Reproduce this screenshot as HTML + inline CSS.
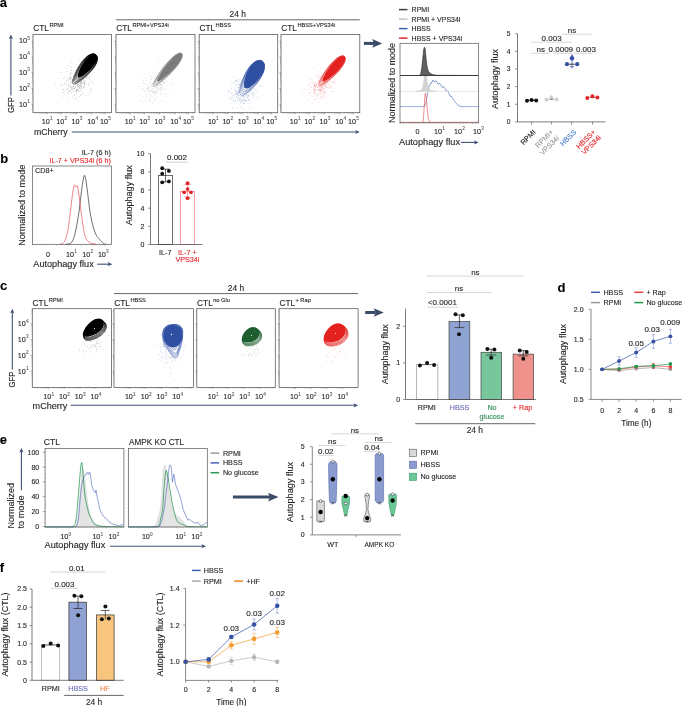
<!DOCTYPE html><html><head><meta charset="utf-8"><style>html,body{margin:0;padding:0;background:#fff;width:685px;height:706px;overflow:hidden}svg{display:block;will-change:transform}</style></head><body><svg width="685" height="706" viewBox="0 0 685 706" font-family='"Liberation Sans", sans-serif'><text x="-0.30" y="6.90" font-size="13" text-anchor="start" fill="#000" stroke="#000" stroke-width="0.12" font-weight="bold">a</text>
<text x="237.70" y="16.88" font-size="8.4" text-anchor="middle" fill="#262626" stroke="#262626" stroke-width="0.12">24 h</text>
<line x1="116.00" y1="19.80" x2="359.80" y2="19.80" stroke="#262626" stroke-width="0.7"/>
<text x="33.30" y="31.00" font-size="8.3" text-anchor="start" fill="#262626" stroke="#262626" stroke-width="0.12">CTL</text>
<text x="49.38" y="26.90" font-size="5.7" text-anchor="start" fill="#262626" stroke="#262626" stroke-width="0.12">RPMI</text>
<text x="116.30" y="31.00" font-size="8.3" text-anchor="start" fill="#262626" stroke="#262626" stroke-width="0.12">CTL</text>
<text x="132.38" y="26.90" font-size="5.7" text-anchor="start" fill="#262626" stroke="#262626" stroke-width="0.12">RPMI+VPS34i</text>
<text x="199.50" y="31.00" font-size="8.3" text-anchor="start" fill="#262626" stroke="#262626" stroke-width="0.12">CTL</text>
<text x="215.58" y="26.90" font-size="5.7" text-anchor="start" fill="#262626" stroke="#262626" stroke-width="0.12">HBSS</text>
<text x="281.30" y="31.00" font-size="8.3" text-anchor="start" fill="#262626" stroke="#262626" stroke-width="0.12">CTL</text>
<text x="297.38" y="26.90" font-size="5.7" text-anchor="start" fill="#262626" stroke="#262626" stroke-width="0.12">HBSS+VPS34i</text>
<path fill="#000" opacity="0.5" d="M78.1 86.2h0.5v0.5h-0.5zM73.9 82.7h0.5v0.5h-0.5zM71.3 87.1h0.5v0.5h-0.5zM83.7 78.1h0.5v0.5h-0.5zM82.4 77.8h0.5v0.5h-0.5zM79.3 81.2h0.5v0.5h-0.5zM73.6 95.6h0.5v0.5h-0.5zM81.4 81.8h0.5v0.5h-0.5zM59.9 85.2h0.5v0.5h-0.5zM70.1 85.8h0.5v0.5h-0.5zM77.7 80.8h0.5v0.5h-0.5zM75.5 77.1h0.5v0.5h-0.5zM80.0 82.5h0.5v0.5h-0.5zM82.6 93.4h0.5v0.5h-0.5zM85.3 84.4h0.5v0.5h-0.5zM69.9 83.2h0.5v0.5h-0.5zM74.5 84.2h0.5v0.5h-0.5zM80.6 80.1h0.5v0.5h-0.5zM69.6 81.3h0.5v0.5h-0.5zM80.6 90.6h0.5v0.5h-0.5zM74.2 88.3h0.5v0.5h-0.5zM70.6 74.2h0.5v0.5h-0.5zM83.6 87.7h0.5v0.5h-0.5zM65.9 92.8h0.5v0.5h-0.5zM71.8 79.9h0.5v0.5h-0.5zM78.4 79.6h0.5v0.5h-0.5zM74.4 94.4h0.5v0.5h-0.5zM84.4 82.7h0.5v0.5h-0.5zM84.8 76.0h0.5v0.5h-0.5zM70.3 76.7h0.5v0.5h-0.5zM76.1 76.7h0.5v0.5h-0.5zM67.9 80.1h0.5v0.5h-0.5zM69.5 86.0h0.5v0.5h-0.5zM71.6 67.1h0.5v0.5h-0.5zM71.3 91.9h0.5v0.5h-0.5zM86.0 76.8h0.5v0.5h-0.5zM55.0 83.2h0.5v0.5h-0.5zM74.3 77.6h0.5v0.5h-0.5zM76.7 93.0h0.5v0.5h-0.5zM82.2 77.1h0.5v0.5h-0.5zM79.9 83.1h0.5v0.5h-0.5zM86.8 76.2h0.5v0.5h-0.5zM81.7 82.0h0.5v0.5h-0.5zM76.3 96.8h0.5v0.5h-0.5zM83.5 79.4h0.5v0.5h-0.5zM64.5 91.3h0.5v0.5h-0.5zM70.8 70.5h0.5v0.5h-0.5zM81.0 87.9h0.5v0.5h-0.5zM79.1 96.7h0.5v0.5h-0.5zM78.2 78.9h0.5v0.5h-0.5zM81.4 83.5h0.5v0.5h-0.5zM83.1 86.7h0.5v0.5h-0.5zM71.4 84.7h0.5v0.5h-0.5zM81.3 76.9h0.5v0.5h-0.5zM77.6 91.5h0.5v0.5h-0.5zM80.7 72.5h0.5v0.5h-0.5zM69.7 90.0h0.5v0.5h-0.5zM74.3 82.3h0.5v0.5h-0.5zM77.4 70.5h0.5v0.5h-0.5zM75.5 70.3h0.5v0.5h-0.5zM76.3 89.7h0.5v0.5h-0.5zM86.0 79.8h0.5v0.5h-0.5zM78.8 81.3h0.5v0.5h-0.5zM80.2 84.2h0.5v0.5h-0.5zM77.2 84.8h0.5v0.5h-0.5zM79.1 79.4h0.5v0.5h-0.5zM82.9 80.7h0.5v0.5h-0.5zM87.1 72.6h0.5v0.5h-0.5zM72.7 83.6h0.5v0.5h-0.5zM81.3 86.5h0.5v0.5h-0.5zM77.1 86.2h0.5v0.5h-0.5zM71.3 61.8h0.5v0.5h-0.5zM72.8 90.0h0.5v0.5h-0.5zM79.6 81.4h0.5v0.5h-0.5zM78.1 87.8h0.5v0.5h-0.5zM75.1 78.9h0.5v0.5h-0.5zM89.2 70.3h0.5v0.5h-0.5zM73.6 85.4h0.5v0.5h-0.5zM75.2 83.7h0.5v0.5h-0.5zM61.9 96.2h0.5v0.5h-0.5zM74.9 72.2h0.5v0.5h-0.5zM81.2 86.9h0.5v0.5h-0.5zM88.1 83.9h0.5v0.5h-0.5zM67.2 90.9h0.5v0.5h-0.5zM78.3 87.2h0.5v0.5h-0.5zM67.4 65.5h0.5v0.5h-0.5zM73.8 70.6h0.5v0.5h-0.5zM71.8 72.7h0.5v0.5h-0.5zM83.6 86.6h0.5v0.5h-0.5zM76.9 84.3h0.5v0.5h-0.5zM80.8 78.7h0.5v0.5h-0.5zM84.2 89.4h0.5v0.5h-0.5zM79.7 75.5h0.5v0.5h-0.5zM82.7 62.4h0.5v0.5h-0.5zM79.2 76.4h0.5v0.5h-0.5zM80.8 84.8h0.5v0.5h-0.5zM80.9 84.0h0.5v0.5h-0.5zM61.9 85.2h0.5v0.5h-0.5zM74.2 75.3h0.5v0.5h-0.5zM64.3 82.5h0.5v0.5h-0.5zM86.1 78.5h0.5v0.5h-0.5zM78.2 70.5h0.5v0.5h-0.5zM70.6 78.0h0.5v0.5h-0.5zM88.2 84.8h0.5v0.5h-0.5zM80.7 94.1h0.5v0.5h-0.5zM80.0 76.3h0.5v0.5h-0.5zM75.1 99.6h0.5v0.5h-0.5zM73.0 80.8h0.5v0.5h-0.5zM80.5 82.1h0.5v0.5h-0.5zM77.9 70.0h0.5v0.5h-0.5zM89.3 82.3h0.5v0.5h-0.5zM82.0 73.7h0.5v0.5h-0.5zM78.6 91.1h0.5v0.5h-0.5zM77.7 82.5h0.5v0.5h-0.5zM81.5 73.5h0.5v0.5h-0.5zM64.3 94.1h0.5v0.5h-0.5zM72.6 96.5h0.5v0.5h-0.5zM74.8 78.4h0.5v0.5h-0.5zM80.8 86.1h0.5v0.5h-0.5zM83.8 87.6h0.5v0.5h-0.5zM81.7 87.3h0.5v0.5h-0.5zM91.6 80.8h0.5v0.5h-0.5zM78.2 90.1h0.5v0.5h-0.5zM62.6 88.9h0.5v0.5h-0.5zM73.4 98.2h0.5v0.5h-0.5zM71.0 89.6h0.5v0.5h-0.5zM75.5 83.6h0.5v0.5h-0.5zM75.1 87.0h0.5v0.5h-0.5zM84.7 72.7h0.5v0.5h-0.5zM84.1 83.7h0.5v0.5h-0.5zM69.1 78.7h0.5v0.5h-0.5zM79.7 90.2h0.5v0.5h-0.5zM66.1 89.6h0.5v0.5h-0.5zM85.1 80.2h0.5v0.5h-0.5zM80.8 85.9h0.5v0.5h-0.5zM71.1 76.9h0.5v0.5h-0.5zM66.3 88.9h0.5v0.5h-0.5zM77.7 75.1h0.5v0.5h-0.5zM68.5 84.6h0.5v0.5h-0.5zM69.1 90.9h0.5v0.5h-0.5zM73.2 90.9h0.5v0.5h-0.5zM67.8 97.4h0.5v0.5h-0.5zM63.5 78.4h0.5v0.5h-0.5zM78.3 77.4h0.5v0.5h-0.5zM62.1 91.8h0.5v0.5h-0.5zM75.4 79.2h0.5v0.5h-0.5zM83.9 81.3h0.5v0.5h-0.5zM81.2 80.2h0.5v0.5h-0.5zM85.9 77.8h0.5v0.5h-0.5zM67.7 71.6h0.5v0.5h-0.5zM87.4 82.9h0.5v0.5h-0.5zM72.8 82.4h0.5v0.5h-0.5zM76.0 64.5h0.5v0.5h-0.5zM91.3 89.9h0.5v0.5h-0.5zM76.0 90.8h0.5v0.5h-0.5zM84.3 71.5h0.5v0.5h-0.5zM83.7 83.2h0.5v0.5h-0.5zM72.1 87.5h0.5v0.5h-0.5zM82.1 84.4h0.5v0.5h-0.5zM75.4 82.1h0.5v0.5h-0.5zM70.2 87.0h0.5v0.5h-0.5zM81.0 78.0h0.5v0.5h-0.5zM68.4 84.1h0.5v0.5h-0.5zM94.3 72.2h0.5v0.5h-0.5zM65.8 68.5h0.5v0.5h-0.5zM81.8 81.1h0.5v0.5h-0.5zM86.2 74.9h0.5v0.5h-0.5zM79.0 85.2h0.5v0.5h-0.5zM73.3 97.9h0.5v0.5h-0.5zM74.3 78.0h0.5v0.5h-0.5zM91.9 82.5h0.5v0.5h-0.5zM66.8 87.9h0.5v0.5h-0.5zM78.8 81.8h0.5v0.5h-0.5zM69.7 81.0h0.5v0.5h-0.5zM91.4 74.9h0.5v0.5h-0.5zM64.2 84.0h0.5v0.5h-0.5zM89.3 77.0h0.5v0.5h-0.5zM88.8 75.7h0.5v0.5h-0.5zM74.0 88.7h0.5v0.5h-0.5zM63.1 91.9h0.5v0.5h-0.5zM79.0 85.1h0.5v0.5h-0.5zM72.7 86.3h0.5v0.5h-0.5zM80.5 81.6h0.5v0.5h-0.5zM80.5 79.9h0.5v0.5h-0.5zM79.2 87.7h0.5v0.5h-0.5zM72.4 79.0h0.5v0.5h-0.5zM73.8 86.2h0.5v0.5h-0.5zM76.9 83.9h0.5v0.5h-0.5zM77.5 83.4h0.5v0.5h-0.5zM69.4 78.3h0.5v0.5h-0.5zM83.9 84.6h0.5v0.5h-0.5zM77.5 79.4h0.5v0.5h-0.5zM73.5 76.2h0.5v0.5h-0.5zM68.4 93.7h0.5v0.5h-0.5zM76.3 91.0h0.5v0.5h-0.5zM58.0 78.1h0.5v0.5h-0.5zM80.2 95.0h0.5v0.5h-0.5zM67.7 79.3h0.5v0.5h-0.5zM75.9 89.1h0.5v0.5h-0.5zM79.7 80.6h0.5v0.5h-0.5zM86.8 77.1h0.5v0.5h-0.5zM79.6 85.2h0.5v0.5h-0.5zM88.9 77.3h0.5v0.5h-0.5zM75.4 72.4h0.5v0.5h-0.5zM79.7 86.5h0.5v0.5h-0.5zM80.8 88.7h0.5v0.5h-0.5zM83.9 83.0h0.5v0.5h-0.5zM88.9 94.3h0.5v0.5h-0.5zM80.9 74.8h0.5v0.5h-0.5zM90.5 92.8h0.5v0.5h-0.5zM79.6 88.2h0.5v0.5h-0.5zM80.9 77.1h0.5v0.5h-0.5zM72.3 90.1h0.5v0.5h-0.5zM84.0 85.2h0.5v0.5h-0.5zM80.1 78.3h0.5v0.5h-0.5zM83.1 80.0h0.5v0.5h-0.5zM77.7 81.7h0.5v0.5h-0.5zM79.0 86.9h0.5v0.5h-0.5zM68.6 86.1h0.5v0.5h-0.5zM68.9 76.7h0.5v0.5h-0.5zM64.1 76.9h0.5v0.5h-0.5zM76.5 88.9h0.5v0.5h-0.5zM78.8 79.2h0.5v0.5h-0.5zM68.1 78.2h0.5v0.5h-0.5zM87.3 74.4h0.5v0.5h-0.5zM76.8 72.9h0.5v0.5h-0.5zM66.2 76.3h0.5v0.5h-0.5zM84.9 82.1h0.5v0.5h-0.5zM67.9 93.2h0.5v0.5h-0.5zM70.1 71.9h0.5v0.5h-0.5zM62.9 88.7h0.5v0.5h-0.5zM66.4 80.5h0.5v0.5h-0.5zM78.0 83.5h0.5v0.5h-0.5zM83.0 81.9h0.5v0.5h-0.5zM89.3 78.9h0.5v0.5h-0.5zM68.1 88.1h0.5v0.5h-0.5zM66.2 84.3h0.5v0.5h-0.5zM76.2 83.2h0.5v0.5h-0.5zM70.4 73.4h0.5v0.5h-0.5zM70.9 89.6h0.5v0.5h-0.5zM74.0 82.5h0.5v0.5h-0.5zM72.3 79.9h0.5v0.5h-0.5zM81.5 80.1h0.5v0.5h-0.5zM72.6 80.4h0.5v0.5h-0.5zM61.5 72.6h0.5v0.5h-0.5zM72.4 88.4h0.5v0.5h-0.5zM70.9 92.0h0.5v0.5h-0.5zM70.0 76.2h0.5v0.5h-0.5zM73.8 82.8h0.5v0.5h-0.5zM81.8 82.6h0.5v0.5h-0.5zM71.9 79.4h0.5v0.5h-0.5zM75.6 83.2h0.5v0.5h-0.5zM81.3 79.7h0.5v0.5h-0.5zM66.3 81.2h0.5v0.5h-0.5zM71.0 81.8h0.5v0.5h-0.5zM71.0 88.5h0.5v0.5h-0.5zM74.9 85.9h0.5v0.5h-0.5zM76.7 78.0h0.5v0.5h-0.5zM85.2 68.2h0.5v0.5h-0.5zM82.1 76.9h0.5v0.5h-0.5zM69.1 66.6h0.5v0.5h-0.5zM74.5 87.9h0.5v0.5h-0.5zM91.4 88.8h0.5v0.5h-0.5zM84.7 86.1h0.5v0.5h-0.5zM84.9 82.2h0.5v0.5h-0.5zM78.0 79.1h0.5v0.5h-0.5zM73.2 75.4h0.5v0.5h-0.5zM76.5 71.8h0.5v0.5h-0.5zM88.7 89.9h0.5v0.5h-0.5zM75.7 84.0h0.5v0.5h-0.5zM81.8 76.2h0.5v0.5h-0.5zM74.3 88.3h0.5v0.5h-0.5zM82.8 82.3h0.5v0.5h-0.5zM82.3 94.2h0.5v0.5h-0.5zM84.0 73.3h0.5v0.5h-0.5zM75.5 79.4h0.5v0.5h-0.5zM79.1 71.8h0.5v0.5h-0.5zM77.0 76.9h0.5v0.5h-0.5zM77.2 89.5h0.5v0.5h-0.5zM82.4 75.1h0.5v0.5h-0.5zM77.8 89.8h0.5v0.5h-0.5zM77.9 84.2h0.5v0.5h-0.5zM89.2 78.7h0.5v0.5h-0.5zM86.2 94.9h0.5v0.5h-0.5zM80.7 85.9h0.5v0.5h-0.5zM73.4 86.2h0.5v0.5h-0.5zM78.1 99.9h0.5v0.5h-0.5zM76.2 70.0h0.5v0.5h-0.5zM61.4 84.6h0.5v0.5h-0.5zM79.4 74.1h0.5v0.5h-0.5zM74.6 81.7h0.5v0.5h-0.5zM70.3 78.9h0.5v0.5h-0.5zM69.1 76.7h0.5v0.5h-0.5zM77.8 84.3h0.5v0.5h-0.5zM77.4 79.1h0.5v0.5h-0.5zM73.4 88.5h0.5v0.5h-0.5zM82.6 91.8h0.5v0.5h-0.5zM79.3 77.8h0.5v0.5h-0.5zM70.8 82.5h0.5v0.5h-0.5zM70.5 86.6h0.5v0.5h-0.5zM80.5 83.1h0.5v0.5h-0.5zM90.0 88.0h0.5v0.5h-0.5zM73.5 86.7h0.5v0.5h-0.5zM79.2 59.2h0.5v0.5h-0.5zM75.1 86.3h0.5v0.5h-0.5zM79.4 83.5h0.5v0.5h-0.5zM77.4 85.5h0.5v0.5h-0.5zM80.8 85.5h0.5v0.5h-0.5zM63.5 89.8h0.5v0.5h-0.5zM71.1 78.5h0.5v0.5h-0.5zM75.2 91.2h0.5v0.5h-0.5zM77.0 89.0h0.5v0.5h-0.5zM81.4 79.7h0.5v0.5h-0.5zM78.2 79.4h0.5v0.5h-0.5zM70.1 90.5h0.5v0.5h-0.5zM75.8 77.9h0.5v0.5h-0.5zM80.0 86.3h0.5v0.5h-0.5zM76.0 90.3h0.5v0.5h-0.5zM81.9 69.8h0.5v0.5h-0.5zM76.4 81.2h0.5v0.5h-0.5zM85.0 75.2h0.5v0.5h-0.5zM76.9 74.8h0.5v0.5h-0.5zM76.4 82.7h0.5v0.5h-0.5zM76.2 98.6h0.5v0.5h-0.5zM71.4 70.4h0.5v0.5h-0.5zM79.2 77.9h0.5v0.5h-0.5zM80.4 81.6h0.5v0.5h-0.5zM68.8 90.3h0.5v0.5h-0.5zM80.2 71.9h0.5v0.5h-0.5zM64.9 82.9h0.5v0.5h-0.5z"/>
<path d="M95.77,54.75 L96.93,56.24 L97.41,58.35 L97.16,60.94 L96.16,63.85 L94.47,66.96 L92.18,70.11 L89.46,73.18 L86.49,76.05 L83.46,78.62 L80.57,80.79 L77.98,82.46 L75.82,83.56 L74.18,84.01 L73.11,83.75 L72.60,82.77 L72.64,81.07 L73.18,78.71 L74.18,75.80 L75.59,72.47 L77.35,68.91 L79.41,65.33 L81.73,61.94 L84.24,58.96 L86.84,56.57 L89.43,54.89 L91.87,54.03 L94.04,53.99 Z" fill="#fff" stroke="none"/>
<path d="M95.77,54.75 L96.93,56.24 L97.41,58.35 L97.16,60.94 L96.16,63.85 L94.47,66.96 L92.18,70.11 L89.46,73.18 L86.49,76.05 L83.46,78.62 L80.57,80.79 L77.98,82.46 L75.82,83.56 L74.18,84.01 L73.11,83.75 L72.60,82.77 L72.64,81.07 L73.18,78.71 L74.18,75.80 L75.59,72.47 L77.35,68.91 L79.41,65.33 L81.73,61.94 L84.24,58.96 L86.84,56.57 L89.43,54.89 L91.87,54.03 L94.04,53.99 Z" fill="none" stroke="#000" stroke-width="0.5"/>
<path d="M95.77,54.75 L96.88,56.18 L97.35,58.20 L97.11,60.68 L96.16,63.47 L94.54,66.44 L92.36,69.45 L89.75,72.39 L86.91,75.14 L84.01,77.59 L81.24,79.66 L78.76,81.26 L76.69,82.31 L75.13,82.74 L74.09,82.49 L73.61,81.55 L73.64,79.92 L74.16,77.67 L75.11,74.87 L76.45,71.69 L78.13,68.28 L80.11,64.85 L82.33,61.62 L84.72,58.77 L87.21,56.48 L89.69,54.88 L92.03,54.05 L94.11,54.02 Z" fill="none" stroke="#000" stroke-width="0.5"/>
<path d="M95.77,54.75 L96.84,56.12 L97.29,58.05 L97.07,60.42 L96.16,63.09 L94.62,65.92 L92.53,68.80 L90.04,71.60 L87.33,74.22 L84.56,76.57 L81.91,78.54 L79.54,80.06 L77.57,81.06 L76.07,81.47 L75.08,81.23 L74.61,80.33 L74.64,78.78 L75.13,76.62 L76.04,73.95 L77.31,70.91 L78.92,67.65 L80.80,64.38 L82.92,61.29 L85.20,58.57 L87.58,56.39 L89.95,54.86 L92.19,54.07 L94.18,54.05 Z" fill="none" stroke="#000" stroke-width="0.5"/>
<path d="M95.77,54.75 L96.79,56.06 L97.23,57.90 L97.02,60.16 L96.16,62.71 L94.69,65.41 L92.70,68.15 L90.34,70.81 L87.75,73.31 L85.11,75.54 L82.58,77.42 L80.32,78.87 L78.44,79.81 L77.01,80.20 L76.06,79.97 L75.62,79.11 L75.64,77.63 L76.10,75.57 L76.96,73.03 L78.18,70.12 L79.70,67.02 L81.49,63.91 L83.51,60.96 L85.69,58.37 L87.95,56.29 L90.21,54.84 L92.35,54.10 L94.25,54.08 Z" fill="none" stroke="#000" stroke-width="0.5"/>
<path d="M95.77,54.75 L96.74,56.00 L97.16,57.76 L96.97,59.90 L96.16,62.32 L94.76,64.89 L92.88,67.49 L90.63,70.03 L88.16,72.40 L85.65,74.51 L83.25,76.29 L81.10,77.67 L79.31,78.57 L77.95,78.93 L77.05,78.71 L76.62,77.89 L76.64,76.48 L77.08,74.52 L77.89,72.10 L79.04,69.34 L80.49,66.40 L82.19,63.43 L84.10,60.64 L86.17,58.18 L88.33,56.20 L90.48,54.83 L92.51,54.12 L94.32,54.10 Z" fill="none" stroke="#000" stroke-width="0.5"/>
<path d="M95.77,54.75 L96.70,55.94 L97.10,57.61 L96.92,59.65 L96.16,61.94 L94.84,64.37 L93.05,66.84 L90.92,69.24 L88.58,71.48 L86.20,73.48 L83.93,75.17 L81.89,76.47 L80.18,77.32 L78.89,77.66 L78.03,77.45 L77.62,76.67 L77.64,75.33 L78.05,73.47 L78.82,71.18 L79.90,68.56 L81.27,65.77 L82.88,62.96 L84.69,60.31 L86.65,57.98 L88.70,56.11 L90.74,54.81 L92.67,54.15 L94.39,54.13 Z" fill="#000" stroke="none"/>
<path fill="#7b7b7b" opacity="0.5" d="M149.1 95.8h0.5v0.5h-0.5zM167.3 75.7h0.5v0.5h-0.5zM166.7 93.0h0.5v0.5h-0.5zM148.8 86.9h0.5v0.5h-0.5zM160.8 84.4h0.5v0.5h-0.5zM143.6 88.5h0.5v0.5h-0.5zM157.9 84.9h0.5v0.5h-0.5zM146.2 94.3h0.5v0.5h-0.5zM153.8 91.6h0.5v0.5h-0.5zM154.0 86.4h0.5v0.5h-0.5zM157.7 92.6h0.5v0.5h-0.5zM161.9 74.7h0.5v0.5h-0.5zM156.8 77.0h0.5v0.5h-0.5zM158.9 88.4h0.5v0.5h-0.5zM162.6 73.8h0.5v0.5h-0.5zM155.5 87.2h0.5v0.5h-0.5zM146.0 96.5h0.5v0.5h-0.5zM152.6 92.1h0.5v0.5h-0.5zM139.2 86.1h0.5v0.5h-0.5zM156.5 86.7h0.5v0.5h-0.5zM155.7 93.3h0.5v0.5h-0.5zM150.6 85.5h0.5v0.5h-0.5zM150.9 76.4h0.5v0.5h-0.5zM150.8 90.6h0.5v0.5h-0.5zM159.5 79.3h0.5v0.5h-0.5zM154.0 81.2h0.5v0.5h-0.5zM164.4 90.4h0.5v0.5h-0.5zM161.6 100.1h0.5v0.5h-0.5zM151.2 90.5h0.5v0.5h-0.5zM160.7 88.7h0.5v0.5h-0.5zM138.0 86.3h0.5v0.5h-0.5zM162.4 84.8h0.5v0.5h-0.5zM170.8 91.9h0.5v0.5h-0.5zM157.5 85.5h0.5v0.5h-0.5zM162.4 80.9h0.5v0.5h-0.5zM159.6 69.4h0.5v0.5h-0.5zM137.2 75.0h0.5v0.5h-0.5zM158.3 78.8h0.5v0.5h-0.5zM170.4 87.9h0.5v0.5h-0.5zM153.9 85.0h0.5v0.5h-0.5zM148.2 86.1h0.5v0.5h-0.5zM154.1 92.9h0.5v0.5h-0.5zM155.6 85.9h0.5v0.5h-0.5zM158.1 90.7h0.5v0.5h-0.5zM157.4 81.9h0.5v0.5h-0.5zM158.4 80.7h0.5v0.5h-0.5zM154.6 99.8h0.5v0.5h-0.5zM153.6 78.9h0.5v0.5h-0.5zM163.2 79.7h0.5v0.5h-0.5zM152.8 103.3h0.5v0.5h-0.5zM161.1 87.1h0.5v0.5h-0.5zM155.6 84.0h0.5v0.5h-0.5zM150.0 100.6h0.5v0.5h-0.5zM153.9 84.6h0.5v0.5h-0.5zM157.5 83.8h0.5v0.5h-0.5zM157.5 79.7h0.5v0.5h-0.5zM145.1 77.8h0.5v0.5h-0.5zM155.5 91.6h0.5v0.5h-0.5zM161.6 75.1h0.5v0.5h-0.5zM161.5 93.0h0.5v0.5h-0.5zM156.4 91.1h0.5v0.5h-0.5zM165.5 74.3h0.5v0.5h-0.5zM159.3 74.5h0.5v0.5h-0.5zM156.0 84.2h0.5v0.5h-0.5zM160.9 89.6h0.5v0.5h-0.5zM166.6 66.5h0.5v0.5h-0.5zM153.8 91.9h0.5v0.5h-0.5zM150.9 95.3h0.5v0.5h-0.5zM157.3 80.8h0.5v0.5h-0.5zM151.3 76.1h0.5v0.5h-0.5zM152.7 74.5h0.5v0.5h-0.5zM148.3 88.6h0.5v0.5h-0.5zM156.5 92.1h0.5v0.5h-0.5zM153.8 83.8h0.5v0.5h-0.5zM165.5 88.3h0.5v0.5h-0.5zM156.7 87.3h0.5v0.5h-0.5zM163.8 78.3h0.5v0.5h-0.5zM158.5 104.7h0.5v0.5h-0.5zM159.5 62.6h0.5v0.5h-0.5zM156.7 87.9h0.5v0.5h-0.5zM164.0 81.8h0.5v0.5h-0.5zM148.6 83.7h0.5v0.5h-0.5zM160.4 89.3h0.5v0.5h-0.5zM143.8 89.5h0.5v0.5h-0.5zM146.1 78.5h0.5v0.5h-0.5zM151.5 86.0h0.5v0.5h-0.5zM154.6 80.0h0.5v0.5h-0.5zM147.9 90.6h0.5v0.5h-0.5zM151.7 83.7h0.5v0.5h-0.5zM158.5 88.8h0.5v0.5h-0.5zM170.0 84.3h0.5v0.5h-0.5zM148.4 89.8h0.5v0.5h-0.5zM148.5 110.8h0.5v0.5h-0.5zM150.5 90.9h0.5v0.5h-0.5zM152.1 76.9h0.5v0.5h-0.5zM157.8 82.6h0.5v0.5h-0.5zM145.2 99.9h0.5v0.5h-0.5zM153.9 70.2h0.5v0.5h-0.5zM160.9 81.1h0.5v0.5h-0.5zM159.9 84.3h0.5v0.5h-0.5zM162.0 75.9h0.5v0.5h-0.5zM158.5 78.2h0.5v0.5h-0.5zM155.8 77.6h0.5v0.5h-0.5zM162.2 93.5h0.5v0.5h-0.5zM157.1 82.2h0.5v0.5h-0.5zM144.5 90.9h0.5v0.5h-0.5zM160.5 88.3h0.5v0.5h-0.5zM160.0 85.0h0.5v0.5h-0.5zM160.9 91.5h0.5v0.5h-0.5zM150.2 86.5h0.5v0.5h-0.5zM160.8 80.0h0.5v0.5h-0.5zM150.7 85.6h0.5v0.5h-0.5zM156.3 90.2h0.5v0.5h-0.5zM151.7 78.7h0.5v0.5h-0.5zM158.5 83.6h0.5v0.5h-0.5zM152.4 96.0h0.5v0.5h-0.5zM151.8 86.6h0.5v0.5h-0.5zM165.9 85.5h0.5v0.5h-0.5zM152.8 92.5h0.5v0.5h-0.5zM160.2 101.2h0.5v0.5h-0.5zM157.5 94.1h0.5v0.5h-0.5zM154.8 93.7h0.5v0.5h-0.5zM157.1 60.4h0.5v0.5h-0.5zM154.7 91.0h0.5v0.5h-0.5zM151.5 84.0h0.5v0.5h-0.5zM168.5 71.1h0.5v0.5h-0.5zM148.9 100.8h0.5v0.5h-0.5zM149.8 102.5h0.5v0.5h-0.5zM152.2 90.6h0.5v0.5h-0.5zM163.3 77.5h0.5v0.5h-0.5zM138.9 89.0h0.5v0.5h-0.5zM165.6 80.5h0.5v0.5h-0.5zM154.0 95.0h0.5v0.5h-0.5zM161.0 85.0h0.5v0.5h-0.5zM139.9 100.6h0.5v0.5h-0.5zM163.9 82.5h0.5v0.5h-0.5zM149.3 70.1h0.5v0.5h-0.5zM158.3 86.7h0.5v0.5h-0.5zM166.3 64.3h0.5v0.5h-0.5zM153.2 88.4h0.5v0.5h-0.5zM158.5 78.0h0.5v0.5h-0.5zM158.5 74.8h0.5v0.5h-0.5zM154.3 82.0h0.5v0.5h-0.5zM152.9 82.1h0.5v0.5h-0.5zM150.3 101.4h0.5v0.5h-0.5zM154.4 81.6h0.5v0.5h-0.5zM160.8 88.4h0.5v0.5h-0.5zM148.6 92.4h0.5v0.5h-0.5zM160.7 84.2h0.5v0.5h-0.5zM143.5 80.0h0.5v0.5h-0.5zM164.1 78.5h0.5v0.5h-0.5zM153.9 84.7h0.5v0.5h-0.5zM154.7 82.4h0.5v0.5h-0.5zM145.5 90.2h0.5v0.5h-0.5zM148.6 87.7h0.5v0.5h-0.5zM150.9 96.6h0.5v0.5h-0.5zM150.0 97.7h0.5v0.5h-0.5zM150.5 94.4h0.5v0.5h-0.5zM164.4 77.1h0.5v0.5h-0.5zM150.8 91.3h0.5v0.5h-0.5zM148.1 78.1h0.5v0.5h-0.5zM152.1 90.8h0.5v0.5h-0.5zM152.6 89.5h0.5v0.5h-0.5zM163.0 83.8h0.5v0.5h-0.5zM163.2 81.9h0.5v0.5h-0.5zM153.2 87.9h0.5v0.5h-0.5zM152.0 86.6h0.5v0.5h-0.5zM146.1 80.4h0.5v0.5h-0.5zM152.9 88.2h0.5v0.5h-0.5zM149.0 92.7h0.5v0.5h-0.5zM157.5 81.7h0.5v0.5h-0.5zM155.9 61.1h0.5v0.5h-0.5zM145.5 80.2h0.5v0.5h-0.5zM173.1 89.5h0.5v0.5h-0.5zM140.4 104.0h0.5v0.5h-0.5zM156.8 81.1h0.5v0.5h-0.5zM148.3 73.2h0.5v0.5h-0.5zM161.9 81.4h0.5v0.5h-0.5zM152.5 83.5h0.5v0.5h-0.5zM156.7 79.5h0.5v0.5h-0.5zM154.1 82.4h0.5v0.5h-0.5zM141.2 101.6h0.5v0.5h-0.5zM159.7 87.5h0.5v0.5h-0.5zM149.6 92.0h0.5v0.5h-0.5zM159.5 82.2h0.5v0.5h-0.5zM171.7 85.1h0.5v0.5h-0.5zM140.8 84.8h0.5v0.5h-0.5zM167.2 85.9h0.5v0.5h-0.5zM164.4 82.7h0.5v0.5h-0.5zM148.0 87.5h0.5v0.5h-0.5zM156.3 76.1h0.5v0.5h-0.5zM139.5 94.7h0.5v0.5h-0.5zM179.0 76.0h0.5v0.5h-0.5zM147.6 87.9h0.5v0.5h-0.5zM153.1 81.4h0.5v0.5h-0.5zM162.7 76.4h0.5v0.5h-0.5zM154.4 98.7h0.5v0.5h-0.5zM152.5 90.9h0.5v0.5h-0.5zM153.6 84.8h0.5v0.5h-0.5zM153.9 80.9h0.5v0.5h-0.5zM133.8 90.2h0.5v0.5h-0.5zM143.9 91.8h0.5v0.5h-0.5zM155.2 86.3h0.5v0.5h-0.5zM159.0 82.5h0.5v0.5h-0.5zM147.0 88.7h0.5v0.5h-0.5zM141.4 100.1h0.5v0.5h-0.5zM160.4 84.6h0.5v0.5h-0.5zM153.5 86.1h0.5v0.5h-0.5zM160.8 79.4h0.5v0.5h-0.5zM162.2 83.0h0.5v0.5h-0.5zM162.3 89.6h0.5v0.5h-0.5zM149.9 88.5h0.5v0.5h-0.5zM146.5 88.5h0.5v0.5h-0.5zM172.5 81.9h0.5v0.5h-0.5zM157.8 88.0h0.5v0.5h-0.5zM165.9 80.9h0.5v0.5h-0.5zM156.7 72.5h0.5v0.5h-0.5zM153.2 92.2h0.5v0.5h-0.5zM164.3 76.3h0.5v0.5h-0.5zM148.2 90.6h0.5v0.5h-0.5zM147.1 87.2h0.5v0.5h-0.5zM161.4 72.9h0.5v0.5h-0.5zM165.0 94.3h0.5v0.5h-0.5zM163.8 78.9h0.5v0.5h-0.5zM153.2 91.8h0.5v0.5h-0.5zM167.8 77.0h0.5v0.5h-0.5zM163.2 77.5h0.5v0.5h-0.5zM157.3 81.5h0.5v0.5h-0.5zM163.5 88.1h0.5v0.5h-0.5zM146.0 95.7h0.5v0.5h-0.5zM153.9 82.0h0.5v0.5h-0.5zM156.7 91.2h0.5v0.5h-0.5zM170.1 74.4h0.5v0.5h-0.5zM150.0 77.5h0.5v0.5h-0.5zM167.2 72.7h0.5v0.5h-0.5zM149.8 81.8h0.5v0.5h-0.5zM149.7 82.0h0.5v0.5h-0.5zM157.6 87.3h0.5v0.5h-0.5zM156.5 86.8h0.5v0.5h-0.5zM156.3 97.5h0.5v0.5h-0.5zM142.8 83.4h0.5v0.5h-0.5zM150.4 84.2h0.5v0.5h-0.5zM147.3 91.6h0.5v0.5h-0.5zM151.5 79.2h0.5v0.5h-0.5zM160.7 92.5h0.5v0.5h-0.5zM158.5 80.5h0.5v0.5h-0.5zM155.3 84.6h0.5v0.5h-0.5zM158.1 89.2h0.5v0.5h-0.5zM143.6 77.1h0.5v0.5h-0.5zM150.9 82.6h0.5v0.5h-0.5zM156.3 79.0h0.5v0.5h-0.5zM165.8 93.5h0.5v0.5h-0.5zM143.6 88.9h0.5v0.5h-0.5zM135.6 86.4h0.5v0.5h-0.5zM145.2 100.6h0.5v0.5h-0.5zM142.7 83.1h0.5v0.5h-0.5zM148.8 98.8h0.5v0.5h-0.5zM148.7 89.9h0.5v0.5h-0.5zM163.2 89.0h0.5v0.5h-0.5zM171.6 76.4h0.5v0.5h-0.5zM156.8 85.7h0.5v0.5h-0.5zM172.5 78.9h0.5v0.5h-0.5zM155.2 89.9h0.5v0.5h-0.5zM157.0 84.1h0.5v0.5h-0.5zM146.0 84.2h0.5v0.5h-0.5zM144.8 83.6h0.5v0.5h-0.5zM164.9 79.5h0.5v0.5h-0.5zM154.0 99.9h0.5v0.5h-0.5zM151.9 72.2h0.5v0.5h-0.5zM170.0 76.2h0.5v0.5h-0.5zM162.1 66.6h0.5v0.5h-0.5zM160.2 83.9h0.5v0.5h-0.5zM157.1 85.2h0.5v0.5h-0.5zM154.7 72.7h0.5v0.5h-0.5zM141.2 89.2h0.5v0.5h-0.5zM148.9 87.5h0.5v0.5h-0.5zM158.5 84.4h0.5v0.5h-0.5zM152.2 83.1h0.5v0.5h-0.5zM156.7 92.8h0.5v0.5h-0.5zM160.2 81.0h0.5v0.5h-0.5zM160.1 94.3h0.5v0.5h-0.5zM154.4 92.7h0.5v0.5h-0.5zM160.9 76.8h0.5v0.5h-0.5zM155.0 75.7h0.5v0.5h-0.5zM162.1 79.6h0.5v0.5h-0.5zM148.4 99.7h0.5v0.5h-0.5zM155.4 97.2h0.5v0.5h-0.5zM150.2 90.1h0.5v0.5h-0.5zM155.3 82.6h0.5v0.5h-0.5zM154.1 81.9h0.5v0.5h-0.5zM159.2 81.2h0.5v0.5h-0.5zM143.9 73.6h0.5v0.5h-0.5zM162.3 77.9h0.5v0.5h-0.5zM144.6 98.8h0.5v0.5h-0.5zM162.8 86.9h0.5v0.5h-0.5zM155.5 99.6h0.5v0.5h-0.5zM164.9 96.5h0.5v0.5h-0.5zM157.2 89.6h0.5v0.5h-0.5zM147.8 84.1h0.5v0.5h-0.5zM165.8 81.8h0.5v0.5h-0.5zM168.3 78.5h0.5v0.5h-0.5zM144.0 83.4h0.5v0.5h-0.5zM148.0 87.8h0.5v0.5h-0.5zM152.7 93.9h0.5v0.5h-0.5zM155.8 82.6h0.5v0.5h-0.5zM155.4 84.1h0.5v0.5h-0.5zM159.8 87.4h0.5v0.5h-0.5zM157.8 76.5h0.5v0.5h-0.5zM152.3 102.1h0.5v0.5h-0.5zM160.8 89.5h0.5v0.5h-0.5zM143.5 96.2h0.5v0.5h-0.5zM148.7 80.1h0.5v0.5h-0.5zM155.2 92.4h0.5v0.5h-0.5zM168.9 84.6h0.5v0.5h-0.5zM143.4 86.5h0.5v0.5h-0.5zM162.5 86.0h0.5v0.5h-0.5zM150.3 79.5h0.5v0.5h-0.5zM163.4 83.6h0.5v0.5h-0.5zM156.2 80.1h0.5v0.5h-0.5zM160.5 86.9h0.5v0.5h-0.5zM143.3 82.6h0.5v0.5h-0.5zM159.2 85.5h0.5v0.5h-0.5zM159.2 89.3h0.5v0.5h-0.5zM151.1 89.7h0.5v0.5h-0.5zM155.8 90.3h0.5v0.5h-0.5zM163.7 73.7h0.5v0.5h-0.5zM174.5 77.5h0.5v0.5h-0.5zM162.5 82.7h0.5v0.5h-0.5zM165.0 72.8h0.5v0.5h-0.5zM149.6 82.5h0.5v0.5h-0.5z"/>
<path d="M181.60,53.56 L182.23,54.83 L182.09,56.82 L181.17,59.43 L179.49,62.50 L177.14,65.88 L174.25,69.42 L170.99,72.96 L167.56,76.34 L164.14,79.42 L160.95,82.07 L158.14,84.16 L155.86,85.59 L154.22,86.28 L153.26,86.17 L153.02,85.24 L153.47,83.51 L154.57,81.06 L156.25,77.98 L158.42,74.45 L161.00,70.64 L163.87,66.77 L166.92,63.05 L170.02,59.70 L173.05,56.90 L175.86,54.81 L178.31,53.53 L180.26,53.11 Z" fill="#fff" stroke="none"/>
<path d="M181.60,53.56 L182.23,54.83 L182.09,56.82 L181.17,59.43 L179.49,62.50 L177.14,65.88 L174.25,69.42 L170.99,72.96 L167.56,76.34 L164.14,79.42 L160.95,82.07 L158.14,84.16 L155.86,85.59 L154.22,86.28 L153.26,86.17 L153.02,85.24 L153.47,83.51 L154.57,81.06 L156.25,77.98 L158.42,74.45 L161.00,70.64 L163.87,66.77 L166.92,63.05 L170.02,59.70 L173.05,56.90 L175.86,54.81 L178.31,53.53 L180.26,53.11 Z" fill="none" stroke="#7b7b7b" stroke-width="0.5"/>
<path d="M181.60,53.56 L182.20,54.77 L182.06,56.66 L181.17,59.14 L179.57,62.07 L177.33,65.30 L174.57,68.67 L171.47,72.05 L168.19,75.28 L164.94,78.22 L161.89,80.74 L159.22,82.74 L157.05,84.10 L155.48,84.76 L154.57,84.66 L154.34,83.77 L154.77,82.13 L155.83,79.79 L157.43,76.86 L159.51,73.49 L161.97,69.86 L164.71,66.17 L167.62,62.63 L170.58,59.43 L173.46,56.76 L176.13,54.76 L178.47,53.54 L180.33,53.14 Z" fill="none" stroke="#7b7b7b" stroke-width="0.5"/>
<path d="M181.60,53.56 L182.17,54.70 L182.03,56.51 L181.18,58.86 L179.65,61.65 L177.52,64.71 L174.90,67.93 L171.94,71.14 L168.83,74.21 L165.74,77.01 L162.84,79.41 L160.30,81.32 L158.23,82.62 L156.75,83.24 L155.89,83.15 L155.67,82.31 L156.08,80.75 L157.09,78.52 L158.61,75.74 L160.59,72.54 L162.94,69.09 L165.54,65.57 L168.31,62.20 L171.13,59.16 L173.87,56.62 L176.41,54.72 L178.63,53.55 L180.39,53.16 Z" fill="none" stroke="#7b7b7b" stroke-width="0.5"/>
<path d="M181.60,53.56 L182.13,54.64 L182.00,56.35 L181.19,58.58 L179.74,61.22 L177.71,64.13 L175.22,67.18 L172.42,70.22 L169.46,73.14 L166.53,75.80 L163.78,78.08 L161.37,79.89 L159.42,81.13 L158.01,81.73 L157.20,81.64 L157.00,80.84 L157.39,79.37 L158.35,77.26 L159.80,74.62 L161.68,71.58 L163.91,68.31 L166.38,64.98 L169.01,61.78 L171.68,58.89 L174.28,56.48 L176.69,54.67 L178.79,53.56 L180.46,53.19 Z" fill="#7b7b7b" stroke="none"/>
<path fill="#2f4fa2" opacity="0.5" d="M252.0 93.2h0.5v0.5h-0.5zM247.3 89.7h0.5v0.5h-0.5zM243.1 93.4h0.5v0.5h-0.5zM243.2 103.8h0.5v0.5h-0.5zM235.5 90.4h0.5v0.5h-0.5zM235.7 93.4h0.5v0.5h-0.5zM251.9 89.9h0.5v0.5h-0.5zM242.8 102.9h0.5v0.5h-0.5zM243.3 84.2h0.5v0.5h-0.5zM233.3 98.1h0.5v0.5h-0.5zM242.4 96.6h0.5v0.5h-0.5zM230.8 87.0h0.5v0.5h-0.5zM235.7 85.0h0.5v0.5h-0.5zM240.0 82.0h0.5v0.5h-0.5zM235.8 92.9h0.5v0.5h-0.5zM247.9 99.2h0.5v0.5h-0.5zM249.5 88.4h0.5v0.5h-0.5zM236.0 84.4h0.5v0.5h-0.5zM238.1 92.9h0.5v0.5h-0.5zM242.0 99.2h0.5v0.5h-0.5zM236.4 93.7h0.5v0.5h-0.5zM228.0 91.1h0.5v0.5h-0.5zM252.4 92.4h0.5v0.5h-0.5zM238.5 87.2h0.5v0.5h-0.5zM233.6 108.7h0.5v0.5h-0.5zM249.2 85.1h0.5v0.5h-0.5zM254.4 90.8h0.5v0.5h-0.5zM244.9 83.2h0.5v0.5h-0.5zM251.2 87.7h0.5v0.5h-0.5zM235.0 99.6h0.5v0.5h-0.5zM237.0 99.9h0.5v0.5h-0.5zM239.5 84.5h0.5v0.5h-0.5zM242.1 108.4h0.5v0.5h-0.5zM252.3 94.2h0.5v0.5h-0.5zM243.6 103.2h0.5v0.5h-0.5zM261.6 85.6h0.5v0.5h-0.5zM243.6 93.7h0.5v0.5h-0.5zM247.7 95.8h0.5v0.5h-0.5zM247.4 85.5h0.5v0.5h-0.5zM241.8 102.3h0.5v0.5h-0.5zM244.6 96.5h0.5v0.5h-0.5zM252.7 95.4h0.5v0.5h-0.5zM244.9 83.1h0.5v0.5h-0.5zM253.8 95.3h0.5v0.5h-0.5zM243.3 96.3h0.5v0.5h-0.5zM254.3 88.5h0.5v0.5h-0.5zM237.9 84.0h0.5v0.5h-0.5zM239.5 100.1h0.5v0.5h-0.5zM258.1 97.7h0.5v0.5h-0.5zM245.8 100.6h0.5v0.5h-0.5zM237.0 81.3h0.5v0.5h-0.5zM240.8 97.1h0.5v0.5h-0.5zM240.3 94.1h0.5v0.5h-0.5zM240.5 86.0h0.5v0.5h-0.5zM241.4 86.6h0.5v0.5h-0.5zM243.8 96.7h0.5v0.5h-0.5zM242.3 96.0h0.5v0.5h-0.5zM249.2 81.9h0.5v0.5h-0.5zM246.4 94.9h0.5v0.5h-0.5zM247.4 97.4h0.5v0.5h-0.5zM241.4 101.5h0.5v0.5h-0.5zM236.8 92.0h0.5v0.5h-0.5zM245.2 77.9h0.5v0.5h-0.5zM253.2 83.0h0.5v0.5h-0.5zM243.3 79.4h0.5v0.5h-0.5zM255.4 89.1h0.5v0.5h-0.5zM241.9 91.8h0.5v0.5h-0.5zM253.3 77.2h0.5v0.5h-0.5zM238.0 92.0h0.5v0.5h-0.5zM246.5 89.9h0.5v0.5h-0.5zM252.9 96.2h0.5v0.5h-0.5zM244.3 95.1h0.5v0.5h-0.5zM243.2 79.3h0.5v0.5h-0.5zM256.8 91.3h0.5v0.5h-0.5zM232.0 96.2h0.5v0.5h-0.5zM229.2 91.7h0.5v0.5h-0.5zM234.8 82.6h0.5v0.5h-0.5zM252.7 93.4h0.5v0.5h-0.5zM235.1 100.4h0.5v0.5h-0.5zM239.8 105.9h0.5v0.5h-0.5zM238.8 95.2h0.5v0.5h-0.5zM246.1 93.0h0.5v0.5h-0.5zM241.8 93.7h0.5v0.5h-0.5zM241.5 95.3h0.5v0.5h-0.5zM238.9 98.9h0.5v0.5h-0.5zM233.0 101.7h0.5v0.5h-0.5zM250.7 80.1h0.5v0.5h-0.5zM239.6 100.1h0.5v0.5h-0.5zM230.5 92.0h0.5v0.5h-0.5zM244.1 98.5h0.5v0.5h-0.5zM243.9 88.9h0.5v0.5h-0.5zM233.7 93.6h0.5v0.5h-0.5zM249.5 84.1h0.5v0.5h-0.5zM228.1 90.3h0.5v0.5h-0.5zM251.0 108.2h0.5v0.5h-0.5zM238.2 98.3h0.5v0.5h-0.5zM243.0 89.8h0.5v0.5h-0.5zM234.6 88.7h0.5v0.5h-0.5zM248.0 103.6h0.5v0.5h-0.5zM244.6 99.0h0.5v0.5h-0.5zM235.1 101.0h0.5v0.5h-0.5zM249.5 93.4h0.5v0.5h-0.5zM241.9 100.4h0.5v0.5h-0.5zM240.5 86.7h0.5v0.5h-0.5zM240.0 85.6h0.5v0.5h-0.5zM239.9 96.4h0.5v0.5h-0.5zM232.1 107.8h0.5v0.5h-0.5zM231.4 92.8h0.5v0.5h-0.5zM245.5 96.7h0.5v0.5h-0.5zM248.2 98.3h0.5v0.5h-0.5zM231.6 94.3h0.5v0.5h-0.5zM251.1 83.4h0.5v0.5h-0.5zM242.2 83.0h0.5v0.5h-0.5zM247.5 87.5h0.5v0.5h-0.5zM245.6 87.7h0.5v0.5h-0.5zM244.1 82.0h0.5v0.5h-0.5zM231.4 92.5h0.5v0.5h-0.5zM243.5 82.0h0.5v0.5h-0.5zM234.0 94.8h0.5v0.5h-0.5zM234.5 90.0h0.5v0.5h-0.5zM238.5 91.2h0.5v0.5h-0.5zM235.8 91.7h0.5v0.5h-0.5zM240.7 89.8h0.5v0.5h-0.5zM244.8 91.7h0.5v0.5h-0.5zM232.6 82.2h0.5v0.5h-0.5zM236.7 92.2h0.5v0.5h-0.5zM237.5 81.6h0.5v0.5h-0.5zM238.7 94.9h0.5v0.5h-0.5zM247.0 96.9h0.5v0.5h-0.5zM246.5 97.5h0.5v0.5h-0.5zM227.7 94.5h0.5v0.5h-0.5zM250.0 85.6h0.5v0.5h-0.5zM245.5 89.0h0.5v0.5h-0.5zM238.4 84.5h0.5v0.5h-0.5zM243.8 84.0h0.5v0.5h-0.5zM247.2 85.8h0.5v0.5h-0.5zM228.6 99.3h0.5v0.5h-0.5zM246.6 84.2h0.5v0.5h-0.5zM242.8 94.8h0.5v0.5h-0.5zM238.5 92.3h0.5v0.5h-0.5zM244.2 91.4h0.5v0.5h-0.5zM249.0 82.5h0.5v0.5h-0.5zM259.8 86.1h0.5v0.5h-0.5zM255.2 84.6h0.5v0.5h-0.5zM244.2 91.2h0.5v0.5h-0.5zM238.6 90.0h0.5v0.5h-0.5zM239.3 89.8h0.5v0.5h-0.5zM252.1 83.3h0.5v0.5h-0.5zM231.1 87.9h0.5v0.5h-0.5zM240.6 90.5h0.5v0.5h-0.5zM232.8 94.4h0.5v0.5h-0.5zM237.5 107.2h0.5v0.5h-0.5zM256.5 100.6h0.5v0.5h-0.5zM242.1 91.3h0.5v0.5h-0.5zM249.2 83.2h0.5v0.5h-0.5zM241.7 89.3h0.5v0.5h-0.5zM248.7 100.3h0.5v0.5h-0.5zM256.0 91.2h0.5v0.5h-0.5zM241.8 93.8h0.5v0.5h-0.5zM244.8 100.2h0.5v0.5h-0.5zM240.7 102.0h0.5v0.5h-0.5zM254.7 89.6h0.5v0.5h-0.5zM245.2 100.9h0.5v0.5h-0.5zM236.2 93.4h0.5v0.5h-0.5zM244.1 103.5h0.5v0.5h-0.5zM246.1 79.5h0.5v0.5h-0.5zM238.3 95.1h0.5v0.5h-0.5zM257.9 79.6h0.5v0.5h-0.5zM231.3 88.9h0.5v0.5h-0.5zM246.8 99.6h0.5v0.5h-0.5zM248.7 79.3h0.5v0.5h-0.5zM237.6 94.1h0.5v0.5h-0.5zM240.7 106.1h0.5v0.5h-0.5zM244.5 101.7h0.5v0.5h-0.5zM229.7 97.7h0.5v0.5h-0.5zM240.0 87.3h0.5v0.5h-0.5zM246.0 86.8h0.5v0.5h-0.5zM241.8 100.8h0.5v0.5h-0.5zM236.0 80.0h0.5v0.5h-0.5zM252.6 82.1h0.5v0.5h-0.5zM236.0 80.7h0.5v0.5h-0.5zM238.4 94.8h0.5v0.5h-0.5zM239.3 80.1h0.5v0.5h-0.5zM228.8 90.2h0.5v0.5h-0.5zM243.9 94.2h0.5v0.5h-0.5zM233.4 99.9h0.5v0.5h-0.5zM253.4 93.7h0.5v0.5h-0.5zM243.9 86.5h0.5v0.5h-0.5zM233.5 95.6h0.5v0.5h-0.5zM241.3 96.1h0.5v0.5h-0.5zM251.7 97.4h0.5v0.5h-0.5zM238.4 86.2h0.5v0.5h-0.5zM254.0 85.3h0.5v0.5h-0.5zM239.5 88.5h0.5v0.5h-0.5zM230.4 99.6h0.5v0.5h-0.5zM242.2 83.3h0.5v0.5h-0.5zM239.0 100.3h0.5v0.5h-0.5zM247.2 92.1h0.5v0.5h-0.5zM253.0 92.3h0.5v0.5h-0.5zM245.0 100.0h0.5v0.5h-0.5zM242.9 99.9h0.5v0.5h-0.5zM245.0 91.3h0.5v0.5h-0.5zM246.6 85.6h0.5v0.5h-0.5zM251.9 87.7h0.5v0.5h-0.5zM240.5 88.8h0.5v0.5h-0.5zM237.3 94.4h0.5v0.5h-0.5zM242.1 92.7h0.5v0.5h-0.5zM257.8 75.5h0.5v0.5h-0.5zM241.3 84.0h0.5v0.5h-0.5zM238.6 94.8h0.5v0.5h-0.5zM238.2 86.9h0.5v0.5h-0.5zM246.1 79.8h0.5v0.5h-0.5zM234.6 77.2h0.5v0.5h-0.5zM244.5 92.5h0.5v0.5h-0.5zM246.9 92.4h0.5v0.5h-0.5zM244.9 90.4h0.5v0.5h-0.5zM232.0 100.7h0.5v0.5h-0.5zM237.4 108.0h0.5v0.5h-0.5zM243.1 89.0h0.5v0.5h-0.5zM236.8 94.6h0.5v0.5h-0.5zM259.3 86.1h0.5v0.5h-0.5zM249.7 96.2h0.5v0.5h-0.5zM226.6 94.8h0.5v0.5h-0.5zM236.5 91.6h0.5v0.5h-0.5zM241.9 95.6h0.5v0.5h-0.5zM251.0 70.9h0.5v0.5h-0.5zM244.7 92.2h0.5v0.5h-0.5zM247.8 94.9h0.5v0.5h-0.5zM243.1 76.6h0.5v0.5h-0.5zM242.2 89.7h0.5v0.5h-0.5zM236.2 84.3h0.5v0.5h-0.5zM223.9 94.6h0.5v0.5h-0.5zM246.0 89.0h0.5v0.5h-0.5zM230.6 83.2h0.5v0.5h-0.5zM237.5 91.3h0.5v0.5h-0.5zM232.7 97.1h0.5v0.5h-0.5zM248.6 89.1h0.5v0.5h-0.5zM245.7 93.4h0.5v0.5h-0.5zM241.1 95.5h0.5v0.5h-0.5zM246.1 93.2h0.5v0.5h-0.5zM242.0 91.5h0.5v0.5h-0.5zM239.0 90.2h0.5v0.5h-0.5zM254.3 79.6h0.5v0.5h-0.5zM256.9 96.6h0.5v0.5h-0.5zM240.0 77.8h0.5v0.5h-0.5zM250.1 90.1h0.5v0.5h-0.5zM257.2 84.4h0.5v0.5h-0.5zM239.7 82.9h0.5v0.5h-0.5zM241.1 97.8h0.5v0.5h-0.5zM239.5 85.1h0.5v0.5h-0.5zM239.4 92.6h0.5v0.5h-0.5zM245.0 92.3h0.5v0.5h-0.5zM235.3 89.2h0.5v0.5h-0.5zM256.3 89.3h0.5v0.5h-0.5zM248.1 95.6h0.5v0.5h-0.5zM248.2 91.1h0.5v0.5h-0.5zM240.8 86.1h0.5v0.5h-0.5zM250.6 91.4h0.5v0.5h-0.5zM250.1 103.6h0.5v0.5h-0.5zM260.7 84.9h0.5v0.5h-0.5zM254.6 81.9h0.5v0.5h-0.5zM238.5 91.6h0.5v0.5h-0.5zM240.5 96.9h0.5v0.5h-0.5zM246.5 94.0h0.5v0.5h-0.5zM247.6 111.6h0.5v0.5h-0.5zM251.5 77.6h0.5v0.5h-0.5zM248.1 89.0h0.5v0.5h-0.5zM242.9 89.2h0.5v0.5h-0.5zM238.1 89.6h0.5v0.5h-0.5zM243.6 90.4h0.5v0.5h-0.5zM239.7 86.8h0.5v0.5h-0.5zM243.4 91.5h0.5v0.5h-0.5zM239.6 84.3h0.5v0.5h-0.5zM249.9 92.3h0.5v0.5h-0.5zM243.3 86.7h0.5v0.5h-0.5zM239.9 93.8h0.5v0.5h-0.5zM254.1 92.3h0.5v0.5h-0.5zM239.0 90.4h0.5v0.5h-0.5zM245.5 89.9h0.5v0.5h-0.5zM235.6 94.6h0.5v0.5h-0.5zM246.2 94.4h0.5v0.5h-0.5zM233.0 95.4h0.5v0.5h-0.5zM238.4 84.4h0.5v0.5h-0.5zM245.3 92.1h0.5v0.5h-0.5zM237.1 88.8h0.5v0.5h-0.5zM241.0 90.8h0.5v0.5h-0.5zM239.8 86.7h0.5v0.5h-0.5zM238.2 79.3h0.5v0.5h-0.5zM242.4 92.7h0.5v0.5h-0.5zM243.4 83.7h0.5v0.5h-0.5zM242.1 86.3h0.5v0.5h-0.5zM255.1 92.9h0.5v0.5h-0.5zM243.8 95.5h0.5v0.5h-0.5zM244.7 100.5h0.5v0.5h-0.5zM247.8 84.3h0.5v0.5h-0.5zM240.8 99.8h0.5v0.5h-0.5zM253.2 88.2h0.5v0.5h-0.5zM236.3 80.5h0.5v0.5h-0.5zM248.0 100.5h0.5v0.5h-0.5zM244.4 102.8h0.5v0.5h-0.5zM254.3 82.6h0.5v0.5h-0.5zM245.5 83.6h0.5v0.5h-0.5zM237.8 98.7h0.5v0.5h-0.5zM242.0 92.6h0.5v0.5h-0.5zM244.9 86.8h0.5v0.5h-0.5zM246.0 91.8h0.5v0.5h-0.5zM252.8 97.7h0.5v0.5h-0.5zM245.1 89.1h0.5v0.5h-0.5zM238.9 90.7h0.5v0.5h-0.5zM248.9 83.9h0.5v0.5h-0.5zM235.9 96.3h0.5v0.5h-0.5zM240.1 90.9h0.5v0.5h-0.5zM240.9 81.1h0.5v0.5h-0.5zM245.6 89.0h0.5v0.5h-0.5zM238.8 98.9h0.5v0.5h-0.5zM245.3 93.8h0.5v0.5h-0.5zM242.9 95.3h0.5v0.5h-0.5zM230.9 98.1h0.5v0.5h-0.5zM251.6 90.2h0.5v0.5h-0.5zM239.8 89.6h0.5v0.5h-0.5zM236.0 78.0h0.5v0.5h-0.5zM243.5 98.7h0.5v0.5h-0.5zM240.0 84.1h0.5v0.5h-0.5zM243.6 107.9h0.5v0.5h-0.5zM238.8 87.6h0.5v0.5h-0.5zM248.0 94.2h0.5v0.5h-0.5zM239.0 111.1h0.5v0.5h-0.5zM234.7 80.1h0.5v0.5h-0.5zM236.4 80.9h0.5v0.5h-0.5zM249.5 85.9h0.5v0.5h-0.5zM248.3 75.8h0.5v0.5h-0.5zM248.6 95.0h0.5v0.5h-0.5zM236.8 93.1h0.5v0.5h-0.5zM241.2 93.6h0.5v0.5h-0.5zM241.5 99.8h0.5v0.5h-0.5zM245.5 88.5h0.5v0.5h-0.5zM247.7 80.1h0.5v0.5h-0.5zM245.1 81.8h0.5v0.5h-0.5zM235.5 80.5h0.5v0.5h-0.5zM242.8 89.8h0.5v0.5h-0.5zM237.9 92.5h0.5v0.5h-0.5zM237.8 91.3h0.5v0.5h-0.5zM231.4 103.0h0.5v0.5h-0.5zM238.1 93.2h0.5v0.5h-0.5zM238.2 97.6h0.5v0.5h-0.5zM244.7 85.9h0.5v0.5h-0.5zM248.4 99.1h0.5v0.5h-0.5zM251.7 88.7h0.5v0.5h-0.5zM245.7 83.4h0.5v0.5h-0.5zM248.5 96.1h0.5v0.5h-0.5zM240.2 94.5h0.5v0.5h-0.5zM246.4 90.5h0.5v0.5h-0.5zM247.2 96.5h0.5v0.5h-0.5zM246.2 95.1h0.5v0.5h-0.5zM250.6 87.2h0.5v0.5h-0.5zM239.6 83.2h0.5v0.5h-0.5zM234.7 97.5h0.5v0.5h-0.5zM252.8 93.7h0.5v0.5h-0.5zM240.0 100.0h0.5v0.5h-0.5zM235.8 94.3h0.5v0.5h-0.5zM245.6 95.6h0.5v0.5h-0.5zM250.1 94.2h0.5v0.5h-0.5zM244.0 100.5h0.5v0.5h-0.5zM246.9 86.1h0.5v0.5h-0.5zM241.8 86.8h0.5v0.5h-0.5zM236.7 96.9h0.5v0.5h-0.5zM256.0 105.1h0.5v0.5h-0.5zM250.0 100.0h0.5v0.5h-0.5zM245.4 91.4h0.5v0.5h-0.5zM241.7 84.4h0.5v0.5h-0.5zM248.5 87.2h0.5v0.5h-0.5zM240.4 102.8h0.5v0.5h-0.5zM247.5 89.7h0.5v0.5h-0.5zM246.8 80.5h0.5v0.5h-0.5zM249.0 90.9h0.5v0.5h-0.5zM246.0 101.1h0.5v0.5h-0.5zM230.5 96.1h0.5v0.5h-0.5zM239.2 84.7h0.5v0.5h-0.5zM233.8 86.8h0.5v0.5h-0.5zM237.2 87.4h0.5v0.5h-0.5zM236.1 84.4h0.5v0.5h-0.5zM243.3 87.9h0.5v0.5h-0.5zM242.9 90.9h0.5v0.5h-0.5zM236.4 86.4h0.5v0.5h-0.5zM233.4 107.3h0.5v0.5h-0.5zM237.0 95.8h0.5v0.5h-0.5zM234.0 82.3h0.5v0.5h-0.5zM236.8 94.2h0.5v0.5h-0.5zM240.7 99.1h0.5v0.5h-0.5zM238.1 89.7h0.5v0.5h-0.5zM243.6 100.3h0.5v0.5h-0.5zM243.6 97.5h0.5v0.5h-0.5zM234.6 82.5h0.5v0.5h-0.5zM238.9 98.2h0.5v0.5h-0.5zM248.5 92.1h0.5v0.5h-0.5zM251.6 90.1h0.5v0.5h-0.5zM240.5 93.1h0.5v0.5h-0.5zM243.7 85.4h0.5v0.5h-0.5zM238.5 79.8h0.5v0.5h-0.5zM244.6 87.0h0.5v0.5h-0.5zM240.7 106.8h0.5v0.5h-0.5zM244.3 89.7h0.5v0.5h-0.5zM236.4 96.6h0.5v0.5h-0.5zM244.3 79.6h0.5v0.5h-0.5zM225.2 109.9h0.5v0.5h-0.5zM237.7 98.4h0.5v0.5h-0.5zM236.6 90.9h0.5v0.5h-0.5zM245.4 100.2h0.5v0.5h-0.5zM248.0 106.9h0.5v0.5h-0.5zM235.1 91.2h0.5v0.5h-0.5zM249.0 88.6h0.5v0.5h-0.5zM243.0 100.4h0.5v0.5h-0.5zM231.0 99.7h0.5v0.5h-0.5zM245.9 83.8h0.5v0.5h-0.5zM240.8 101.2h0.5v0.5h-0.5zM246.4 85.9h0.5v0.5h-0.5zM234.3 101.4h0.5v0.5h-0.5zM248.7 91.6h0.5v0.5h-0.5zM248.7 79.4h0.5v0.5h-0.5zM241.0 94.4h0.5v0.5h-0.5z"/>
<path d="M262.08,61.03 L263.52,62.52 L264.31,64.76 L264.39,67.62 L263.73,70.94 L262.36,74.56 L260.37,78.30 L257.89,82.00 L255.09,85.50 L252.16,88.65 L249.26,91.31 L246.57,93.36 L244.21,94.70 L242.30,95.25 L240.88,94.95 L240.00,93.81 L239.65,91.85 L239.82,89.15 L240.48,85.83 L241.61,82.06 L243.15,78.03 L245.07,73.99 L247.31,70.14 L249.80,66.71 L252.45,63.89 L255.14,61.84 L257.75,60.66 L260.11,60.39 Z" fill="#fff" stroke="none"/>
<path d="M262.08,61.03 L263.52,62.52 L264.31,64.76 L264.39,67.62 L263.73,70.94 L262.36,74.56 L260.37,78.30 L257.89,82.00 L255.09,85.50 L252.16,88.65 L249.26,91.31 L246.57,93.36 L244.21,94.70 L242.30,95.25 L240.88,94.95 L240.00,93.81 L239.65,91.85 L239.82,89.15 L240.48,85.83 L241.61,82.06 L243.15,78.03 L245.07,73.99 L247.31,70.14 L249.80,66.71 L252.45,63.89 L255.14,61.84 L257.75,60.66 L260.11,60.39 Z" fill="none" stroke="#2f4fa2" stroke-width="0.45"/>
<path d="M262.08,61.03 L263.50,62.48 L264.30,64.64 L264.42,67.38 L263.82,70.56 L262.54,74.00 L260.66,77.56 L258.30,81.08 L255.63,84.39 L252.82,87.37 L250.04,89.88 L247.45,91.81 L245.18,93.06 L243.32,93.56 L241.94,93.26 L241.07,92.15 L240.70,90.26 L240.83,87.67 L241.43,84.50 L242.46,80.90 L243.91,77.07 L245.72,73.21 L247.84,69.55 L250.22,66.30 L252.75,63.64 L255.35,61.71 L257.86,60.61 L260.15,60.39 Z" fill="none" stroke="#2f4fa2" stroke-width="0.45"/>
<path d="M262.08,61.03 L263.48,62.44 L264.30,64.52 L264.45,67.14 L263.92,70.17 L262.72,73.45 L260.95,76.83 L258.71,80.15 L256.17,83.29 L253.48,86.09 L250.82,88.45 L248.33,90.26 L246.14,91.42 L244.35,91.87 L243.00,91.56 L242.13,90.49 L241.75,88.68 L241.84,86.20 L242.37,83.17 L243.32,79.75 L244.67,76.10 L246.37,72.44 L248.38,68.97 L250.63,65.90 L253.06,63.39 L255.55,61.58 L257.97,60.57 L260.20,60.39 Z" fill="none" stroke="#2f4fa2" stroke-width="0.45"/>
<path d="M262.08,61.03 L263.46,62.40 L264.29,64.40 L264.48,66.90 L264.01,69.79 L262.91,72.90 L261.24,76.09 L259.13,79.23 L256.71,82.18 L254.14,84.82 L251.60,87.03 L249.21,88.71 L247.11,89.78 L245.37,90.18 L244.06,89.86 L243.20,88.83 L242.80,87.09 L242.84,84.73 L243.31,81.85 L244.18,78.59 L245.42,75.13 L247.02,71.66 L248.91,68.39 L251.05,65.49 L253.36,63.13 L255.75,61.45 L258.09,60.52 L260.24,60.39 Z" fill="none" stroke="#2f4fa2" stroke-width="0.45"/>
<path d="M262.08,61.03 L263.44,62.36 L264.28,64.27 L264.51,66.67 L264.11,69.40 L263.09,72.34 L261.53,75.36 L259.54,78.31 L257.24,81.07 L254.81,83.54 L252.38,85.60 L250.09,87.16 L248.07,88.14 L246.40,88.49 L245.12,88.17 L244.27,87.16 L243.85,85.51 L243.85,83.26 L244.25,80.52 L245.04,77.44 L246.18,74.16 L247.66,70.89 L249.44,67.80 L251.47,65.08 L253.67,62.88 L255.95,61.32 L258.20,60.48 L260.29,60.39 Z" fill="#2f4fa2" stroke="none"/>
<path fill="#e3211f" opacity="0.5" d="M321.9 75.5h0.5v0.5h-0.5zM314.5 68.2h0.5v0.5h-0.5zM321.0 78.8h0.5v0.5h-0.5zM325.2 85.9h0.5v0.5h-0.5zM313.8 92.2h0.5v0.5h-0.5zM323.7 86.7h0.5v0.5h-0.5zM311.2 87.4h0.5v0.5h-0.5zM321.5 106.2h0.5v0.5h-0.5zM318.1 86.1h0.5v0.5h-0.5zM316.7 97.8h0.5v0.5h-0.5zM323.6 94.3h0.5v0.5h-0.5zM324.3 81.1h0.5v0.5h-0.5zM318.8 77.6h0.5v0.5h-0.5zM315.9 85.5h0.5v0.5h-0.5zM313.9 93.1h0.5v0.5h-0.5zM325.5 92.1h0.5v0.5h-0.5zM300.7 102.2h0.5v0.5h-0.5zM313.5 89.3h0.5v0.5h-0.5zM323.8 85.0h0.5v0.5h-0.5zM318.1 83.9h0.5v0.5h-0.5zM324.0 84.4h0.5v0.5h-0.5zM309.8 95.3h0.5v0.5h-0.5zM308.2 89.2h0.5v0.5h-0.5zM321.0 85.3h0.5v0.5h-0.5zM316.8 81.9h0.5v0.5h-0.5zM315.1 83.6h0.5v0.5h-0.5zM324.9 86.3h0.5v0.5h-0.5zM334.1 80.7h0.5v0.5h-0.5zM314.1 88.7h0.5v0.5h-0.5zM316.7 92.3h0.5v0.5h-0.5zM332.8 77.4h0.5v0.5h-0.5zM303.8 93.5h0.5v0.5h-0.5zM315.9 95.1h0.5v0.5h-0.5zM321.3 87.0h0.5v0.5h-0.5zM325.2 72.7h0.5v0.5h-0.5zM324.3 98.0h0.5v0.5h-0.5zM318.3 81.0h0.5v0.5h-0.5zM303.5 91.6h0.5v0.5h-0.5zM308.3 99.9h0.5v0.5h-0.5zM324.5 89.3h0.5v0.5h-0.5zM316.3 84.0h0.5v0.5h-0.5zM324.6 97.2h0.5v0.5h-0.5zM312.1 96.5h0.5v0.5h-0.5zM322.8 88.0h0.5v0.5h-0.5zM320.2 90.0h0.5v0.5h-0.5zM323.4 80.7h0.5v0.5h-0.5zM317.0 87.7h0.5v0.5h-0.5zM314.4 90.5h0.5v0.5h-0.5zM319.4 88.4h0.5v0.5h-0.5zM332.2 83.2h0.5v0.5h-0.5zM320.4 90.6h0.5v0.5h-0.5zM324.7 87.1h0.5v0.5h-0.5zM321.3 86.7h0.5v0.5h-0.5zM314.3 85.6h0.5v0.5h-0.5zM329.9 85.8h0.5v0.5h-0.5zM325.1 83.8h0.5v0.5h-0.5zM319.4 82.7h0.5v0.5h-0.5zM314.1 98.4h0.5v0.5h-0.5zM318.6 82.7h0.5v0.5h-0.5zM320.8 96.1h0.5v0.5h-0.5zM318.8 102.6h0.5v0.5h-0.5zM333.4 91.2h0.5v0.5h-0.5zM316.4 89.8h0.5v0.5h-0.5zM318.2 89.3h0.5v0.5h-0.5zM315.7 84.2h0.5v0.5h-0.5zM321.9 76.9h0.5v0.5h-0.5zM319.9 90.8h0.5v0.5h-0.5zM315.5 87.3h0.5v0.5h-0.5zM320.2 82.5h0.5v0.5h-0.5zM313.5 92.5h0.5v0.5h-0.5zM326.3 93.5h0.5v0.5h-0.5zM318.8 95.7h0.5v0.5h-0.5zM314.6 89.0h0.5v0.5h-0.5zM319.6 88.7h0.5v0.5h-0.5zM331.8 87.6h0.5v0.5h-0.5zM322.6 94.4h0.5v0.5h-0.5zM328.4 83.3h0.5v0.5h-0.5zM320.2 93.5h0.5v0.5h-0.5zM321.0 87.8h0.5v0.5h-0.5zM321.6 89.9h0.5v0.5h-0.5zM330.4 83.8h0.5v0.5h-0.5zM323.3 90.8h0.5v0.5h-0.5zM323.1 74.2h0.5v0.5h-0.5zM321.5 72.6h0.5v0.5h-0.5zM325.2 85.0h0.5v0.5h-0.5zM328.5 78.6h0.5v0.5h-0.5zM314.2 85.6h0.5v0.5h-0.5zM317.2 95.8h0.5v0.5h-0.5zM315.7 84.5h0.5v0.5h-0.5zM319.3 80.0h0.5v0.5h-0.5zM315.9 86.6h0.5v0.5h-0.5zM334.4 82.0h0.5v0.5h-0.5zM312.4 80.9h0.5v0.5h-0.5zM321.7 84.6h0.5v0.5h-0.5zM324.2 86.0h0.5v0.5h-0.5zM322.4 91.1h0.5v0.5h-0.5zM325.0 81.9h0.5v0.5h-0.5zM315.9 86.4h0.5v0.5h-0.5zM318.7 77.8h0.5v0.5h-0.5zM316.0 83.9h0.5v0.5h-0.5zM315.8 96.0h0.5v0.5h-0.5zM320.0 86.1h0.5v0.5h-0.5zM317.8 75.3h0.5v0.5h-0.5zM320.9 87.3h0.5v0.5h-0.5zM319.4 77.1h0.5v0.5h-0.5zM324.5 82.7h0.5v0.5h-0.5zM331.6 82.5h0.5v0.5h-0.5zM332.0 90.8h0.5v0.5h-0.5zM318.2 84.3h0.5v0.5h-0.5zM314.3 84.3h0.5v0.5h-0.5zM311.8 79.0h0.5v0.5h-0.5zM321.4 87.9h0.5v0.5h-0.5zM323.4 79.0h0.5v0.5h-0.5zM324.0 75.6h0.5v0.5h-0.5zM311.2 79.6h0.5v0.5h-0.5zM312.9 87.2h0.5v0.5h-0.5zM329.4 79.6h0.5v0.5h-0.5zM317.0 93.9h0.5v0.5h-0.5zM321.3 82.4h0.5v0.5h-0.5zM318.8 84.6h0.5v0.5h-0.5zM309.9 82.4h0.5v0.5h-0.5zM325.0 91.1h0.5v0.5h-0.5zM325.7 77.0h0.5v0.5h-0.5zM315.5 89.2h0.5v0.5h-0.5zM325.8 82.2h0.5v0.5h-0.5zM318.7 90.4h0.5v0.5h-0.5zM321.2 88.9h0.5v0.5h-0.5zM311.9 82.7h0.5v0.5h-0.5zM323.5 88.3h0.5v0.5h-0.5zM314.3 91.6h0.5v0.5h-0.5zM322.6 79.7h0.5v0.5h-0.5zM325.4 96.9h0.5v0.5h-0.5zM328.3 85.1h0.5v0.5h-0.5zM322.4 97.0h0.5v0.5h-0.5zM309.9 93.1h0.5v0.5h-0.5zM329.1 86.7h0.5v0.5h-0.5zM312.8 88.5h0.5v0.5h-0.5zM312.8 77.7h0.5v0.5h-0.5zM325.4 84.4h0.5v0.5h-0.5zM320.1 90.3h0.5v0.5h-0.5zM325.0 82.7h0.5v0.5h-0.5zM328.8 88.5h0.5v0.5h-0.5zM318.4 89.1h0.5v0.5h-0.5zM321.9 92.5h0.5v0.5h-0.5zM320.1 89.8h0.5v0.5h-0.5zM320.9 85.4h0.5v0.5h-0.5zM327.8 76.2h0.5v0.5h-0.5zM330.2 81.1h0.5v0.5h-0.5zM325.6 78.1h0.5v0.5h-0.5zM327.6 83.5h0.5v0.5h-0.5zM318.2 90.2h0.5v0.5h-0.5zM319.2 86.4h0.5v0.5h-0.5zM323.2 76.2h0.5v0.5h-0.5zM304.8 88.7h0.5v0.5h-0.5zM315.2 86.0h0.5v0.5h-0.5zM322.4 87.8h0.5v0.5h-0.5zM329.6 77.4h0.5v0.5h-0.5zM319.1 80.7h0.5v0.5h-0.5zM328.4 87.6h0.5v0.5h-0.5zM318.2 71.5h0.5v0.5h-0.5zM330.8 86.8h0.5v0.5h-0.5zM317.7 76.0h0.5v0.5h-0.5zM321.0 89.7h0.5v0.5h-0.5zM318.6 80.7h0.5v0.5h-0.5zM319.8 94.2h0.5v0.5h-0.5zM319.7 98.3h0.5v0.5h-0.5zM321.4 86.8h0.5v0.5h-0.5zM311.2 91.0h0.5v0.5h-0.5zM317.1 76.8h0.5v0.5h-0.5zM323.9 69.6h0.5v0.5h-0.5zM314.4 92.6h0.5v0.5h-0.5zM325.3 85.9h0.5v0.5h-0.5zM317.4 87.1h0.5v0.5h-0.5zM316.5 85.1h0.5v0.5h-0.5zM311.8 103.3h0.5v0.5h-0.5zM321.8 85.1h0.5v0.5h-0.5zM318.1 90.2h0.5v0.5h-0.5zM319.6 85.7h0.5v0.5h-0.5zM318.1 73.7h0.5v0.5h-0.5zM316.8 80.7h0.5v0.5h-0.5zM324.7 93.0h0.5v0.5h-0.5zM314.5 91.4h0.5v0.5h-0.5zM321.2 92.5h0.5v0.5h-0.5zM308.4 85.1h0.5v0.5h-0.5zM321.0 81.8h0.5v0.5h-0.5zM323.0 91.5h0.5v0.5h-0.5zM314.3 89.3h0.5v0.5h-0.5zM322.4 86.6h0.5v0.5h-0.5zM321.9 92.4h0.5v0.5h-0.5zM328.9 72.3h0.5v0.5h-0.5zM320.1 68.1h0.5v0.5h-0.5zM325.2 77.0h0.5v0.5h-0.5zM319.2 83.9h0.5v0.5h-0.5zM311.7 84.7h0.5v0.5h-0.5zM323.5 92.7h0.5v0.5h-0.5zM323.9 78.4h0.5v0.5h-0.5zM314.6 86.2h0.5v0.5h-0.5zM321.8 98.9h0.5v0.5h-0.5zM323.6 82.7h0.5v0.5h-0.5zM313.5 84.8h0.5v0.5h-0.5zM329.4 81.6h0.5v0.5h-0.5zM319.6 94.6h0.5v0.5h-0.5zM317.5 94.2h0.5v0.5h-0.5zM313.8 89.6h0.5v0.5h-0.5zM324.1 84.7h0.5v0.5h-0.5zM321.3 77.4h0.5v0.5h-0.5zM333.0 82.2h0.5v0.5h-0.5zM321.9 87.6h0.5v0.5h-0.5zM315.7 89.5h0.5v0.5h-0.5zM314.2 93.3h0.5v0.5h-0.5zM326.5 89.6h0.5v0.5h-0.5zM327.8 83.7h0.5v0.5h-0.5zM317.4 87.0h0.5v0.5h-0.5zM319.3 88.5h0.5v0.5h-0.5zM314.1 99.1h0.5v0.5h-0.5zM310.5 92.5h0.5v0.5h-0.5zM318.0 83.9h0.5v0.5h-0.5zM327.4 76.5h0.5v0.5h-0.5zM332.3 81.6h0.5v0.5h-0.5zM319.3 90.0h0.5v0.5h-0.5zM324.7 77.6h0.5v0.5h-0.5zM318.1 83.4h0.5v0.5h-0.5zM318.8 84.3h0.5v0.5h-0.5zM324.5 89.0h0.5v0.5h-0.5zM327.1 78.8h0.5v0.5h-0.5zM324.5 87.9h0.5v0.5h-0.5zM314.3 83.6h0.5v0.5h-0.5zM321.4 76.5h0.5v0.5h-0.5zM320.4 77.4h0.5v0.5h-0.5zM324.3 72.2h0.5v0.5h-0.5zM330.2 86.7h0.5v0.5h-0.5zM321.6 96.4h0.5v0.5h-0.5zM308.8 84.0h0.5v0.5h-0.5zM326.3 84.5h0.5v0.5h-0.5zM308.6 77.9h0.5v0.5h-0.5zM318.5 85.1h0.5v0.5h-0.5zM317.0 86.9h0.5v0.5h-0.5zM309.2 93.5h0.5v0.5h-0.5zM334.9 81.7h0.5v0.5h-0.5zM315.4 85.3h0.5v0.5h-0.5zM326.3 87.5h0.5v0.5h-0.5zM318.6 77.7h0.5v0.5h-0.5zM321.4 85.5h0.5v0.5h-0.5zM331.7 82.4h0.5v0.5h-0.5zM327.5 87.4h0.5v0.5h-0.5zM324.5 93.5h0.5v0.5h-0.5zM319.6 89.6h0.5v0.5h-0.5zM320.5 77.6h0.5v0.5h-0.5zM309.4 83.3h0.5v0.5h-0.5zM320.6 84.8h0.5v0.5h-0.5zM320.5 89.4h0.5v0.5h-0.5zM310.0 97.2h0.5v0.5h-0.5zM319.3 84.4h0.5v0.5h-0.5zM331.0 87.9h0.5v0.5h-0.5zM314.0 84.9h0.5v0.5h-0.5zM317.5 89.5h0.5v0.5h-0.5zM319.2 79.6h0.5v0.5h-0.5zM320.5 76.8h0.5v0.5h-0.5zM325.7 82.9h0.5v0.5h-0.5zM331.1 91.1h0.5v0.5h-0.5zM318.1 86.7h0.5v0.5h-0.5zM325.8 86.4h0.5v0.5h-0.5zM314.8 94.1h0.5v0.5h-0.5zM319.1 92.1h0.5v0.5h-0.5zM326.7 78.6h0.5v0.5h-0.5zM320.3 87.1h0.5v0.5h-0.5zM309.3 104.6h0.5v0.5h-0.5zM323.3 83.4h0.5v0.5h-0.5zM315.1 85.4h0.5v0.5h-0.5zM324.2 91.2h0.5v0.5h-0.5zM325.1 91.3h0.5v0.5h-0.5zM306.0 98.1h0.5v0.5h-0.5zM321.2 84.3h0.5v0.5h-0.5zM309.4 92.5h0.5v0.5h-0.5zM320.5 74.4h0.5v0.5h-0.5zM310.8 87.3h0.5v0.5h-0.5zM320.1 91.2h0.5v0.5h-0.5zM314.4 75.3h0.5v0.5h-0.5zM324.4 75.8h0.5v0.5h-0.5zM324.1 95.1h0.5v0.5h-0.5zM314.5 81.8h0.5v0.5h-0.5zM314.0 86.7h0.5v0.5h-0.5zM313.9 90.1h0.5v0.5h-0.5zM325.6 82.4h0.5v0.5h-0.5zM325.1 103.4h0.5v0.5h-0.5zM315.8 91.6h0.5v0.5h-0.5zM323.3 88.4h0.5v0.5h-0.5zM320.4 89.3h0.5v0.5h-0.5zM330.3 74.8h0.5v0.5h-0.5zM316.3 92.9h0.5v0.5h-0.5zM314.7 88.9h0.5v0.5h-0.5zM322.3 86.1h0.5v0.5h-0.5zM322.2 90.5h0.5v0.5h-0.5zM313.7 82.2h0.5v0.5h-0.5zM322.6 79.8h0.5v0.5h-0.5zM323.0 76.9h0.5v0.5h-0.5zM324.0 83.9h0.5v0.5h-0.5zM301.1 95.1h0.5v0.5h-0.5zM320.6 97.0h0.5v0.5h-0.5zM314.9 99.4h0.5v0.5h-0.5zM327.2 81.7h0.5v0.5h-0.5zM321.1 80.4h0.5v0.5h-0.5zM320.9 86.7h0.5v0.5h-0.5zM324.9 86.1h0.5v0.5h-0.5zM316.1 84.5h0.5v0.5h-0.5zM319.1 90.4h0.5v0.5h-0.5zM307.0 90.3h0.5v0.5h-0.5zM315.8 86.1h0.5v0.5h-0.5zM307.7 77.7h0.5v0.5h-0.5zM317.4 86.8h0.5v0.5h-0.5zM315.5 74.5h0.5v0.5h-0.5zM320.5 89.2h0.5v0.5h-0.5zM327.3 87.5h0.5v0.5h-0.5zM320.6 76.4h0.5v0.5h-0.5zM321.6 81.2h0.5v0.5h-0.5zM322.6 95.7h0.5v0.5h-0.5zM313.5 86.2h0.5v0.5h-0.5zM314.6 85.0h0.5v0.5h-0.5zM326.3 81.8h0.5v0.5h-0.5zM328.3 79.8h0.5v0.5h-0.5zM321.5 93.0h0.5v0.5h-0.5zM315.0 87.7h0.5v0.5h-0.5zM319.4 86.9h0.5v0.5h-0.5zM323.1 77.2h0.5v0.5h-0.5zM321.6 83.9h0.5v0.5h-0.5zM309.5 88.7h0.5v0.5h-0.5zM320.7 88.5h0.5v0.5h-0.5zM323.5 85.9h0.5v0.5h-0.5zM318.4 84.0h0.5v0.5h-0.5zM317.9 79.9h0.5v0.5h-0.5z"/>
<path d="M344.39,56.47 L345.16,57.78 L345.22,59.73 L344.55,62.19 L343.16,65.03 L341.14,68.12 L338.58,71.30 L335.65,74.44 L332.52,77.42 L329.38,80.09 L326.42,82.37 L323.79,84.13 L321.64,85.31 L320.04,85.81 L319.07,85.60 L318.72,84.67 L319.00,83.02 L319.86,80.72 L321.25,77.87 L323.09,74.62 L325.30,71.14 L327.81,67.63 L330.51,64.29 L333.31,61.32 L336.08,58.88 L338.71,57.11 L341.05,56.10 L342.99,55.89 Z" fill="#fff" stroke="none"/>
<path d="M344.39,56.47 L345.16,57.78 L345.22,59.73 L344.55,62.19 L343.16,65.03 L341.14,68.12 L338.58,71.30 L335.65,74.44 L332.52,77.42 L329.38,80.09 L326.42,82.37 L323.79,84.13 L321.64,85.31 L320.04,85.81 L319.07,85.60 L318.72,84.67 L319.00,83.02 L319.86,80.72 L321.25,77.87 L323.09,74.62 L325.30,71.14 L327.81,67.63 L330.51,64.29 L333.31,61.32 L336.08,58.88 L338.71,57.11 L341.05,56.10 L342.99,55.89 Z" fill="none" stroke="#e3211f" stroke-width="0.5"/>
<path d="M344.39,56.47 L345.12,57.71 L345.17,59.57 L344.53,61.91 L343.21,64.62 L341.27,67.56 L338.83,70.60 L336.04,73.59 L333.06,76.43 L330.07,78.98 L327.25,81.15 L324.75,82.84 L322.69,83.96 L321.18,84.44 L320.25,84.25 L319.92,83.35 L320.19,81.78 L321.02,79.59 L322.34,76.88 L324.09,73.79 L326.21,70.47 L328.60,67.13 L331.18,63.94 L333.84,61.10 L336.48,58.78 L338.98,57.09 L341.22,56.13 L343.06,55.93 Z" fill="none" stroke="#e3211f" stroke-width="0.5"/>
<path d="M344.39,56.47 L345.08,57.65 L345.12,59.41 L344.51,61.63 L343.25,64.21 L341.41,67.00 L339.09,69.89 L336.43,72.74 L333.60,75.44 L330.76,77.87 L328.07,79.93 L325.70,81.54 L323.75,82.61 L322.31,83.07 L321.43,82.89 L321.12,82.04 L321.38,80.55 L322.17,78.47 L323.43,75.89 L325.10,72.95 L327.11,69.80 L329.39,66.62 L331.84,63.59 L334.38,60.89 L336.89,58.68 L339.26,57.07 L341.38,56.15 L343.13,55.96 Z" fill="none" stroke="#e3211f" stroke-width="0.5"/>
<path d="M344.39,56.47 L345.04,57.58 L345.08,59.25 L344.49,61.36 L343.29,63.80 L341.54,66.45 L339.34,69.18 L336.82,71.89 L334.13,74.45 L331.44,76.75 L328.90,78.72 L326.65,80.24 L324.80,81.26 L323.44,81.70 L322.61,81.53 L322.32,80.73 L322.57,79.32 L323.32,77.35 L324.52,74.91 L326.11,72.12 L328.02,69.13 L330.18,66.11 L332.51,63.24 L334.91,60.68 L337.29,58.58 L339.54,57.05 L341.55,56.18 L343.20,55.99 Z" fill="#e3211f" stroke="none"/>
<rect x="33.00" y="34.40" width="78.40" height="78.30" fill="none" stroke="#555" stroke-width="0.75"/>
<path d="M33.00,110.57 h-0.8 M33.00,109.04 h-0.8 M33.00,107.79 h-0.8 M33.00,106.74 h-0.8 M33.00,105.83 h-0.8 M33.00,105.02 h-0.8 M33.00,104.30 h-1.7 M33.00,99.56 h-0.8 M33.00,96.79 h-0.8 M33.00,94.82 h-0.8 M33.00,93.29 h-0.8 M33.00,92.04 h-0.8 M33.00,90.99 h-0.8 M33.00,90.08 h-0.8 M33.00,89.27 h-0.8 M33.00,88.55 h-1.7 M33.00,83.81 h-0.8 M33.00,81.04 h-0.8 M33.00,79.07 h-0.8 M33.00,77.54 h-0.8 M33.00,76.29 h-0.8 M33.00,75.24 h-0.8 M33.00,74.33 h-0.8 M33.00,73.52 h-0.8 M33.00,72.80 h-1.7 M33.00,68.06 h-0.8 M33.00,65.29 h-0.8 M33.00,63.32 h-0.8 M33.00,61.79 h-0.8 M33.00,60.54 h-0.8 M33.00,59.49 h-0.8 M33.00,58.58 h-0.8 M33.00,57.77 h-0.8 M33.00,57.05 h-1.7 M33.00,52.31 h-0.8 M33.00,49.54 h-0.8 M33.00,47.57 h-0.8 M33.00,46.04 h-0.8 M33.00,44.79 h-0.8 M33.00,43.74 h-0.8 M33.00,42.83 h-0.8 M33.00,42.02 h-0.8 M33.00,41.30 h-1.7 M33.00,36.56 h-0.8 M37.20,112.70 v0.8 M39.72,112.70 v0.8 M41.51,112.70 v0.8 M42.90,112.70 v0.8 M44.03,112.70 v0.8 M44.98,112.70 v0.8 M45.81,112.70 v0.8 M46.55,112.70 v0.8 M47.20,112.70 v1.7 M51.50,112.70 v0.8 M54.02,112.70 v0.8 M55.81,112.70 v0.8 M57.20,112.70 v0.8 M58.33,112.70 v0.8 M59.28,112.70 v0.8 M60.11,112.70 v0.8 M60.85,112.70 v0.8 M61.50,112.70 v1.7 M66.05,112.70 v0.8 M68.70,112.70 v0.8 M70.59,112.70 v0.8 M72.05,112.70 v0.8 M73.25,112.70 v0.8 M74.26,112.70 v0.8 M75.14,112.70 v0.8 M75.91,112.70 v0.8 M76.60,112.70 v1.7 M81.30,112.70 v0.8 M84.04,112.70 v0.8 M85.99,112.70 v0.8 M87.50,112.70 v0.8 M88.74,112.70 v0.8 M89.78,112.70 v0.8 M90.69,112.70 v0.8 M91.49,112.70 v0.8 M92.20,112.70 v1.7 M96.17,112.70 v0.8 M98.50,112.70 v0.8 M100.15,112.70 v0.8 M101.43,112.70 v0.8 M102.47,112.70 v0.8 M103.36,112.70 v0.8 M104.12,112.70 v0.8 M104.80,112.70 v0.8 M105.40,112.70 v1.7 M109.70,112.70 v0.8" stroke="#666" stroke-width="0.45" fill="none"/>
<text x="41.68" y="124.06" font-size="7.2" text-anchor="start" fill="#262626" stroke="#262626" stroke-width="0.12">10</text>
<text x="49.88" y="120.31" font-size="4.752000000000001" text-anchor="start" fill="#666" stroke="#666" stroke-width="0.12">1</text>
<text x="56.18" y="124.06" font-size="7.2" text-anchor="start" fill="#262626" stroke="#262626" stroke-width="0.12">10</text>
<text x="64.38" y="120.31" font-size="4.752000000000001" text-anchor="start" fill="#666" stroke="#666" stroke-width="0.12">2</text>
<text x="71.48" y="124.06" font-size="7.2" text-anchor="start" fill="#262626" stroke="#262626" stroke-width="0.12">10</text>
<text x="79.68" y="120.31" font-size="4.752000000000001" text-anchor="start" fill="#666" stroke="#666" stroke-width="0.12">3</text>
<text x="87.18" y="124.06" font-size="7.2" text-anchor="start" fill="#262626" stroke="#262626" stroke-width="0.12">10</text>
<text x="95.38" y="120.31" font-size="4.752000000000001" text-anchor="start" fill="#666" stroke="#666" stroke-width="0.12">4</text>
<text x="99.98" y="124.06" font-size="7.2" text-anchor="start" fill="#262626" stroke="#262626" stroke-width="0.12">10</text>
<text x="108.18" y="120.31" font-size="4.752000000000001" text-anchor="start" fill="#666" stroke="#666" stroke-width="0.12">5</text>
<rect x="116.00" y="34.40" width="79.00" height="78.30" fill="none" stroke="#555" stroke-width="0.75"/>
<path d="M116.00,110.57 h-0.8 M116.00,109.04 h-0.8 M116.00,107.79 h-0.8 M116.00,106.74 h-0.8 M116.00,105.83 h-0.8 M116.00,105.02 h-0.8 M116.00,104.30 h-1.7 M116.00,99.56 h-0.8 M116.00,96.79 h-0.8 M116.00,94.82 h-0.8 M116.00,93.29 h-0.8 M116.00,92.04 h-0.8 M116.00,90.99 h-0.8 M116.00,90.08 h-0.8 M116.00,89.27 h-0.8 M116.00,88.55 h-1.7 M116.00,83.81 h-0.8 M116.00,81.04 h-0.8 M116.00,79.07 h-0.8 M116.00,77.54 h-0.8 M116.00,76.29 h-0.8 M116.00,75.24 h-0.8 M116.00,74.33 h-0.8 M116.00,73.52 h-0.8 M116.00,72.80 h-1.7 M116.00,68.06 h-0.8 M116.00,65.29 h-0.8 M116.00,63.32 h-0.8 M116.00,61.79 h-0.8 M116.00,60.54 h-0.8 M116.00,59.49 h-0.8 M116.00,58.58 h-0.8 M116.00,57.77 h-0.8 M116.00,57.05 h-1.7 M116.00,52.31 h-0.8 M116.00,49.54 h-0.8 M116.00,47.57 h-0.8 M116.00,46.04 h-0.8 M116.00,44.79 h-0.8 M116.00,43.74 h-0.8 M116.00,42.83 h-0.8 M116.00,42.02 h-0.8 M116.00,41.30 h-1.7 M116.00,36.56 h-0.8 M120.20,112.70 v0.8 M122.72,112.70 v0.8 M124.51,112.70 v0.8 M125.90,112.70 v0.8 M127.03,112.70 v0.8 M127.98,112.70 v0.8 M128.81,112.70 v0.8 M129.55,112.70 v0.8 M130.20,112.70 v1.7 M134.50,112.70 v0.8 M137.02,112.70 v0.8 M138.81,112.70 v0.8 M140.20,112.70 v0.8 M141.33,112.70 v0.8 M142.28,112.70 v0.8 M143.11,112.70 v0.8 M143.85,112.70 v0.8 M144.50,112.70 v1.7 M149.05,112.70 v0.8 M151.70,112.70 v0.8 M153.59,112.70 v0.8 M155.05,112.70 v0.8 M156.25,112.70 v0.8 M157.26,112.70 v0.8 M158.14,112.70 v0.8 M158.91,112.70 v0.8 M159.60,112.70 v1.7 M164.30,112.70 v0.8 M167.04,112.70 v0.8 M168.99,112.70 v0.8 M170.50,112.70 v0.8 M171.74,112.70 v0.8 M172.78,112.70 v0.8 M173.69,112.70 v0.8 M174.49,112.70 v0.8 M175.20,112.70 v1.7 M179.17,112.70 v0.8 M181.50,112.70 v0.8 M183.15,112.70 v0.8 M184.43,112.70 v0.8 M185.47,112.70 v0.8 M186.36,112.70 v0.8 M187.12,112.70 v0.8 M187.80,112.70 v0.8 M188.40,112.70 v1.7 M192.70,112.70 v0.8" stroke="#666" stroke-width="0.45" fill="none"/>
<text x="124.68" y="124.06" font-size="7.2" text-anchor="start" fill="#262626" stroke="#262626" stroke-width="0.12">10</text>
<text x="132.88" y="120.31" font-size="4.752000000000001" text-anchor="start" fill="#666" stroke="#666" stroke-width="0.12">1</text>
<text x="139.18" y="124.06" font-size="7.2" text-anchor="start" fill="#262626" stroke="#262626" stroke-width="0.12">10</text>
<text x="147.38" y="120.31" font-size="4.752000000000001" text-anchor="start" fill="#666" stroke="#666" stroke-width="0.12">2</text>
<text x="154.48" y="124.06" font-size="7.2" text-anchor="start" fill="#262626" stroke="#262626" stroke-width="0.12">10</text>
<text x="162.68" y="120.31" font-size="4.752000000000001" text-anchor="start" fill="#666" stroke="#666" stroke-width="0.12">3</text>
<text x="170.18" y="124.06" font-size="7.2" text-anchor="start" fill="#262626" stroke="#262626" stroke-width="0.12">10</text>
<text x="178.38" y="120.31" font-size="4.752000000000001" text-anchor="start" fill="#666" stroke="#666" stroke-width="0.12">4</text>
<text x="182.98" y="124.06" font-size="7.2" text-anchor="start" fill="#262626" stroke="#262626" stroke-width="0.12">10</text>
<text x="191.18" y="120.31" font-size="4.752000000000001" text-anchor="start" fill="#666" stroke="#666" stroke-width="0.12">5</text>
<rect x="199.20" y="34.40" width="78.50" height="78.30" fill="none" stroke="#555" stroke-width="0.75"/>
<path d="M199.20,110.57 h-0.8 M199.20,109.04 h-0.8 M199.20,107.79 h-0.8 M199.20,106.74 h-0.8 M199.20,105.83 h-0.8 M199.20,105.02 h-0.8 M199.20,104.30 h-1.7 M199.20,99.56 h-0.8 M199.20,96.79 h-0.8 M199.20,94.82 h-0.8 M199.20,93.29 h-0.8 M199.20,92.04 h-0.8 M199.20,90.99 h-0.8 M199.20,90.08 h-0.8 M199.20,89.27 h-0.8 M199.20,88.55 h-1.7 M199.20,83.81 h-0.8 M199.20,81.04 h-0.8 M199.20,79.07 h-0.8 M199.20,77.54 h-0.8 M199.20,76.29 h-0.8 M199.20,75.24 h-0.8 M199.20,74.33 h-0.8 M199.20,73.52 h-0.8 M199.20,72.80 h-1.7 M199.20,68.06 h-0.8 M199.20,65.29 h-0.8 M199.20,63.32 h-0.8 M199.20,61.79 h-0.8 M199.20,60.54 h-0.8 M199.20,59.49 h-0.8 M199.20,58.58 h-0.8 M199.20,57.77 h-0.8 M199.20,57.05 h-1.7 M199.20,52.31 h-0.8 M199.20,49.54 h-0.8 M199.20,47.57 h-0.8 M199.20,46.04 h-0.8 M199.20,44.79 h-0.8 M199.20,43.74 h-0.8 M199.20,42.83 h-0.8 M199.20,42.02 h-0.8 M199.20,41.30 h-1.7 M199.20,36.56 h-0.8 M203.40,112.70 v0.8 M205.92,112.70 v0.8 M207.71,112.70 v0.8 M209.10,112.70 v0.8 M210.23,112.70 v0.8 M211.18,112.70 v0.8 M212.01,112.70 v0.8 M212.75,112.70 v0.8 M213.40,112.70 v1.7 M217.70,112.70 v0.8 M220.22,112.70 v0.8 M222.01,112.70 v0.8 M223.40,112.70 v0.8 M224.53,112.70 v0.8 M225.48,112.70 v0.8 M226.31,112.70 v0.8 M227.05,112.70 v0.8 M227.70,112.70 v1.7 M232.25,112.70 v0.8 M234.90,112.70 v0.8 M236.79,112.70 v0.8 M238.25,112.70 v0.8 M239.45,112.70 v0.8 M240.46,112.70 v0.8 M241.34,112.70 v0.8 M242.11,112.70 v0.8 M242.80,112.70 v1.7 M247.50,112.70 v0.8 M250.24,112.70 v0.8 M252.19,112.70 v0.8 M253.70,112.70 v0.8 M254.94,112.70 v0.8 M255.98,112.70 v0.8 M256.89,112.70 v0.8 M257.69,112.70 v0.8 M258.40,112.70 v1.7 M262.37,112.70 v0.8 M264.70,112.70 v0.8 M266.35,112.70 v0.8 M267.63,112.70 v0.8 M268.67,112.70 v0.8 M269.56,112.70 v0.8 M270.32,112.70 v0.8 M271.00,112.70 v0.8 M271.60,112.70 v1.7 M275.90,112.70 v0.8" stroke="#666" stroke-width="0.45" fill="none"/>
<text x="207.88" y="124.06" font-size="7.2" text-anchor="start" fill="#262626" stroke="#262626" stroke-width="0.12">10</text>
<text x="216.08" y="120.31" font-size="4.752000000000001" text-anchor="start" fill="#666" stroke="#666" stroke-width="0.12">1</text>
<text x="222.38" y="124.06" font-size="7.2" text-anchor="start" fill="#262626" stroke="#262626" stroke-width="0.12">10</text>
<text x="230.58" y="120.31" font-size="4.752000000000001" text-anchor="start" fill="#666" stroke="#666" stroke-width="0.12">2</text>
<text x="237.68" y="124.06" font-size="7.2" text-anchor="start" fill="#262626" stroke="#262626" stroke-width="0.12">10</text>
<text x="245.88" y="120.31" font-size="4.752000000000001" text-anchor="start" fill="#666" stroke="#666" stroke-width="0.12">3</text>
<text x="253.38" y="124.06" font-size="7.2" text-anchor="start" fill="#262626" stroke="#262626" stroke-width="0.12">10</text>
<text x="261.58" y="120.31" font-size="4.752000000000001" text-anchor="start" fill="#666" stroke="#666" stroke-width="0.12">4</text>
<text x="266.18" y="124.06" font-size="7.2" text-anchor="start" fill="#262626" stroke="#262626" stroke-width="0.12">10</text>
<text x="274.38" y="120.31" font-size="4.752000000000001" text-anchor="start" fill="#666" stroke="#666" stroke-width="0.12">5</text>
<rect x="281.00" y="34.40" width="78.80" height="78.30" fill="none" stroke="#555" stroke-width="0.75"/>
<path d="M281.00,110.57 h-0.8 M281.00,109.04 h-0.8 M281.00,107.79 h-0.8 M281.00,106.74 h-0.8 M281.00,105.83 h-0.8 M281.00,105.02 h-0.8 M281.00,104.30 h-1.7 M281.00,99.56 h-0.8 M281.00,96.79 h-0.8 M281.00,94.82 h-0.8 M281.00,93.29 h-0.8 M281.00,92.04 h-0.8 M281.00,90.99 h-0.8 M281.00,90.08 h-0.8 M281.00,89.27 h-0.8 M281.00,88.55 h-1.7 M281.00,83.81 h-0.8 M281.00,81.04 h-0.8 M281.00,79.07 h-0.8 M281.00,77.54 h-0.8 M281.00,76.29 h-0.8 M281.00,75.24 h-0.8 M281.00,74.33 h-0.8 M281.00,73.52 h-0.8 M281.00,72.80 h-1.7 M281.00,68.06 h-0.8 M281.00,65.29 h-0.8 M281.00,63.32 h-0.8 M281.00,61.79 h-0.8 M281.00,60.54 h-0.8 M281.00,59.49 h-0.8 M281.00,58.58 h-0.8 M281.00,57.77 h-0.8 M281.00,57.05 h-1.7 M281.00,52.31 h-0.8 M281.00,49.54 h-0.8 M281.00,47.57 h-0.8 M281.00,46.04 h-0.8 M281.00,44.79 h-0.8 M281.00,43.74 h-0.8 M281.00,42.83 h-0.8 M281.00,42.02 h-0.8 M281.00,41.30 h-1.7 M281.00,36.56 h-0.8 M285.20,112.70 v0.8 M287.72,112.70 v0.8 M289.51,112.70 v0.8 M290.90,112.70 v0.8 M292.03,112.70 v0.8 M292.98,112.70 v0.8 M293.81,112.70 v0.8 M294.55,112.70 v0.8 M295.20,112.70 v1.7 M299.50,112.70 v0.8 M302.02,112.70 v0.8 M303.81,112.70 v0.8 M305.20,112.70 v0.8 M306.33,112.70 v0.8 M307.28,112.70 v0.8 M308.11,112.70 v0.8 M308.85,112.70 v0.8 M309.50,112.70 v1.7 M314.05,112.70 v0.8 M316.70,112.70 v0.8 M318.59,112.70 v0.8 M320.05,112.70 v0.8 M321.25,112.70 v0.8 M322.26,112.70 v0.8 M323.14,112.70 v0.8 M323.91,112.70 v0.8 M324.60,112.70 v1.7 M329.30,112.70 v0.8 M332.04,112.70 v0.8 M333.99,112.70 v0.8 M335.50,112.70 v0.8 M336.74,112.70 v0.8 M337.78,112.70 v0.8 M338.69,112.70 v0.8 M339.49,112.70 v0.8 M340.20,112.70 v1.7 M344.17,112.70 v0.8 M346.50,112.70 v0.8 M348.15,112.70 v0.8 M349.43,112.70 v0.8 M350.47,112.70 v0.8 M351.36,112.70 v0.8 M352.12,112.70 v0.8 M352.80,112.70 v0.8 M353.40,112.70 v1.7 M357.70,112.70 v0.8" stroke="#666" stroke-width="0.45" fill="none"/>
<text x="289.68" y="124.06" font-size="7.2" text-anchor="start" fill="#262626" stroke="#262626" stroke-width="0.12">10</text>
<text x="297.88" y="120.31" font-size="4.752000000000001" text-anchor="start" fill="#666" stroke="#666" stroke-width="0.12">1</text>
<text x="304.18" y="124.06" font-size="7.2" text-anchor="start" fill="#262626" stroke="#262626" stroke-width="0.12">10</text>
<text x="312.38" y="120.31" font-size="4.752000000000001" text-anchor="start" fill="#666" stroke="#666" stroke-width="0.12">2</text>
<text x="319.48" y="124.06" font-size="7.2" text-anchor="start" fill="#262626" stroke="#262626" stroke-width="0.12">10</text>
<text x="327.68" y="120.31" font-size="4.752000000000001" text-anchor="start" fill="#666" stroke="#666" stroke-width="0.12">3</text>
<text x="335.18" y="124.06" font-size="7.2" text-anchor="start" fill="#262626" stroke="#262626" stroke-width="0.12">10</text>
<text x="343.38" y="120.31" font-size="4.752000000000001" text-anchor="start" fill="#666" stroke="#666" stroke-width="0.12">4</text>
<text x="347.98" y="124.06" font-size="7.2" text-anchor="start" fill="#262626" stroke="#262626" stroke-width="0.12">10</text>
<text x="356.18" y="120.31" font-size="4.752000000000001" text-anchor="start" fill="#666" stroke="#666" stroke-width="0.12">5</text>
<text x="18.95" y="43.26" font-size="7.2" text-anchor="start" fill="#262626" stroke="#262626" stroke-width="0.12">10</text>
<text x="27.16" y="39.51" font-size="4.752000000000001" text-anchor="start" fill="#666" stroke="#666" stroke-width="0.12">5</text>
<text x="18.95" y="59.11" font-size="7.2" text-anchor="start" fill="#262626" stroke="#262626" stroke-width="0.12">10</text>
<text x="27.16" y="55.36" font-size="4.752000000000001" text-anchor="start" fill="#666" stroke="#666" stroke-width="0.12">4</text>
<text x="18.95" y="74.96" font-size="7.2" text-anchor="start" fill="#262626" stroke="#262626" stroke-width="0.12">10</text>
<text x="27.16" y="71.21" font-size="4.752000000000001" text-anchor="start" fill="#666" stroke="#666" stroke-width="0.12">3</text>
<text x="18.95" y="90.81" font-size="7.2" text-anchor="start" fill="#262626" stroke="#262626" stroke-width="0.12">10</text>
<text x="27.16" y="87.06" font-size="4.752000000000001" text-anchor="start" fill="#666" stroke="#666" stroke-width="0.12">2</text>
<text x="18.95" y="106.66" font-size="7.2" text-anchor="start" fill="#262626" stroke="#262626" stroke-width="0.12">10</text>
<text x="27.16" y="102.91" font-size="4.752000000000001" text-anchor="start" fill="#666" stroke="#666" stroke-width="0.12">1</text>
<text x="34.00" y="134.51" font-size="8.2" text-anchor="start" fill="#262626" stroke="#262626" stroke-width="0.12" textLength="33.50" lengthAdjust="spacingAndGlyphs">mCherry</text>
<line x1="71.80" y1="132.00" x2="357.04" y2="132.00" stroke="#3e5072" stroke-width="1.1"/>
<path d="M359.80,132.00 L355.20,129.90 L356.35,132.00 L355.20,134.10 Z" fill="#3e5072"/>
<text x="10.70" y="108.19" font-size="9.0" text-anchor="middle" fill="#262626" stroke="#262626" stroke-width="0.12" textLength="15.80" lengthAdjust="spacingAndGlyphs" transform="rotate(-90 10.70 105.00)">GFP</text>
<line x1="10.90" y1="95.50" x2="10.90" y2="37.26" stroke="#3e5072" stroke-width="1.1"/>
<path d="M10.90,34.50 L8.80,39.10 L10.90,37.95 L13.00,39.10 Z" fill="#3e5072"/>
<line x1="363.90" y1="43.40" x2="374.20" y2="43.40" stroke="#3b4a66" stroke-width="3.0"/>
<path d="M382.20,43.40 L372.20,39.10 L374.20,43.40 L372.20,47.70 Z" fill="#3b4a66"/>
<line x1="399.00" y1="9.60" x2="407.50" y2="9.60" stroke="#3d3d3d" stroke-width="1.5"/>
<text x="411.60" y="12.08" font-size="7.0" text-anchor="start" fill="#262626" stroke="#262626" stroke-width="0.12">RPMI</text>
<line x1="399.00" y1="19.10" x2="407.50" y2="19.10" stroke="#c2c2c2" stroke-width="1.5"/>
<text x="411.60" y="21.59" font-size="7.0" text-anchor="start" fill="#262626" stroke="#262626" stroke-width="0.12">RPMI + VPS34i</text>
<line x1="399.00" y1="28.60" x2="407.50" y2="28.60" stroke="#3a5fae" stroke-width="1.5"/>
<text x="411.60" y="31.09" font-size="7.0" text-anchor="start" fill="#262626" stroke="#262626" stroke-width="0.12">HBSS</text>
<line x1="399.00" y1="38.10" x2="407.50" y2="38.10" stroke="#e3262a" stroke-width="1.5"/>
<text x="411.60" y="40.59" font-size="7.0" text-anchor="start" fill="#262626" stroke="#262626" stroke-width="0.12">HBSS + VPS34i</text>
<line x1="400.00" y1="122.30" x2="478.40" y2="122.30" stroke="#d44" stroke-width="0.6"/>
<path d="M423.50,106.60 L424.80,105.80 L425.80,103.50 L426.80,98.00 L428.00,91.00 L429.30,86.00 L430.80,82.80 L431.55,83.30 L432.30,81.20 L432.90,80.00 L433.50,80.60 L434.25,82.20 L435.00,81.20 L436.00,80.85 L437.00,82.30 L438.00,84.25 L439.00,83.60 L440.00,83.50 L441.00,85.20 L442.00,87.35 L443.00,86.90 L444.00,86.90 L445.00,88.70 L446.00,91.10 L447.00,90.90 L448.00,91.30 L449.00,93.50 L450.00,96.20 L451.00,96.30 L451.75,96.40 L452.50,98.30 L454.00,100.50 L455.50,102.50 L457.00,104.20 L458.50,105.50 L460.00,106.20 L461.50,106.60" fill="none" stroke="#5a78c0" stroke-width="0.7"/>
<line x1="400.00" y1="106.60" x2="425.00" y2="106.60" stroke="#8fa6d8" stroke-width="0.9"/>
<line x1="461.00" y1="106.60" x2="478.40" y2="106.60" stroke="#8fa6d8" stroke-width="0.9"/>
<path d="M416.00,91.30 L420.00,90.80 L422.00,89.50 L423.50,84.00 L424.50,76.00 L425.50,75.50 L426.50,76.00 L427.50,84.00 L429.00,89.50 L432.00,90.80 L436.00,91.30 Z" fill="#d4d4d4" stroke="#c4c4c4" stroke-width="0.5"/>
<line x1="400.00" y1="91.40" x2="478.40" y2="91.40" stroke="#d6d6d6" stroke-width="0.6"/>
<path d="M400.00,75.50 L419.00,75.50 L420.60,74.50 L421.80,68.00 L422.80,58.00 L423.80,49.00 L424.40,47.20 L425.20,49.00 L426.20,60.00 L427.30,68.00 L428.50,71.50 L430.50,73.60 L433.00,74.70 L437.00,75.30 L478.40,75.50 Z" fill="#616161" stroke="#222" stroke-width="0.6"/>
<line x1="400.00" y1="75.50" x2="478.40" y2="75.50" stroke="#333" stroke-width="0.7"/>
<path d="M422.30,122.60 L423.20,120.50 L423.90,112.00 L424.60,100.00 L425.30,93.20 L425.90,95.00 L426.70,103.00 L427.60,113.00 L428.70,119.50 L430.00,122.30" fill="none" stroke="#e84545" stroke-width="0.6"/>
<rect x="400.00" y="43.30" width="78.40" height="79.50" fill="none" stroke="#555" stroke-width="0.7"/>
<path d="M400.00,122.80 v1.4 M403.02,122.80 v0.8 M406.03,122.80 v0.8 M409.05,122.80 v0.8 M412.06,122.80 v1.4 M415.08,122.80 v0.8 M418.09,122.80 v0.8 M421.11,122.80 v0.8 M424.12,122.80 v1.4 M427.14,122.80 v0.8 M430.15,122.80 v0.8 M433.17,122.80 v0.8 M436.18,122.80 v1.4 M439.20,122.80 v0.8 M442.22,122.80 v0.8 M445.23,122.80 v0.8 M448.25,122.80 v1.4 M451.26,122.80 v0.8 M454.28,122.80 v0.8 M457.29,122.80 v0.8 M460.31,122.80 v1.4 M463.32,122.80 v0.8 M466.34,122.80 v0.8 M469.35,122.80 v0.8 M472.37,122.80 v1.4 M475.38,122.80 v0.8 M478.40,122.80 v0.8" stroke="#777" stroke-width="0.4"/>
<text x="417.60" y="133.86" font-size="7.2" text-anchor="middle" fill="#262626" stroke="#262626" stroke-width="0.12">0</text>
<text x="433.98" y="133.86" font-size="7.2" text-anchor="start" fill="#262626" stroke="#262626" stroke-width="0.12">10</text>
<text x="442.18" y="130.11" font-size="4.752000000000001" text-anchor="start" fill="#666" stroke="#666" stroke-width="0.12">1</text>
<text x="453.98" y="133.86" font-size="7.2" text-anchor="start" fill="#262626" stroke="#262626" stroke-width="0.12">10</text>
<text x="462.18" y="130.11" font-size="4.752000000000001" text-anchor="start" fill="#666" stroke="#666" stroke-width="0.12">2</text>
<text x="473.08" y="133.86" font-size="7.2" text-anchor="start" fill="#262626" stroke="#262626" stroke-width="0.12">10</text>
<text x="481.28" y="130.11" font-size="4.752000000000001" text-anchor="start" fill="#666" stroke="#666" stroke-width="0.12">3</text>
<text x="399.00" y="145.15" font-size="8.3" text-anchor="start" fill="#262626" stroke="#262626" stroke-width="0.12" textLength="61.00" lengthAdjust="spacingAndGlyphs">Autophagy flux</text>
<line x1="460.80" y1="142.40" x2="475.84" y2="142.40" stroke="#3e5072" stroke-width="1.1"/>
<path d="M478.60,142.40 L474.00,140.30 L475.15,142.40 L474.00,144.50 Z" fill="#3e5072"/>
<text x="392.30" y="86.05" font-size="8.6" text-anchor="middle" fill="#262626" stroke="#262626" stroke-width="0.12" textLength="80.00" lengthAdjust="spacingAndGlyphs" transform="rotate(-90 392.30 83.00)">Normalized to mode</text>
<line x1="517.50" y1="33.70" x2="517.50" y2="121.90" stroke="#444" stroke-width="0.7"/>
<line x1="517.50" y1="121.90" x2="605.50" y2="121.90" stroke="#444" stroke-width="0.7"/>
<line x1="515.10" y1="121.90" x2="517.50" y2="121.90" stroke="#444" stroke-width="0.6"/>
<text x="508.60" y="124.24" font-size="6.6" text-anchor="middle" fill="#262626" stroke="#262626" stroke-width="0.12">0</text>
<line x1="515.10" y1="104.26" x2="517.50" y2="104.26" stroke="#444" stroke-width="0.6"/>
<text x="508.60" y="106.60" font-size="6.6" text-anchor="middle" fill="#262626" stroke="#262626" stroke-width="0.12">1</text>
<line x1="515.10" y1="86.62" x2="517.50" y2="86.62" stroke="#444" stroke-width="0.6"/>
<text x="508.60" y="88.96" font-size="6.6" text-anchor="middle" fill="#262626" stroke="#262626" stroke-width="0.12">2</text>
<line x1="515.10" y1="68.98" x2="517.50" y2="68.98" stroke="#444" stroke-width="0.6"/>
<text x="508.60" y="71.32" font-size="6.6" text-anchor="middle" fill="#262626" stroke="#262626" stroke-width="0.12">3</text>
<line x1="515.10" y1="51.34" x2="517.50" y2="51.34" stroke="#444" stroke-width="0.6"/>
<text x="508.60" y="53.68" font-size="6.6" text-anchor="middle" fill="#262626" stroke="#262626" stroke-width="0.12">4</text>
<line x1="515.10" y1="33.70" x2="517.50" y2="33.70" stroke="#444" stroke-width="0.6"/>
<text x="508.60" y="36.04" font-size="6.6" text-anchor="middle" fill="#262626" stroke="#262626" stroke-width="0.12">5</text>
<text x="495.40" y="81.95" font-size="8.3" text-anchor="middle" fill="#262626" stroke="#262626" stroke-width="0.12" textLength="60.00" lengthAdjust="spacingAndGlyphs" transform="rotate(-90 495.40 79.00)">Autophagy flux</text>
<line x1="531.60" y1="121.90" x2="531.60" y2="124.50" stroke="#444" stroke-width="0.6"/>
<line x1="551.60" y1="121.90" x2="551.60" y2="124.50" stroke="#444" stroke-width="0.6"/>
<line x1="571.60" y1="121.90" x2="571.60" y2="124.50" stroke="#444" stroke-width="0.6"/>
<line x1="592.50" y1="121.90" x2="592.50" y2="124.50" stroke="#444" stroke-width="0.6"/>
<circle cx="527.00" cy="100.70" r="2.0" fill="#111"/>
<circle cx="531.60" cy="99.90" r="2.0" fill="#111"/>
<circle cx="536.20" cy="100.60" r="2.0" fill="#111"/>
<line x1="528.00" y1="100.30" x2="535.00" y2="100.30" stroke="#000" stroke-width="0.8"/>
<circle cx="546.60" cy="99.50" r="2.0" fill="#cfcfcf"/>
<circle cx="556.60" cy="99.50" r="2.0" fill="#cfcfcf"/>
<path d="M551.4,94.8 l-2.2,3.4 h4.4 z" fill="#cfcfcf"/>
<circle cx="551.40" cy="97.60" r="1.8" fill="#cfcfcf"/>
<line x1="549.50" y1="99.30" x2="553.50" y2="99.30" stroke="#555" stroke-width="0.8"/>
<line x1="572.00" y1="54.50" x2="572.00" y2="68.00" stroke="#3552a6" stroke-width="0.7"/>
<path d="M572,54.6 l-2.6,3.8 h5.2 z" fill="#3552a6"/>
<circle cx="572.00" cy="58.60" r="2.1" fill="#3552a6"/>
<circle cx="567.00" cy="64.20" r="2.1" fill="#3552a6"/>
<circle cx="577.20" cy="64.20" r="2.1" fill="#3552a6"/>
<line x1="569.20" y1="64.20" x2="574.80" y2="64.20" stroke="#222" stroke-width="0.9"/>
<path d="M570.2,66.4 h3.6 l-1.8,2.0 z" fill="#fff" stroke="#3552a6" stroke-width="0.6"/>
<circle cx="587.30" cy="98.00" r="2.0" fill="#e3262a"/>
<circle cx="592.40" cy="96.30" r="2.0" fill="#e3262a"/>
<circle cx="597.40" cy="97.50" r="2.0" fill="#e3262a"/>
<line x1="589.50" y1="97.50" x2="595.50" y2="97.50" stroke="#b01010" stroke-width="0.6"/>
<line x1="561.80" y1="34.20" x2="592.50" y2="34.20" stroke="#c4c4c4" stroke-width="0.7"/>
<text x="572.00" y="32.84" font-size="8.0" text-anchor="middle" fill="#262626" stroke="#262626" stroke-width="0.12">ns</text>
<line x1="531.20" y1="42.20" x2="572.00" y2="42.20" stroke="#c4c4c4" stroke-width="0.7"/>
<text x="551.60" y="40.64" font-size="8.0" text-anchor="middle" fill="#262626" stroke="#262626" stroke-width="0.12">0.003</text>
<line x1="531.20" y1="53.30" x2="549.40" y2="53.30" stroke="#c4c4c4" stroke-width="0.7"/>
<text x="540.70" y="52.04" font-size="8.0" text-anchor="middle" fill="#262626" stroke="#262626" stroke-width="0.12">ns</text>
<line x1="553.00" y1="53.30" x2="573.50" y2="53.30" stroke="#c4c4c4" stroke-width="0.7"/>
<text x="560.80" y="52.04" font-size="8.0" text-anchor="middle" fill="#262626" stroke="#262626" stroke-width="0.12">0.0009</text>
<line x1="574.20" y1="53.30" x2="592.50" y2="53.30" stroke="#c4c4c4" stroke-width="0.7"/>
<text x="585.90" y="52.04" font-size="8.0" text-anchor="middle" fill="#262626" stroke="#262626" stroke-width="0.12">0.003</text>
<text x="536.10" y="132.60" font-size="7.2" text-anchor="end" fill="#111" stroke="#111" stroke-width="0.12" transform="rotate(-45 536.10 132.60)">RPMI</text>
<text x="553.80" y="132.60" font-size="7.2" text-anchor="end" fill="#9a9a9a" stroke="#9a9a9a" stroke-width="0.12" transform="rotate(-45 553.80 132.60)">RPMI+</text>
<text x="559.60" y="138.70" font-size="7.2" text-anchor="end" fill="#9a9a9a" stroke="#9a9a9a" stroke-width="0.12" transform="rotate(-45 559.60 138.70)">VPS34i</text>
<text x="576.80" y="132.60" font-size="7.2" text-anchor="end" fill="#4a7fcf" stroke="#4a7fcf" stroke-width="0.12" transform="rotate(-45 576.80 132.60)">HBSS</text>
<text x="596.00" y="132.60" font-size="7.2" text-anchor="end" fill="#e3262a" stroke="#e3262a" stroke-width="0.12" transform="rotate(-45 596.00 132.60)">HBSS+</text>
<text x="601.40" y="138.10" font-size="7.2" text-anchor="end" fill="#e3262a" stroke="#e3262a" stroke-width="0.12" transform="rotate(-45 601.40 138.10)">VPS34i</text>
<text x="0.20" y="163.20" font-size="13" text-anchor="start" fill="#000" stroke="#000" stroke-width="0.12" font-weight="bold">b</text>
<text x="110.80" y="154.56" font-size="7.2" text-anchor="end" fill="#262626" stroke="#262626" stroke-width="0.12">IL-7 (6 h)</text>
<text x="110.80" y="162.76" font-size="7.2" text-anchor="end" fill="#e3262a" stroke="#e3262a" stroke-width="0.12">IL-7 + VPS34i (6 h)</text>
<path d="M66.00,244.20 L66.75,244.14 L67.84,244.06 L69.01,243.90 L70.00,243.60 L70.74,243.17 L71.37,242.62 L71.94,241.92 L72.50,241.00 L73.05,239.90 L73.56,238.64 L74.06,237.10 L74.60,235.20 L75.19,232.82 L75.80,230.05 L76.41,227.05 L77.00,224.00 L77.55,220.95 L78.08,217.80 L78.60,214.50 L79.10,211.00 L79.59,207.14 L80.07,203.00 L80.54,198.86 L81.00,195.00 L81.46,191.39 L81.91,187.92 L82.36,184.74 L82.80,182.00 L83.23,179.57 L83.66,177.42 L84.08,175.89 L84.50,175.30 L84.92,175.86 L85.34,177.36 L85.77,179.50 L86.20,182.00 L86.64,184.96 L87.09,188.48 L87.54,192.26 L88.00,196.00 L88.46,199.77 L88.93,203.69 L89.41,207.51 L89.90,211.00 L90.41,214.11 L90.94,216.97 L91.48,219.59 L92.00,222.00 L92.50,224.16 L92.99,226.08 L93.48,227.83 L94.00,229.50 L94.54,231.11 L95.11,232.61 L95.69,233.98 L96.30,235.20 L96.95,236.22 L97.64,237.07 L98.33,237.84 L99.00,238.60 L99.64,239.37 L100.27,240.12 L100.89,240.83 L101.50,241.50 L102.11,242.16 L102.72,242.81 L103.32,243.37 L103.90,243.80 L104.50,244.04 L105.10,244.14 L105.63,244.17 L106.00,244.20" fill="none" stroke="#222" stroke-width="0.65"/>
<path d="M60.00,244.20 L60.35,244.17 L60.84,244.14 L61.42,244.04 L62.00,243.80 L62.60,243.43 L63.25,242.97 L63.90,242.34 L64.50,241.50 L65.04,240.39 L65.55,239.06 L66.03,237.57 L66.50,236.00 L66.94,234.47 L67.36,232.92 L67.78,231.10 L68.20,228.80 L68.64,225.88 L69.08,222.50 L69.53,218.82 L70.00,215.00 L70.50,210.86 L71.02,206.37 L71.53,202.01 L72.00,198.20 L72.42,195.02 L72.81,192.25 L73.16,189.90 L73.50,188.00 L73.79,186.58 L74.05,185.63 L74.31,185.06 L74.60,184.80 L74.95,185.04 L75.34,185.76 L75.73,186.54 L76.10,187.00 L76.44,186.81 L76.76,186.26 L77.08,185.85 L77.40,186.10 L77.70,187.02 L77.99,188.37 L78.30,190.31 L78.70,193.00 L79.21,196.81 L79.81,201.56 L80.42,206.52 L81.00,211.00 L81.53,214.87 L82.03,218.49 L82.52,221.86 L83.00,225.00 L83.45,227.94 L83.89,230.68 L84.33,233.12 L84.80,235.20 L85.31,236.83 L85.83,238.06 L86.39,239.07 L87.00,240.00 L87.67,240.89 L88.39,241.65 L89.14,242.29 L89.90,242.80 L90.66,243.15 L91.44,243.34 L92.23,243.46 L93.00,243.60 L93.83,243.78 L94.69,243.95 L95.46,244.10 L96.00,244.20" fill="none" stroke="#e8333a" stroke-width="0.6"/>
<rect x="32.50" y="166.00" width="78.90" height="78.30" fill="none" stroke="#555" stroke-width="0.7"/>
<path d="M32.50,244.30 v1.4 M35.53,244.30 v0.8 M38.57,244.30 v0.8 M41.60,244.30 v0.8 M44.64,244.30 v1.4 M47.67,244.30 v0.8 M50.71,244.30 v0.8 M53.74,244.30 v0.8 M56.78,244.30 v1.4 M59.81,244.30 v0.8 M62.85,244.30 v0.8 M65.88,244.30 v0.8 M68.92,244.30 v1.4 M71.95,244.30 v0.8 M74.98,244.30 v0.8 M78.02,244.30 v0.8 M81.05,244.30 v1.4 M84.09,244.30 v0.8 M87.12,244.30 v0.8 M90.16,244.30 v0.8 M93.19,244.30 v1.4 M96.23,244.30 v0.8 M99.26,244.30 v0.8 M102.30,244.30 v0.8 M105.33,244.30 v1.4 M108.37,244.30 v0.8 M111.40,244.30 v0.8" stroke="#777" stroke-width="0.4"/>
<text x="35.00" y="173.36" font-size="7.2" text-anchor="start" fill="#262626" stroke="#262626" stroke-width="0.12">CD8+</text>
<text x="21.80" y="208.35" font-size="8.6" text-anchor="middle" fill="#262626" stroke="#262626" stroke-width="0.12" textLength="81.00" lengthAdjust="spacingAndGlyphs" transform="rotate(-90 21.80 205.30)">Normalized to mode</text>
<text x="48.00" y="256.76" font-size="7.2" text-anchor="middle" fill="#262626" stroke="#262626" stroke-width="0.12">0</text>
<text x="66.08" y="256.76" font-size="7.2" text-anchor="start" fill="#262626" stroke="#262626" stroke-width="0.12">10</text>
<text x="74.28" y="253.01" font-size="4.752000000000001" text-anchor="start" fill="#666" stroke="#666" stroke-width="0.12">1</text>
<text x="82.18" y="256.76" font-size="7.2" text-anchor="start" fill="#262626" stroke="#262626" stroke-width="0.12">10</text>
<text x="90.38" y="253.01" font-size="4.752000000000001" text-anchor="start" fill="#666" stroke="#666" stroke-width="0.12">2</text>
<text x="97.88" y="256.76" font-size="7.2" text-anchor="start" fill="#262626" stroke="#262626" stroke-width="0.12">10</text>
<text x="106.08" y="253.01" font-size="4.752000000000001" text-anchor="start" fill="#666" stroke="#666" stroke-width="0.12">3</text>
<text x="33.30" y="266.95" font-size="8.3" text-anchor="start" fill="#262626" stroke="#262626" stroke-width="0.12" textLength="60.40" lengthAdjust="spacingAndGlyphs">Autophagy flux</text>
<line x1="97.20" y1="264.20" x2="109.54" y2="264.20" stroke="#3e5072" stroke-width="1.1"/>
<path d="M112.30,264.20 L107.70,262.10 L108.85,264.20 L107.70,266.30 Z" fill="#3e5072"/>
<rect x="158.50" y="175.49" width="14.10" height="69.01" fill="#fff" stroke="#333" stroke-width="0.7"/>
<rect x="180.50" y="191.38" width="14.10" height="53.12" fill="#fff" stroke="#f07a80" stroke-width="0.7"/>
<line x1="150.50" y1="153.70" x2="150.50" y2="244.50" stroke="#444" stroke-width="0.7"/>
<line x1="150.50" y1="244.50" x2="202.60" y2="244.50" stroke="#444" stroke-width="0.7"/>
<line x1="148.10" y1="244.50" x2="150.50" y2="244.50" stroke="#444" stroke-width="0.6"/>
<text x="144.40" y="246.99" font-size="7.0" text-anchor="end" fill="#262626" stroke="#262626" stroke-width="0.12">0</text>
<line x1="148.10" y1="226.34" x2="150.50" y2="226.34" stroke="#444" stroke-width="0.6"/>
<text x="144.40" y="228.83" font-size="7.0" text-anchor="end" fill="#262626" stroke="#262626" stroke-width="0.12">2</text>
<line x1="148.10" y1="208.18" x2="150.50" y2="208.18" stroke="#444" stroke-width="0.6"/>
<text x="144.40" y="210.67" font-size="7.0" text-anchor="end" fill="#262626" stroke="#262626" stroke-width="0.12">4</text>
<line x1="148.10" y1="190.02" x2="150.50" y2="190.02" stroke="#444" stroke-width="0.6"/>
<text x="144.40" y="192.50" font-size="7.0" text-anchor="end" fill="#262626" stroke="#262626" stroke-width="0.12">6</text>
<line x1="148.10" y1="171.86" x2="150.50" y2="171.86" stroke="#444" stroke-width="0.6"/>
<text x="144.40" y="174.34" font-size="7.0" text-anchor="end" fill="#262626" stroke="#262626" stroke-width="0.12">8</text>
<line x1="148.10" y1="153.70" x2="150.50" y2="153.70" stroke="#444" stroke-width="0.6"/>
<text x="144.40" y="156.19" font-size="7.0" text-anchor="end" fill="#262626" stroke="#262626" stroke-width="0.12">10</text>
<text x="128.60" y="198.15" font-size="8.3" text-anchor="middle" fill="#262626" stroke="#262626" stroke-width="0.12" textLength="60.00" lengthAdjust="spacingAndGlyphs" transform="rotate(-90 128.60 195.20)">Autophagy flux</text>
<line x1="165.50" y1="169.14" x2="165.50" y2="181.85" stroke="#222" stroke-width="0.7"/>
<line x1="161.50" y1="169.14" x2="169.50" y2="169.14" stroke="#222" stroke-width="0.7"/>
<line x1="161.50" y1="181.85" x2="169.50" y2="181.85" stroke="#222" stroke-width="0.7"/>
<circle cx="162.20" cy="168.23" r="1.9" fill="#111"/>
<circle cx="168.90" cy="170.95" r="1.9" fill="#111"/>
<circle cx="162.20" cy="173.68" r="1.9" fill="#111"/>
<circle cx="168.90" cy="181.39" r="1.9" fill="#111"/>
<circle cx="162.20" cy="182.30" r="1.9" fill="#111"/>
<line x1="187.60" y1="184.57" x2="187.60" y2="197.28" stroke="#f07a80" stroke-width="0.7"/>
<line x1="184.35" y1="184.57" x2="190.85" y2="184.57" stroke="#f07a80" stroke-width="0.7"/>
<line x1="184.35" y1="197.28" x2="190.85" y2="197.28" stroke="#f07a80" stroke-width="0.7"/>
<circle cx="187.60" cy="183.21" r="1.9" fill="#e3262a"/>
<circle cx="187.60" cy="189.11" r="1.9" fill="#e3262a"/>
<circle cx="184.20" cy="192.29" r="1.9" fill="#e3262a"/>
<circle cx="191.00" cy="192.29" r="1.9" fill="#e3262a"/>
<circle cx="187.60" cy="198.19" r="1.9" fill="#e3262a"/>
<line x1="165.90" y1="162.20" x2="187.80" y2="162.20" stroke="#c4c4c4" stroke-width="0.8"/>
<text x="177.00" y="159.74" font-size="8.0" text-anchor="middle" fill="#262626" stroke="#262626" stroke-width="0.12">0.002</text>
<text x="165.30" y="254.56" font-size="7.2" text-anchor="middle" fill="#262626" stroke="#262626" stroke-width="0.12">IL-7</text>
<text x="187.40" y="254.56" font-size="7.2" text-anchor="middle" fill="#e3262a" stroke="#e3262a" stroke-width="0.12">IL-7 +</text>
<text x="187.40" y="262.36" font-size="7.2" text-anchor="middle" fill="#e3262a" stroke="#e3262a" stroke-width="0.12">VPS34i</text>
<text x="0.00" y="290.20" font-size="13" text-anchor="start" fill="#000" stroke="#000" stroke-width="0.12" font-weight="bold">c</text>
<text x="235.90" y="290.58" font-size="8.4" text-anchor="middle" fill="#262626" stroke="#262626" stroke-width="0.12">24 h</text>
<line x1="114.00" y1="293.60" x2="358.10" y2="293.60" stroke="#262626" stroke-width="0.7"/>
<text x="32.60" y="305.60" font-size="8.3" text-anchor="start" fill="#262626" stroke="#262626" stroke-width="0.12">CTL</text>
<text x="48.68" y="301.50" font-size="5.7" text-anchor="start" fill="#262626" stroke="#262626" stroke-width="0.12">RPMI</text>
<text x="114.30" y="305.60" font-size="8.3" text-anchor="start" fill="#262626" stroke="#262626" stroke-width="0.12">CTL</text>
<text x="130.38" y="301.50" font-size="5.7" text-anchor="start" fill="#262626" stroke="#262626" stroke-width="0.12">HBSS</text>
<text x="197.10" y="305.60" font-size="8.3" text-anchor="start" fill="#262626" stroke="#262626" stroke-width="0.12">CTL</text>
<text x="213.18" y="301.50" font-size="5.7" text-anchor="start" fill="#262626" stroke="#262626" stroke-width="0.12">no Glu</text>
<text x="279.40" y="305.60" font-size="8.3" text-anchor="start" fill="#262626" stroke="#262626" stroke-width="0.12">CTL</text>
<text x="295.48" y="301.50" font-size="5.7" text-anchor="start" fill="#262626" stroke="#262626" stroke-width="0.12">+ Rap</text>
<path fill="#000" opacity="0.45" d="M86.0 351.4h0.5v0.5h-0.5zM96.4 338.2h0.5v0.5h-0.5zM84.2 350.3h0.5v0.5h-0.5zM97.8 346.3h0.5v0.5h-0.5zM81.5 345.5h0.5v0.5h-0.5zM97.4 343.0h0.5v0.5h-0.5zM103.6 341.1h0.5v0.5h-0.5zM90.7 344.0h0.5v0.5h-0.5zM106.1 331.9h0.5v0.5h-0.5zM84.4 344.1h0.5v0.5h-0.5zM93.0 344.6h0.5v0.5h-0.5zM89.9 345.9h0.5v0.5h-0.5zM95.5 345.8h0.5v0.5h-0.5zM98.9 340.3h0.5v0.5h-0.5zM83.6 355.1h0.5v0.5h-0.5zM83.4 350.3h0.5v0.5h-0.5zM83.5 351.2h0.5v0.5h-0.5zM88.1 348.8h0.5v0.5h-0.5zM93.2 336.1h0.5v0.5h-0.5zM92.2 348.2h0.5v0.5h-0.5zM92.5 346.3h0.5v0.5h-0.5zM89.9 340.5h0.5v0.5h-0.5zM93.0 339.1h0.5v0.5h-0.5zM101.4 334.3h0.5v0.5h-0.5zM96.0 341.5h0.5v0.5h-0.5zM95.9 338.1h0.5v0.5h-0.5zM97.5 339.6h0.5v0.5h-0.5zM101.0 341.1h0.5v0.5h-0.5zM90.7 341.2h0.5v0.5h-0.5zM97.8 342.7h0.5v0.5h-0.5zM100.5 335.8h0.5v0.5h-0.5zM96.6 343.8h0.5v0.5h-0.5zM94.2 344.0h0.5v0.5h-0.5zM91.4 341.6h0.5v0.5h-0.5zM85.1 347.7h0.5v0.5h-0.5zM99.6 347.2h0.5v0.5h-0.5zM100.6 343.9h0.5v0.5h-0.5zM98.4 343.5h0.5v0.5h-0.5zM95.2 346.4h0.5v0.5h-0.5zM101.4 335.4h0.5v0.5h-0.5zM93.4 354.6h0.5v0.5h-0.5zM96.1 346.9h0.5v0.5h-0.5zM93.9 336.6h0.5v0.5h-0.5zM95.1 346.4h0.5v0.5h-0.5zM90.3 340.8h0.5v0.5h-0.5zM92.4 346.4h0.5v0.5h-0.5zM100.4 342.0h0.5v0.5h-0.5zM96.1 349.1h0.5v0.5h-0.5zM89.8 350.8h0.5v0.5h-0.5zM97.6 338.5h0.5v0.5h-0.5zM79.2 349.4h0.5v0.5h-0.5zM94.9 345.3h0.5v0.5h-0.5zM98.2 334.0h0.5v0.5h-0.5zM93.8 346.8h0.5v0.5h-0.5zM84.6 336.9h0.5v0.5h-0.5zM103.1 349.1h0.5v0.5h-0.5zM95.3 336.8h0.5v0.5h-0.5zM90.3 347.2h0.5v0.5h-0.5zM108.1 335.5h0.5v0.5h-0.5zM97.0 349.5h0.5v0.5h-0.5zM96.7 351.5h0.5v0.5h-0.5zM86.8 346.0h0.5v0.5h-0.5zM100.1 346.3h0.5v0.5h-0.5zM96.6 342.7h0.5v0.5h-0.5zM79.6 350.2h0.5v0.5h-0.5zM87.0 345.4h0.5v0.5h-0.5zM94.5 340.7h0.5v0.5h-0.5zM96.8 341.3h0.5v0.5h-0.5z"/>
<path d="M105.28,323.13 L106.15,324.77 L106.43,326.70 L106.08,328.80 L105.12,330.93 L103.58,333.01 L101.56,334.92 L99.19,336.62 L96.60,338.05 L93.95,339.16 L91.41,339.94 L89.10,340.36 L87.15,340.40 L85.63,340.04 L84.62,339.27 L84.12,338.10 L84.13,336.55 L84.64,334.66 L85.61,332.52 L86.98,330.24 L88.70,327.95 L90.71,325.78 L92.94,323.88 L95.29,322.39 L97.67,321.40 L99.98,320.98 L102.09,321.15 L103.90,321.89 Z" fill="#fff" stroke="none"/>
<path d="M105.28,323.13 L106.15,324.77 L106.43,326.70 L106.08,328.80 L105.12,330.93 L103.58,333.01 L101.56,334.92 L99.19,336.62 L96.60,338.05 L93.95,339.16 L91.41,339.94 L89.10,340.36 L87.15,340.40 L85.63,340.04 L84.62,339.27 L84.12,338.10 L84.13,336.55 L84.64,334.66 L85.61,332.52 L86.98,330.24 L88.70,327.95 L90.71,325.78 L92.94,323.88 L95.29,322.39 L97.67,321.40 L99.98,320.98 L102.09,321.15 L103.90,321.89 Z M104.79,322.64 L105.65,324.26 L105.92,326.16 L105.58,328.23 L104.63,330.34 L103.11,332.38 L101.12,334.27 L98.78,335.95 L96.22,337.35 L93.61,338.45 L91.10,339.22 L88.83,339.64 L86.90,339.67 L85.41,339.32 L84.41,338.56 L83.92,337.40 L83.93,335.87 L84.44,334.01 L85.39,331.91 L86.74,329.66 L88.44,327.39 L90.42,325.25 L92.61,323.38 L94.93,321.91 L97.28,320.94 L99.56,320.52 L101.64,320.69 L103.42,321.42 Z M104.30,322.15 L105.14,323.75 L105.41,325.63 L105.07,327.66 L104.13,329.74 L102.64,331.75 L100.68,333.62 L98.37,335.27 L95.85,336.66 L93.28,337.74 L90.80,338.50 L88.56,338.91 L86.66,338.95 L85.19,338.60 L84.20,337.85 L83.72,336.71 L83.73,335.20 L84.23,333.36 L85.17,331.29 L86.50,329.07 L88.18,326.84 L90.13,324.73 L92.29,322.89 L94.58,321.43 L96.89,320.47 L99.14,320.06 L101.19,320.23 L102.95,320.95 Z M103.80,321.66 L104.63,323.24 L104.90,325.09 L104.57,327.10 L103.64,329.14 L102.17,331.13 L100.24,332.97 L97.96,334.59 L95.48,335.96 L92.94,337.03 L90.50,337.78 L88.29,338.18 L86.42,338.22 L84.97,337.87 L84.00,337.14 L83.52,336.01 L83.53,334.52 L84.02,332.72 L84.95,330.67 L86.26,328.48 L87.92,326.28 L89.84,324.21 L91.97,322.39 L94.22,320.96 L96.51,320.01 L98.72,319.61 L100.74,319.77 L102.47,320.48 Z M103.31,321.18 L104.13,322.73 L104.39,324.55 L104.06,326.53 L103.15,328.55 L101.70,330.50 L99.79,332.32 L97.55,333.92 L95.10,335.26 L92.61,336.32 L90.20,337.06 L88.02,337.45 L86.18,337.49 L84.75,337.15 L83.79,336.42 L83.32,335.32 L83.34,333.85 L83.82,332.07 L84.73,330.05 L86.03,327.90 L87.65,325.73 L89.55,323.68 L91.65,321.89 L93.87,320.48 L96.12,319.55 L98.30,319.15 L100.29,319.31 L102.00,320.01 Z" fill="none" stroke="#000" stroke-width="0.6"/>
<path d="M102.81,320.69 L103.62,322.22 L103.88,324.02 L103.56,325.96 L102.66,327.95 L101.23,329.88 L99.35,331.66 L97.14,333.24 L94.73,334.57 L92.27,335.61 L89.90,336.33 L87.76,336.73 L85.94,336.76 L84.53,336.43 L83.59,335.71 L83.12,334.62 L83.14,333.17 L83.61,331.42 L84.51,329.43 L85.79,327.31 L87.39,325.17 L89.26,323.16 L91.33,321.39 L93.51,320.00 L95.73,319.08 L97.88,318.69 L99.84,318.85 L101.52,319.54 Z" fill="#000" stroke="none"/>
<path fill="#2f4fa2" opacity="0.45" d="M168.0 349.1h.55v.55h-.55zM172.6 355.7h.55v.55h-.55zM167.1 345.9h.55v.55h-.55zM161.8 362.4h.55v.55h-.55zM178.7 346.4h.55v.55h-.55zM167.1 336.9h.55v.55h-.55zM171.0 349.9h.55v.55h-.55zM183.1 350.2h.55v.55h-.55zM165.3 326.0h.55v.55h-.55zM178.5 349.7h.55v.55h-.55zM160.3 349.6h.55v.55h-.55zM160.3 379.3h.55v.55h-.55zM176.7 353.2h.55v.55h-.55zM168.9 328.7h.55v.55h-.55zM169.2 334.0h.55v.55h-.55zM173.6 328.8h.55v.55h-.55zM164.6 359.0h.55v.55h-.55zM179.9 337.4h.55v.55h-.55zM160.8 355.9h.55v.55h-.55zM175.1 339.1h.55v.55h-.55zM165.8 341.8h.55v.55h-.55zM162.9 341.9h.55v.55h-.55zM177.5 354.2h.55v.55h-.55zM182.3 347.2h.55v.55h-.55zM169.2 339.2h.55v.55h-.55zM169.3 336.2h.55v.55h-.55zM159.3 354.3h.55v.55h-.55zM178.6 355.5h.55v.55h-.55zM178.0 350.3h.55v.55h-.55zM165.7 348.8h.55v.55h-.55zM167.8 338.0h.55v.55h-.55zM159.8 334.7h.55v.55h-.55zM170.0 349.4h.55v.55h-.55zM167.2 360.9h.55v.55h-.55zM171.1 353.2h.55v.55h-.55zM177.3 340.6h.55v.55h-.55zM158.2 354.8h.55v.55h-.55zM165.9 359.8h.55v.55h-.55zM172.0 357.1h.55v.55h-.55zM174.6 329.3h.55v.55h-.55zM174.3 341.9h.55v.55h-.55zM165.5 344.1h.55v.55h-.55zM174.6 356.0h.55v.55h-.55zM176.1 333.1h.55v.55h-.55zM166.5 326.6h.55v.55h-.55zM169.4 353.4h.55v.55h-.55zM165.4 350.2h.55v.55h-.55zM171.4 357.1h.55v.55h-.55zM165.1 340.5h.55v.55h-.55zM165.4 363.8h.55v.55h-.55zM176.5 346.9h.55v.55h-.55zM171.4 349.0h.55v.55h-.55zM171.2 346.1h.55v.55h-.55zM168.0 336.7h.55v.55h-.55zM166.1 362.9h.55v.55h-.55zM173.2 348.6h.55v.55h-.55zM168.7 348.6h.55v.55h-.55zM172.1 342.2h.55v.55h-.55zM171.2 350.2h.55v.55h-.55zM165.5 340.9h.55v.55h-.55zM164.0 338.4h.55v.55h-.55zM175.3 326.8h.55v.55h-.55zM168.4 342.5h.55v.55h-.55zM166.3 348.9h.55v.55h-.55zM176.8 348.7h.55v.55h-.55zM169.2 342.5h.55v.55h-.55zM169.2 356.2h.55v.55h-.55zM167.6 337.7h.55v.55h-.55zM162.4 338.0h.55v.55h-.55zM161.7 357.9h.55v.55h-.55zM172.1 345.9h.55v.55h-.55zM178.8 342.1h.55v.55h-.55zM174.5 355.2h.55v.55h-.55zM160.7 334.0h.55v.55h-.55zM164.4 356.2h.55v.55h-.55zM177.8 337.0h.55v.55h-.55zM176.3 344.6h.55v.55h-.55zM167.6 343.0h.55v.55h-.55zM168.1 331.6h.55v.55h-.55zM164.0 336.9h.55v.55h-.55zM172.9 366.8h.55v.55h-.55zM186.4 345.0h.55v.55h-.55zM159.7 344.3h.55v.55h-.55zM164.4 365.8h.55v.55h-.55zM173.4 341.4h.55v.55h-.55zM175.6 352.8h.55v.55h-.55zM160.2 343.2h.55v.55h-.55zM168.6 348.2h.55v.55h-.55zM170.8 344.9h.55v.55h-.55zM171.1 342.7h.55v.55h-.55zM164.6 361.6h.55v.55h-.55zM172.2 351.9h.55v.55h-.55zM160.4 346.5h.55v.55h-.55zM174.9 336.4h.55v.55h-.55zM176.6 344.5h.55v.55h-.55zM172.4 346.8h.55v.55h-.55zM171.3 358.8h.55v.55h-.55zM167.6 362.1h.55v.55h-.55zM165.3 339.6h.55v.55h-.55zM174.3 338.4h.55v.55h-.55zM167.8 356.2h.55v.55h-.55zM177.3 332.0h.55v.55h-.55zM173.0 365.0h.55v.55h-.55zM177.2 345.8h.55v.55h-.55zM166.4 345.3h.55v.55h-.55zM163.1 345.6h.55v.55h-.55zM168.9 346.7h.55v.55h-.55zM177.1 345.9h.55v.55h-.55zM161.3 357.5h.55v.55h-.55zM163.6 344.0h.55v.55h-.55zM169.2 344.9h.55v.55h-.55zM164.0 345.8h.55v.55h-.55zM183.1 342.5h.55v.55h-.55zM169.2 358.1h.55v.55h-.55zM174.5 354.9h.55v.55h-.55zM175.2 330.3h.55v.55h-.55zM164.8 349.2h.55v.55h-.55zM173.0 359.6h.55v.55h-.55zM172.8 345.9h.55v.55h-.55zM170.2 346.1h.55v.55h-.55zM171.5 354.1h.55v.55h-.55zM168.0 340.7h.55v.55h-.55zM164.9 357.9h.55v.55h-.55zM177.7 356.9h.55v.55h-.55zM175.1 355.5h.55v.55h-.55zM170.0 354.0h.55v.55h-.55zM163.7 346.2h.55v.55h-.55zM165.6 354.5h.55v.55h-.55zM166.5 347.0h.55v.55h-.55zM172.4 360.2h.55v.55h-.55zM165.2 339.6h.55v.55h-.55zM174.9 338.0h.55v.55h-.55zM172.7 342.9h.55v.55h-.55zM169.4 331.6h.55v.55h-.55zM174.3 343.5h.55v.55h-.55zM164.6 366.7h.55v.55h-.55zM174.3 379.6h.55v.55h-.55zM172.4 344.9h.55v.55h-.55zM170.6 362.5h.55v.55h-.55zM169.8 352.1h.55v.55h-.55zM173.1 339.8h.55v.55h-.55zM170.8 343.5h.55v.55h-.55zM162.5 355.8h.55v.55h-.55zM174.0 348.7h.55v.55h-.55zM164.6 329.9h.55v.55h-.55zM172.9 347.1h.55v.55h-.55zM159.9 347.5h.55v.55h-.55zM160.9 347.8h.55v.55h-.55zM170.9 351.2h.55v.55h-.55zM171.3 349.5h.55v.55h-.55zM163.2 344.5h.55v.55h-.55zM166.9 345.9h.55v.55h-.55zM171.6 353.6h.55v.55h-.55zM179.8 324.9h.55v.55h-.55zM172.4 346.2h.55v.55h-.55zM183.7 356.4h.55v.55h-.55zM160.1 351.6h.55v.55h-.55zM166.9 356.9h.55v.55h-.55zM163.7 347.1h.55v.55h-.55zM169.2 347.1h.55v.55h-.55zM166.5 331.5h.55v.55h-.55zM172.8 357.0h.55v.55h-.55zM169.6 338.8h.55v.55h-.55zM171.2 353.1h.55v.55h-.55zM168.9 347.9h.55v.55h-.55zM178.5 337.9h.55v.55h-.55zM166.7 330.8h.55v.55h-.55zM165.8 341.3h.55v.55h-.55zM164.2 341.8h.55v.55h-.55zM180.8 346.2h.55v.55h-.55zM169.3 367.8h.55v.55h-.55zM169.6 332.4h.55v.55h-.55zM172.4 339.6h.55v.55h-.55zM179.8 336.8h.55v.55h-.55zM166.5 333.5h.55v.55h-.55zM170.6 338.9h.55v.55h-.55zM169.6 344.6h.55v.55h-.55zM166.3 356.5h.55v.55h-.55zM175.6 348.6h.55v.55h-.55zM164.6 338.4h.55v.55h-.55zM171.6 369.5h.55v.55h-.55zM167.3 340.9h.55v.55h-.55zM165.8 338.1h.55v.55h-.55zM164.2 346.2h.55v.55h-.55zM178.6 348.0h.55v.55h-.55zM166.9 333.5h.55v.55h-.55zM171.3 347.8h.55v.55h-.55zM162.6 338.2h.55v.55h-.55zM169.7 357.1h.55v.55h-.55zM173.8 349.9h.55v.55h-.55zM168.1 350.9h.55v.55h-.55zM169.9 367.6h.55v.55h-.55zM163.2 344.7h.55v.55h-.55zM177.6 345.6h.55v.55h-.55zM178.5 347.6h.55v.55h-.55zM170.9 344.7h.55v.55h-.55zM161.7 339.3h.55v.55h-.55zM183.3 353.8h.55v.55h-.55zM173.6 356.6h.55v.55h-.55zM173.4 357.2h.55v.55h-.55zM168.4 346.0h.55v.55h-.55zM175.9 344.8h.55v.55h-.55zM162.0 346.0h.55v.55h-.55zM166.7 353.5h.55v.55h-.55zM165.7 338.4h.55v.55h-.55zM168.0 362.0h.55v.55h-.55zM169.7 349.4h.55v.55h-.55zM170.1 350.7h.55v.55h-.55zM175.6 360.6h.55v.55h-.55zM160.1 360.3h.55v.55h-.55zM170.0 345.1h.55v.55h-.55zM184.4 346.5h.55v.55h-.55zM181.7 356.7h.55v.55h-.55zM163.8 352.4h.55v.55h-.55zM174.4 346.9h.55v.55h-.55zM156.0 344.9h.55v.55h-.55zM168.9 338.0h.55v.55h-.55zM181.0 345.8h.55v.55h-.55zM167.6 345.3h.55v.55h-.55zM165.3 341.0h.55v.55h-.55zM170.6 350.8h.55v.55h-.55zM167.0 347.2h.55v.55h-.55zM161.7 352.7h.55v.55h-.55zM165.5 349.9h.55v.55h-.55zM164.6 343.4h.55v.55h-.55zM171.3 337.1h.55v.55h-.55zM184.8 347.7h.55v.55h-.55zM169.6 341.4h.55v.55h-.55zM179.6 360.5h.55v.55h-.55zM171.8 335.7h.55v.55h-.55zM167.0 353.5h.55v.55h-.55zM166.9 337.3h.55v.55h-.55zM162.9 341.1h.55v.55h-.55zM170.1 342.2h.55v.55h-.55zM170.1 373.1h.55v.55h-.55zM180.6 338.7h.55v.55h-.55zM172.1 348.8h.55v.55h-.55zM169.2 357.4h.55v.55h-.55zM168.0 345.1h.55v.55h-.55zM167.8 347.1h.55v.55h-.55zM177.7 355.0h.55v.55h-.55zM162.0 344.0h.55v.55h-.55zM165.2 355.3h.55v.55h-.55zM171.3 356.0h.55v.55h-.55zM169.6 330.8h.55v.55h-.55zM172.7 350.0h.55v.55h-.55zM173.0 336.3h.55v.55h-.55zM170.5 341.8h.55v.55h-.55zM165.9 351.2h.55v.55h-.55zM172.1 340.0h.55v.55h-.55zM159.7 325.7h.55v.55h-.55zM166.5 358.1h.55v.55h-.55zM169.7 327.7h.55v.55h-.55zM164.8 351.8h.55v.55h-.55zM180.0 358.5h.55v.55h-.55zM172.2 349.8h.55v.55h-.55zM163.6 343.9h.55v.55h-.55zM168.0 341.0h.55v.55h-.55zM170.4 344.5h.55v.55h-.55zM172.0 360.9h.55v.55h-.55z"/>
<path d="M162.20,335.00 L162.46,333.50 L162.86,331.39 L163.50,329.50 L164.45,328.10 L165.64,326.92 L167.00,326.00 L168.54,325.38 L170.24,325.01 L172.00,324.80 L173.85,324.68 L175.76,324.71 L177.50,325.00 L179.04,325.59 L180.42,326.43 L181.50,327.50 L182.20,328.72 L182.60,330.17 L182.80,332.00 L182.81,334.44 L182.62,337.28 L182.30,340.00 L181.83,342.44 L181.23,344.78 L180.60,347.00 L179.98,349.13 L179.34,351.16 L178.70,353.00 L178.06,354.72 L177.43,356.26 L176.80,357.40 L176.22,358.04 L175.65,358.29 L175.00,358.20 L174.29,357.83 L173.51,357.13 L172.50,356.00 L171.13,354.30 L169.54,352.18 L168.00,350.00 L166.55,347.94 L165.15,345.83 L164.00,343.50 L163.17,340.50 L162.59,337.28 L162.20,335.00Z" fill="#fff" stroke="#2f4fa2" stroke-width="0.5"/>
<path d="M162.63,334.50 L162.88,333.07 L163.26,331.07 L163.88,329.27 L164.79,327.94 L165.94,326.83 L167.24,325.95 L168.72,325.36 L170.35,325.01 L172.04,324.81 L173.82,324.69 L175.65,324.73 L177.32,325.00 L178.80,325.56 L180.13,326.36 L181.16,327.38 L181.83,328.54 L182.22,329.91 L182.41,331.65 L182.42,333.97 L182.24,336.66 L181.93,339.25 L181.48,341.57 L180.90,343.79 L180.30,345.90 L179.70,347.93 L179.09,349.85 L178.47,351.60 L177.86,353.23 L177.25,354.70 L176.65,355.78 L176.09,356.39 L175.54,356.62 L174.92,356.54 L174.24,356.19 L173.49,355.52 L172.52,354.45 L171.20,352.83 L169.68,350.82 L168.20,348.75 L166.81,346.80 L165.47,344.79 L164.36,342.57 L163.56,339.72 L163.00,336.66 L162.63,334.50Z" fill="none" stroke="#2f4fa2" stroke-width="0.5"/>
<path d="M163.06,334.00 L163.30,332.65 L163.67,330.75 L164.26,329.05 L165.13,327.79 L166.23,326.73 L167.48,325.90 L168.89,325.34 L170.46,325.01 L172.08,324.82 L173.78,324.71 L175.54,324.74 L177.14,325.00 L178.56,325.53 L179.83,326.29 L180.82,327.25 L181.46,328.35 L181.83,329.65 L182.02,331.30 L182.03,333.50 L181.85,336.05 L181.56,338.50 L181.12,340.70 L180.57,342.80 L179.99,344.80 L179.42,346.72 L178.83,348.54 L178.24,350.20 L177.66,351.75 L177.07,353.13 L176.50,354.16 L175.96,354.74 L175.44,354.96 L174.84,354.88 L174.19,354.55 L173.47,353.91 L172.54,352.90 L171.28,351.37 L169.81,349.46 L168.40,347.50 L167.06,345.65 L165.78,343.75 L164.72,341.65 L163.96,338.95 L163.42,336.05 L163.06,334.00Z" fill="none" stroke="#2f4fa2" stroke-width="0.5"/>
<path d="M163.50,333.50 L163.72,332.22 L164.07,330.43 L164.64,328.82 L165.47,327.63 L166.52,326.63 L167.72,325.85 L169.07,325.32 L170.57,325.01 L172.12,324.83 L173.75,324.73 L175.43,324.75 L176.96,325.00 L178.32,325.50 L179.53,326.22 L180.48,327.12 L181.10,328.16 L181.45,329.39 L181.62,330.95 L181.63,333.03 L181.47,335.44 L181.18,337.75 L180.77,339.83 L180.24,341.81 L179.69,343.70 L179.14,345.51 L178.58,347.23 L178.02,348.80 L177.46,350.26 L176.89,351.57 L176.34,352.54 L175.83,353.09 L175.33,353.30 L174.76,353.22 L174.14,352.91 L173.45,352.31 L172.56,351.35 L171.35,349.90 L169.95,348.10 L168.60,346.25 L167.32,344.50 L166.09,342.71 L165.08,340.72 L164.35,338.17 L163.83,335.44 L163.50,333.50Z" fill="none" stroke="#2f4fa2" stroke-width="0.5"/>
<path d="M166.52,337.40 L166.67,336.57 L166.91,335.41 L167.30,334.38 L167.87,333.60 L168.58,332.96 L169.40,332.45 L170.32,332.11 L171.34,331.91 L172.40,331.79 L173.51,331.72 L174.66,331.74 L175.70,331.90 L176.63,332.22 L177.45,332.69 L178.10,333.27 L178.52,333.95 L178.76,334.74 L178.88,335.75 L178.89,337.09 L178.77,338.65 L178.58,340.15 L178.30,341.49 L177.94,342.78 L177.56,344.00 L177.19,345.17 L176.80,346.29 L176.42,347.30 L176.04,348.25 L175.66,349.09 L175.28,349.72 L174.93,350.07 L174.59,350.21 L174.20,350.16 L173.78,349.96 L173.30,349.57 L172.70,348.95 L171.88,348.01 L170.92,346.85 L170.00,345.65 L169.13,344.52 L168.29,343.36 L167.60,342.07 L167.10,340.42 L166.75,338.65 L166.52,337.40Z" fill="none" stroke="#2f4fa2" stroke-width="0.5"/>
<path d="M168.14,339.20 L168.25,338.60 L168.43,337.76 L168.72,337.00 L169.15,336.44 L169.69,335.97 L170.30,335.60 L170.99,335.35 L171.76,335.20 L172.55,335.12 L173.38,335.07 L174.24,335.08 L175.03,335.20 L175.72,335.44 L176.34,335.77 L176.82,336.20 L177.14,336.69 L177.32,337.27 L177.41,338.00 L177.41,338.98 L177.33,340.11 L177.19,341.20 L176.97,342.18 L176.70,343.11 L176.42,344.00 L176.14,344.85 L175.85,345.66 L175.56,346.40 L175.28,347.09 L174.99,347.70 L174.71,348.16 L174.45,348.42 L174.19,348.52 L173.90,348.48 L173.58,348.33 L173.23,348.05 L172.78,347.60 L172.16,346.92 L171.44,346.07 L170.75,345.20 L170.10,344.38 L169.47,343.53 L168.95,342.60 L168.58,341.40 L168.31,340.11 L168.14,339.20Z" fill="none" stroke="#2f4fa2" stroke-width="0.5"/>
<ellipse cx="172.9" cy="336.2" rx="9.7" ry="11.0" fill="#2f4fa2"/>
<ellipse cx="173.2" cy="332.0" rx="9.4" ry="7.0" fill="#2f4fa2"/>
<circle cx="171.50" cy="334.50" r="0.7" fill="#fff"/>
<path fill="#1d5e2e" opacity="0.45" d="M255.1 349.8h0.5v0.5h-0.5zM245.4 345.7h0.5v0.5h-0.5zM251.4 353.1h0.5v0.5h-0.5zM249.1 358.7h0.5v0.5h-0.5zM249.9 353.1h0.5v0.5h-0.5zM245.6 347.0h0.5v0.5h-0.5zM257.2 339.4h0.5v0.5h-0.5zM253.4 345.5h0.5v0.5h-0.5zM249.7 346.7h0.5v0.5h-0.5zM251.0 355.5h0.5v0.5h-0.5zM257.5 341.0h0.5v0.5h-0.5zM253.1 354.2h0.5v0.5h-0.5zM249.4 355.4h0.5v0.5h-0.5zM248.4 355.5h0.5v0.5h-0.5zM255.8 353.8h0.5v0.5h-0.5zM249.1 344.9h0.5v0.5h-0.5zM250.7 344.3h0.5v0.5h-0.5zM258.1 353.9h0.5v0.5h-0.5zM251.9 346.6h0.5v0.5h-0.5zM256.6 347.3h0.5v0.5h-0.5zM243.7 353.4h0.5v0.5h-0.5zM256.4 344.8h0.5v0.5h-0.5zM250.2 348.9h0.5v0.5h-0.5zM241.2 354.3h0.5v0.5h-0.5zM252.7 350.2h0.5v0.5h-0.5zM244.0 343.1h0.5v0.5h-0.5zM258.2 349.3h0.5v0.5h-0.5zM258.8 352.2h0.5v0.5h-0.5zM246.8 349.8h0.5v0.5h-0.5zM256.4 355.9h0.5v0.5h-0.5zM242.0 355.3h0.5v0.5h-0.5zM248.6 355.1h0.5v0.5h-0.5zM256.6 344.7h0.5v0.5h-0.5zM244.8 354.9h0.5v0.5h-0.5zM245.1 345.7h0.5v0.5h-0.5zM253.3 345.7h0.5v0.5h-0.5zM250.3 343.4h0.5v0.5h-0.5zM251.9 341.6h0.5v0.5h-0.5zM250.7 340.3h0.5v0.5h-0.5zM256.0 344.7h0.5v0.5h-0.5zM242.6 354.9h0.5v0.5h-0.5zM249.5 345.8h0.5v0.5h-0.5zM248.9 353.3h0.5v0.5h-0.5zM241.6 339.6h0.5v0.5h-0.5zM249.6 353.7h0.5v0.5h-0.5zM254.6 353.5h0.5v0.5h-0.5zM254.0 362.6h0.5v0.5h-0.5zM255.1 349.2h0.5v0.5h-0.5zM258.2 350.7h0.5v0.5h-0.5zM249.4 347.9h0.5v0.5h-0.5zM256.5 348.8h0.5v0.5h-0.5zM238.7 352.7h0.5v0.5h-0.5zM253.0 349.5h0.5v0.5h-0.5zM253.5 352.1h0.5v0.5h-0.5zM255.4 356.1h0.5v0.5h-0.5zM246.7 351.1h0.5v0.5h-0.5zM254.0 352.4h0.5v0.5h-0.5zM258.2 353.7h0.5v0.5h-0.5zM251.4 356.6h0.5v0.5h-0.5zM250.0 345.1h0.5v0.5h-0.5z"/>
<path d="M260.45,332.23 L261.32,333.92 L261.70,335.79 L261.54,337.71 L260.85,339.57 L259.65,341.27 L258.03,342.75 L256.07,343.96 L253.91,344.88 L251.68,345.50 L249.51,345.82 L247.53,345.83 L245.83,345.55 L244.49,344.96 L243.55,344.07 L243.03,342.88 L242.94,341.42 L243.25,339.72 L243.94,337.86 L244.98,335.94 L246.33,334.05 L247.93,332.34 L249.74,330.91 L251.68,329.89 L253.69,329.35 L255.68,329.33 L257.53,329.84 L259.16,330.83 Z" fill="#fff" stroke="none"/>
<path d="M260.45,332.23 L261.32,333.92 L261.70,335.79 L261.54,337.71 L260.85,339.57 L259.65,341.27 L258.03,342.75 L256.07,343.96 L253.91,344.88 L251.68,345.50 L249.51,345.82 L247.53,345.83 L245.83,345.55 L244.49,344.96 L243.55,344.07 L243.03,342.88 L242.94,341.42 L243.25,339.72 L243.94,337.86 L244.98,335.94 L246.33,334.05 L247.93,332.34 L249.74,330.91 L251.68,329.89 L253.69,329.35 L255.68,329.33 L257.53,329.84 L259.16,330.83 Z M260.02,331.76 L260.87,333.43 L261.24,335.28 L261.09,337.17 L260.41,339.00 L259.23,340.68 L257.62,342.14 L255.69,343.33 L253.56,344.24 L251.36,344.85 L249.23,345.16 L247.27,345.18 L245.60,344.90 L244.27,344.32 L243.34,343.44 L242.83,342.26 L242.74,340.82 L243.05,339.15 L243.74,337.32 L244.76,335.42 L246.09,333.56 L247.67,331.87 L249.45,330.47 L251.37,329.46 L253.35,328.92 L255.30,328.90 L257.14,329.41 L258.74,330.39 Z M259.58,331.30 L260.42,332.94 L260.79,334.76 L260.64,336.62 L259.96,338.43 L258.80,340.09 L257.22,341.52 L255.32,342.70 L253.22,343.59 L251.05,344.20 L248.94,344.50 L247.02,344.52 L245.36,344.24 L244.06,343.67 L243.14,342.80 L242.64,341.65 L242.55,340.22 L242.85,338.58 L243.53,336.77 L244.54,334.90 L245.85,333.07 L247.40,331.40 L249.16,330.02 L251.05,329.02 L253.01,328.49 L254.93,328.48 L256.74,328.97 L258.32,329.94 Z M259.14,330.83 L259.97,332.45 L260.33,334.24 L260.18,336.08 L259.52,337.86 L258.37,339.49 L256.81,340.91 L254.94,342.07 L252.87,342.95 L250.73,343.54 L248.66,343.85 L246.76,343.86 L245.13,343.59 L243.84,343.03 L242.94,342.17 L242.44,341.03 L242.36,339.63 L242.66,338.01 L243.32,336.23 L244.32,334.38 L245.61,332.57 L247.14,330.93 L248.87,329.57 L250.74,328.59 L252.66,328.07 L254.56,328.05 L256.34,328.54 L257.90,329.49 Z M258.70,330.36 L259.52,331.96 L259.88,333.72 L259.73,335.54 L259.08,337.29 L257.95,338.90 L256.41,340.29 L254.56,341.44 L252.52,342.31 L250.42,342.89 L248.37,343.19 L246.50,343.21 L244.90,342.94 L243.63,342.38 L242.74,341.54 L242.25,340.42 L242.16,339.03 L242.46,337.43 L243.11,335.68 L244.10,333.86 L245.36,332.08 L246.88,330.46 L248.58,329.12 L250.42,328.15 L252.32,327.64 L254.19,327.62 L255.94,328.10 L257.48,329.04 Z" fill="none" stroke="#1d5e2e" stroke-width="0.6"/>
<path d="M258.26,329.89 L259.07,331.47 L259.42,333.21 L259.28,334.99 L258.63,336.72 L257.52,338.30 L256.00,339.68 L254.19,340.81 L252.18,341.66 L250.10,342.24 L248.09,342.53 L246.24,342.55 L244.66,342.28 L243.41,341.74 L242.54,340.91 L242.06,339.80 L241.97,338.44 L242.26,336.86 L242.91,335.13 L243.87,333.34 L245.12,331.59 L246.61,329.99 L248.29,328.67 L250.11,327.72 L251.97,327.21 L253.82,327.20 L255.55,327.67 L257.06,328.59 Z" fill="#1d5e2e" stroke="none"/>
<path fill="#e3211f" opacity="0.45" d="M340.2 362.4h0.5v0.5h-0.5zM337.4 346.8h0.5v0.5h-0.5zM317.8 358.8h0.5v0.5h-0.5zM330.4 355.5h0.5v0.5h-0.5zM350.3 346.1h0.5v0.5h-0.5zM333.1 346.7h0.5v0.5h-0.5zM326.6 356.2h0.5v0.5h-0.5zM341.2 368.0h0.5v0.5h-0.5zM329.9 351.1h0.5v0.5h-0.5zM341.2 347.9h0.5v0.5h-0.5zM331.1 363.3h0.5v0.5h-0.5zM328.2 347.4h0.5v0.5h-0.5zM337.7 353.2h0.5v0.5h-0.5zM334.5 356.8h0.5v0.5h-0.5zM336.3 344.8h0.5v0.5h-0.5zM314.5 349.8h0.5v0.5h-0.5zM337.5 358.4h0.5v0.5h-0.5zM344.7 354.5h0.5v0.5h-0.5zM345.3 344.7h0.5v0.5h-0.5zM335.6 340.9h0.5v0.5h-0.5zM339.6 351.2h0.5v0.5h-0.5zM332.3 350.6h0.5v0.5h-0.5zM328.1 357.5h0.5v0.5h-0.5zM340.6 345.3h0.5v0.5h-0.5zM335.3 347.0h0.5v0.5h-0.5zM332.5 346.6h0.5v0.5h-0.5zM335.8 349.7h0.5v0.5h-0.5zM334.2 348.2h0.5v0.5h-0.5zM326.3 355.6h0.5v0.5h-0.5zM345.5 355.2h0.5v0.5h-0.5zM334.9 357.3h0.5v0.5h-0.5zM340.0 350.9h0.5v0.5h-0.5zM326.2 360.1h0.5v0.5h-0.5zM332.3 361.6h0.5v0.5h-0.5zM340.9 351.8h0.5v0.5h-0.5zM321.3 365.6h0.5v0.5h-0.5zM334.3 343.5h0.5v0.5h-0.5zM340.2 348.6h0.5v0.5h-0.5zM330.9 349.7h0.5v0.5h-0.5zM326.9 354.5h0.5v0.5h-0.5zM353.1 340.4h0.5v0.5h-0.5zM333.4 348.4h0.5v0.5h-0.5zM328.9 352.3h0.5v0.5h-0.5zM331.9 359.9h0.5v0.5h-0.5zM335.5 357.3h0.5v0.5h-0.5zM330.4 361.3h0.5v0.5h-0.5zM336.3 355.4h0.5v0.5h-0.5zM330.8 348.6h0.5v0.5h-0.5zM340.0 345.2h0.5v0.5h-0.5zM330.6 348.8h0.5v0.5h-0.5zM334.2 349.6h0.5v0.5h-0.5zM337.0 352.7h0.5v0.5h-0.5zM325.7 348.6h0.5v0.5h-0.5zM339.8 354.7h0.5v0.5h-0.5zM334.7 344.1h0.5v0.5h-0.5zM339.1 351.5h0.5v0.5h-0.5zM337.3 353.0h0.5v0.5h-0.5zM333.1 354.6h0.5v0.5h-0.5zM338.1 346.1h0.5v0.5h-0.5zM325.4 357.7h0.5v0.5h-0.5z"/>
<path d="M346.57,329.20 L347.61,331.26 L348.05,333.54 L347.82,335.89 L346.93,338.18 L345.41,340.29 L343.37,342.13 L340.93,343.64 L338.24,344.81 L335.47,345.61 L332.79,346.03 L330.33,346.09 L328.23,345.77 L326.58,345.08 L325.43,344.00 L324.81,342.55 L324.72,340.76 L325.14,338.68 L326.04,336.39 L327.36,334.01 L329.05,331.68 L331.07,329.56 L333.33,327.78 L335.75,326.49 L338.25,325.79 L340.71,325.74 L342.99,326.33 L344.99,327.51 Z" fill="#fff" stroke="none"/>
<path d="M346.57,329.20 L347.61,331.26 L348.05,333.54 L347.82,335.89 L346.93,338.18 L345.41,340.29 L343.37,342.13 L340.93,343.64 L338.24,344.81 L335.47,345.61 L332.79,346.03 L330.33,346.09 L328.23,345.77 L326.58,345.08 L325.43,344.00 L324.81,342.55 L324.72,340.76 L325.14,338.68 L326.04,336.39 L327.36,334.01 L329.05,331.68 L331.07,329.56 L333.33,327.78 L335.75,326.49 L338.25,325.79 L340.71,325.74 L342.99,326.33 L344.99,327.51 Z M346.10,328.70 L347.13,330.73 L347.56,332.98 L347.33,335.30 L346.45,337.56 L344.96,339.64 L342.95,341.45 L340.54,342.95 L337.89,344.09 L335.16,344.88 L332.51,345.30 L330.09,345.36 L328.02,345.04 L326.39,344.36 L325.26,343.30 L324.65,341.87 L324.56,340.10 L324.98,338.05 L325.85,335.80 L327.16,333.45 L328.83,331.15 L330.82,329.05 L333.05,327.30 L335.44,326.03 L337.90,325.34 L340.32,325.29 L342.58,325.87 L344.55,327.04 Z M345.63,328.21 L346.65,330.21 L347.07,332.43 L346.85,334.71 L345.98,336.94 L344.51,338.98 L342.53,340.77 L340.16,342.25 L337.54,343.38 L334.85,344.16 L332.24,344.57 L329.85,344.63 L327.81,344.32 L326.20,343.64 L325.09,342.59 L324.49,341.19 L324.40,339.44 L324.81,337.42 L325.67,335.20 L326.96,332.89 L328.61,330.62 L330.56,328.55 L332.76,326.83 L335.12,325.57 L337.55,324.89 L339.93,324.84 L342.16,325.41 L344.10,326.57 Z M345.16,327.71 L346.17,329.68 L346.58,331.87 L346.36,334.12 L345.51,336.32 L344.06,338.33 L342.11,340.10 L339.77,341.55 L337.19,342.67 L334.54,343.43 L331.96,343.84 L329.61,343.89 L327.60,343.59 L326.02,342.92 L324.92,341.89 L324.32,340.50 L324.24,338.79 L324.64,336.79 L325.49,334.60 L326.76,332.32 L328.38,330.09 L330.31,328.05 L332.48,326.35 L334.81,325.11 L337.20,324.44 L339.55,324.39 L341.74,324.96 L343.65,326.09 Z M344.70,327.21 L345.69,329.16 L346.09,331.31 L345.88,333.53 L345.04,335.69 L343.61,337.68 L341.68,339.42 L339.38,340.85 L336.84,341.95 L334.22,342.70 L331.69,343.11 L329.37,343.16 L327.39,342.86 L325.83,342.20 L324.74,341.19 L324.16,339.82 L324.07,338.13 L324.47,336.16 L325.31,334.00 L326.56,331.76 L328.16,329.56 L330.06,327.55 L332.20,325.87 L334.49,324.66 L336.85,324.00 L339.16,323.94 L341.32,324.50 L343.21,325.62 Z" fill="none" stroke="#e3211f" stroke-width="0.6"/>
<path d="M344.23,326.72 L345.20,328.63 L345.61,330.75 L345.39,332.94 L344.56,335.07 L343.16,337.03 L341.26,338.74 L338.99,340.15 L336.49,341.24 L333.91,341.98 L331.41,342.38 L329.13,342.43 L327.18,342.13 L325.64,341.48 L324.57,340.48 L323.99,339.14 L323.91,337.47 L324.30,335.53 L325.13,333.41 L326.36,331.19 L327.94,329.03 L329.81,327.05 L331.91,325.40 L334.17,324.20 L336.49,323.55 L338.78,323.49 L340.91,324.04 L342.76,325.15 Z" fill="#e3211f" stroke="none"/>
<circle cx="94.50" cy="328.50" r="0.6" fill="#fff"/>
<circle cx="251.50" cy="335.50" r="0.6" fill="#fff"/>
<circle cx="335.50" cy="333.50" r="0.5" fill="#fff"/>
<rect x="32.30" y="308.70" width="79.10" height="78.80" fill="none" stroke="#555" stroke-width="0.75"/>
<path d="M32.30,382.14 h-0.8 M32.30,379.36 h-0.8 M32.30,377.39 h-0.8 M32.30,375.86 h-0.8 M32.30,374.61 h-0.8 M32.30,373.55 h-0.8 M32.30,372.63 h-0.8 M32.30,371.82 h-0.8 M32.30,371.10 h-1.7 M32.30,366.34 h-0.8 M32.30,363.56 h-0.8 M32.30,361.59 h-0.8 M32.30,360.06 h-0.8 M32.30,358.81 h-0.8 M32.30,357.75 h-0.8 M32.30,356.83 h-0.8 M32.30,356.02 h-0.8 M32.30,355.30 h-1.7 M32.30,350.54 h-0.8 M32.30,347.76 h-0.8 M32.30,345.79 h-0.8 M32.30,344.26 h-0.8 M32.30,343.01 h-0.8 M32.30,341.95 h-0.8 M32.30,341.03 h-0.8 M32.30,340.22 h-0.8 M32.30,339.50 h-1.7 M32.30,334.74 h-0.8 M32.30,331.96 h-0.8 M32.30,329.99 h-0.8 M32.30,328.46 h-0.8 M32.30,327.21 h-0.8 M32.30,326.15 h-0.8 M32.30,325.23 h-0.8 M32.30,324.42 h-0.8 M32.30,323.70 h-1.7 M32.30,318.94 h-0.8 M32.30,316.16 h-0.8 M32.30,314.19 h-0.8 M32.30,312.66 h-0.8 M32.30,311.41 h-0.8 M32.30,310.35 h-0.8 M32.30,309.43 h-0.8 M37.46,387.50 v0.8 M40.24,387.50 v0.8 M42.21,387.50 v0.8 M43.74,387.50 v0.8 M44.99,387.50 v0.8 M46.05,387.50 v0.8 M46.97,387.50 v0.8 M47.78,387.50 v0.8 M48.50,387.50 v1.7 M53.26,387.50 v0.8 M56.04,387.50 v0.8 M58.01,387.50 v0.8 M59.54,387.50 v0.8 M60.79,387.50 v0.8 M61.85,387.50 v0.8 M62.77,387.50 v0.8 M63.58,387.50 v0.8 M64.30,387.50 v1.7 M69.06,387.50 v0.8 M71.84,387.50 v0.8 M73.81,387.50 v0.8 M75.34,387.50 v0.8 M76.59,387.50 v0.8 M77.65,387.50 v0.8 M78.57,387.50 v0.8 M79.38,387.50 v0.8 M80.10,387.50 v1.7 M84.86,387.50 v0.8 M87.64,387.50 v0.8 M89.61,387.50 v0.8 M91.14,387.50 v0.8 M92.39,387.50 v0.8 M93.45,387.50 v0.8 M94.37,387.50 v0.8 M95.18,387.50 v0.8 M95.90,387.50 v1.7 M100.66,387.50 v0.8 M103.44,387.50 v0.8 M105.41,387.50 v0.8 M106.94,387.50 v0.8 M108.19,387.50 v0.8 M109.25,387.50 v0.8 M110.17,387.50 v0.8" stroke="#666" stroke-width="0.45" fill="none"/>
<text x="43.18" y="399.36" font-size="7.2" text-anchor="start" fill="#262626" stroke="#262626" stroke-width="0.12">10</text>
<text x="51.38" y="395.61" font-size="4.752000000000001" text-anchor="start" fill="#666" stroke="#666" stroke-width="0.12">1</text>
<text x="58.98" y="399.36" font-size="7.2" text-anchor="start" fill="#262626" stroke="#262626" stroke-width="0.12">10</text>
<text x="67.18" y="395.61" font-size="4.752000000000001" text-anchor="start" fill="#666" stroke="#666" stroke-width="0.12">2</text>
<text x="74.78" y="399.36" font-size="7.2" text-anchor="start" fill="#262626" stroke="#262626" stroke-width="0.12">10</text>
<text x="82.98" y="395.61" font-size="4.752000000000001" text-anchor="start" fill="#666" stroke="#666" stroke-width="0.12">3</text>
<text x="90.58" y="399.36" font-size="7.2" text-anchor="start" fill="#262626" stroke="#262626" stroke-width="0.12">10</text>
<text x="98.78" y="395.61" font-size="4.752000000000001" text-anchor="start" fill="#666" stroke="#666" stroke-width="0.12">4</text>
<rect x="114.00" y="308.70" width="79.40" height="78.80" fill="none" stroke="#555" stroke-width="0.75"/>
<path d="M114.00,382.14 h-0.8 M114.00,379.36 h-0.8 M114.00,377.39 h-0.8 M114.00,375.86 h-0.8 M114.00,374.61 h-0.8 M114.00,373.55 h-0.8 M114.00,372.63 h-0.8 M114.00,371.82 h-0.8 M114.00,371.10 h-1.7 M114.00,366.34 h-0.8 M114.00,363.56 h-0.8 M114.00,361.59 h-0.8 M114.00,360.06 h-0.8 M114.00,358.81 h-0.8 M114.00,357.75 h-0.8 M114.00,356.83 h-0.8 M114.00,356.02 h-0.8 M114.00,355.30 h-1.7 M114.00,350.54 h-0.8 M114.00,347.76 h-0.8 M114.00,345.79 h-0.8 M114.00,344.26 h-0.8 M114.00,343.01 h-0.8 M114.00,341.95 h-0.8 M114.00,341.03 h-0.8 M114.00,340.22 h-0.8 M114.00,339.50 h-1.7 M114.00,334.74 h-0.8 M114.00,331.96 h-0.8 M114.00,329.99 h-0.8 M114.00,328.46 h-0.8 M114.00,327.21 h-0.8 M114.00,326.15 h-0.8 M114.00,325.23 h-0.8 M114.00,324.42 h-0.8 M114.00,323.70 h-1.7 M114.00,318.94 h-0.8 M114.00,316.16 h-0.8 M114.00,314.19 h-0.8 M114.00,312.66 h-0.8 M114.00,311.41 h-0.8 M114.00,310.35 h-0.8 M114.00,309.43 h-0.8 M119.16,387.50 v0.8 M121.94,387.50 v0.8 M123.91,387.50 v0.8 M125.44,387.50 v0.8 M126.69,387.50 v0.8 M127.75,387.50 v0.8 M128.67,387.50 v0.8 M129.48,387.50 v0.8 M130.20,387.50 v1.7 M134.96,387.50 v0.8 M137.74,387.50 v0.8 M139.71,387.50 v0.8 M141.24,387.50 v0.8 M142.49,387.50 v0.8 M143.55,387.50 v0.8 M144.47,387.50 v0.8 M145.28,387.50 v0.8 M146.00,387.50 v1.7 M150.76,387.50 v0.8 M153.54,387.50 v0.8 M155.51,387.50 v0.8 M157.04,387.50 v0.8 M158.29,387.50 v0.8 M159.35,387.50 v0.8 M160.27,387.50 v0.8 M161.08,387.50 v0.8 M161.80,387.50 v1.7 M166.56,387.50 v0.8 M169.34,387.50 v0.8 M171.31,387.50 v0.8 M172.84,387.50 v0.8 M174.09,387.50 v0.8 M175.15,387.50 v0.8 M176.07,387.50 v0.8 M176.88,387.50 v0.8 M177.60,387.50 v1.7 M182.36,387.50 v0.8 M185.14,387.50 v0.8 M187.11,387.50 v0.8 M188.64,387.50 v0.8 M189.89,387.50 v0.8 M190.95,387.50 v0.8 M191.87,387.50 v0.8 M192.68,387.50 v0.8" stroke="#666" stroke-width="0.45" fill="none"/>
<text x="124.88" y="399.36" font-size="7.2" text-anchor="start" fill="#262626" stroke="#262626" stroke-width="0.12">10</text>
<text x="133.08" y="395.61" font-size="4.752000000000001" text-anchor="start" fill="#666" stroke="#666" stroke-width="0.12">1</text>
<text x="140.68" y="399.36" font-size="7.2" text-anchor="start" fill="#262626" stroke="#262626" stroke-width="0.12">10</text>
<text x="148.88" y="395.61" font-size="4.752000000000001" text-anchor="start" fill="#666" stroke="#666" stroke-width="0.12">2</text>
<text x="156.48" y="399.36" font-size="7.2" text-anchor="start" fill="#262626" stroke="#262626" stroke-width="0.12">10</text>
<text x="164.68" y="395.61" font-size="4.752000000000001" text-anchor="start" fill="#666" stroke="#666" stroke-width="0.12">3</text>
<text x="172.28" y="399.36" font-size="7.2" text-anchor="start" fill="#262626" stroke="#262626" stroke-width="0.12">10</text>
<text x="180.48" y="395.61" font-size="4.752000000000001" text-anchor="start" fill="#666" stroke="#666" stroke-width="0.12">4</text>
<rect x="196.80" y="308.70" width="78.50" height="78.80" fill="none" stroke="#555" stroke-width="0.75"/>
<path d="M196.80,382.14 h-0.8 M196.80,379.36 h-0.8 M196.80,377.39 h-0.8 M196.80,375.86 h-0.8 M196.80,374.61 h-0.8 M196.80,373.55 h-0.8 M196.80,372.63 h-0.8 M196.80,371.82 h-0.8 M196.80,371.10 h-1.7 M196.80,366.34 h-0.8 M196.80,363.56 h-0.8 M196.80,361.59 h-0.8 M196.80,360.06 h-0.8 M196.80,358.81 h-0.8 M196.80,357.75 h-0.8 M196.80,356.83 h-0.8 M196.80,356.02 h-0.8 M196.80,355.30 h-1.7 M196.80,350.54 h-0.8 M196.80,347.76 h-0.8 M196.80,345.79 h-0.8 M196.80,344.26 h-0.8 M196.80,343.01 h-0.8 M196.80,341.95 h-0.8 M196.80,341.03 h-0.8 M196.80,340.22 h-0.8 M196.80,339.50 h-1.7 M196.80,334.74 h-0.8 M196.80,331.96 h-0.8 M196.80,329.99 h-0.8 M196.80,328.46 h-0.8 M196.80,327.21 h-0.8 M196.80,326.15 h-0.8 M196.80,325.23 h-0.8 M196.80,324.42 h-0.8 M196.80,323.70 h-1.7 M196.80,318.94 h-0.8 M196.80,316.16 h-0.8 M196.80,314.19 h-0.8 M196.80,312.66 h-0.8 M196.80,311.41 h-0.8 M196.80,310.35 h-0.8 M196.80,309.43 h-0.8 M201.96,387.50 v0.8 M204.74,387.50 v0.8 M206.71,387.50 v0.8 M208.24,387.50 v0.8 M209.49,387.50 v0.8 M210.55,387.50 v0.8 M211.47,387.50 v0.8 M212.28,387.50 v0.8 M213.00,387.50 v1.7 M217.76,387.50 v0.8 M220.54,387.50 v0.8 M222.51,387.50 v0.8 M224.04,387.50 v0.8 M225.29,387.50 v0.8 M226.35,387.50 v0.8 M227.27,387.50 v0.8 M228.08,387.50 v0.8 M228.80,387.50 v1.7 M233.56,387.50 v0.8 M236.34,387.50 v0.8 M238.31,387.50 v0.8 M239.84,387.50 v0.8 M241.09,387.50 v0.8 M242.15,387.50 v0.8 M243.07,387.50 v0.8 M243.88,387.50 v0.8 M244.60,387.50 v1.7 M249.36,387.50 v0.8 M252.14,387.50 v0.8 M254.11,387.50 v0.8 M255.64,387.50 v0.8 M256.89,387.50 v0.8 M257.95,387.50 v0.8 M258.87,387.50 v0.8 M259.68,387.50 v0.8 M260.40,387.50 v1.7 M265.16,387.50 v0.8 M267.94,387.50 v0.8 M269.91,387.50 v0.8 M271.44,387.50 v0.8 M272.69,387.50 v0.8 M273.75,387.50 v0.8 M274.67,387.50 v0.8" stroke="#666" stroke-width="0.45" fill="none"/>
<text x="207.68" y="399.36" font-size="7.2" text-anchor="start" fill="#262626" stroke="#262626" stroke-width="0.12">10</text>
<text x="215.88" y="395.61" font-size="4.752000000000001" text-anchor="start" fill="#666" stroke="#666" stroke-width="0.12">1</text>
<text x="223.48" y="399.36" font-size="7.2" text-anchor="start" fill="#262626" stroke="#262626" stroke-width="0.12">10</text>
<text x="231.68" y="395.61" font-size="4.752000000000001" text-anchor="start" fill="#666" stroke="#666" stroke-width="0.12">2</text>
<text x="239.28" y="399.36" font-size="7.2" text-anchor="start" fill="#262626" stroke="#262626" stroke-width="0.12">10</text>
<text x="247.48" y="395.61" font-size="4.752000000000001" text-anchor="start" fill="#666" stroke="#666" stroke-width="0.12">3</text>
<text x="255.08" y="399.36" font-size="7.2" text-anchor="start" fill="#262626" stroke="#262626" stroke-width="0.12">10</text>
<text x="263.28" y="395.61" font-size="4.752000000000001" text-anchor="start" fill="#666" stroke="#666" stroke-width="0.12">4</text>
<rect x="279.10" y="308.70" width="79.00" height="78.80" fill="none" stroke="#555" stroke-width="0.75"/>
<path d="M279.10,382.14 h-0.8 M279.10,379.36 h-0.8 M279.10,377.39 h-0.8 M279.10,375.86 h-0.8 M279.10,374.61 h-0.8 M279.10,373.55 h-0.8 M279.10,372.63 h-0.8 M279.10,371.82 h-0.8 M279.10,371.10 h-1.7 M279.10,366.34 h-0.8 M279.10,363.56 h-0.8 M279.10,361.59 h-0.8 M279.10,360.06 h-0.8 M279.10,358.81 h-0.8 M279.10,357.75 h-0.8 M279.10,356.83 h-0.8 M279.10,356.02 h-0.8 M279.10,355.30 h-1.7 M279.10,350.54 h-0.8 M279.10,347.76 h-0.8 M279.10,345.79 h-0.8 M279.10,344.26 h-0.8 M279.10,343.01 h-0.8 M279.10,341.95 h-0.8 M279.10,341.03 h-0.8 M279.10,340.22 h-0.8 M279.10,339.50 h-1.7 M279.10,334.74 h-0.8 M279.10,331.96 h-0.8 M279.10,329.99 h-0.8 M279.10,328.46 h-0.8 M279.10,327.21 h-0.8 M279.10,326.15 h-0.8 M279.10,325.23 h-0.8 M279.10,324.42 h-0.8 M279.10,323.70 h-1.7 M279.10,318.94 h-0.8 M279.10,316.16 h-0.8 M279.10,314.19 h-0.8 M279.10,312.66 h-0.8 M279.10,311.41 h-0.8 M279.10,310.35 h-0.8 M279.10,309.43 h-0.8 M284.26,387.50 v0.8 M287.04,387.50 v0.8 M289.01,387.50 v0.8 M290.54,387.50 v0.8 M291.79,387.50 v0.8 M292.85,387.50 v0.8 M293.77,387.50 v0.8 M294.58,387.50 v0.8 M295.30,387.50 v1.7 M300.06,387.50 v0.8 M302.84,387.50 v0.8 M304.81,387.50 v0.8 M306.34,387.50 v0.8 M307.59,387.50 v0.8 M308.65,387.50 v0.8 M309.57,387.50 v0.8 M310.38,387.50 v0.8 M311.10,387.50 v1.7 M315.86,387.50 v0.8 M318.64,387.50 v0.8 M320.61,387.50 v0.8 M322.14,387.50 v0.8 M323.39,387.50 v0.8 M324.45,387.50 v0.8 M325.37,387.50 v0.8 M326.18,387.50 v0.8 M326.90,387.50 v1.7 M331.66,387.50 v0.8 M334.44,387.50 v0.8 M336.41,387.50 v0.8 M337.94,387.50 v0.8 M339.19,387.50 v0.8 M340.25,387.50 v0.8 M341.17,387.50 v0.8 M341.98,387.50 v0.8 M342.70,387.50 v1.7 M347.46,387.50 v0.8 M350.24,387.50 v0.8 M352.21,387.50 v0.8 M353.74,387.50 v0.8 M354.99,387.50 v0.8 M356.05,387.50 v0.8 M356.97,387.50 v0.8" stroke="#666" stroke-width="0.45" fill="none"/>
<text x="289.98" y="399.36" font-size="7.2" text-anchor="start" fill="#262626" stroke="#262626" stroke-width="0.12">10</text>
<text x="298.18" y="395.61" font-size="4.752000000000001" text-anchor="start" fill="#666" stroke="#666" stroke-width="0.12">1</text>
<text x="305.78" y="399.36" font-size="7.2" text-anchor="start" fill="#262626" stroke="#262626" stroke-width="0.12">10</text>
<text x="313.98" y="395.61" font-size="4.752000000000001" text-anchor="start" fill="#666" stroke="#666" stroke-width="0.12">2</text>
<text x="321.58" y="399.36" font-size="7.2" text-anchor="start" fill="#262626" stroke="#262626" stroke-width="0.12">10</text>
<text x="329.78" y="395.61" font-size="4.752000000000001" text-anchor="start" fill="#666" stroke="#666" stroke-width="0.12">3</text>
<text x="337.38" y="399.36" font-size="7.2" text-anchor="start" fill="#262626" stroke="#262626" stroke-width="0.12">10</text>
<text x="345.58" y="395.61" font-size="4.752000000000001" text-anchor="start" fill="#666" stroke="#666" stroke-width="0.12">4</text>
<text x="17.85" y="326.26" font-size="7.2" text-anchor="start" fill="#262626" stroke="#262626" stroke-width="0.12">10</text>
<text x="26.06" y="322.51" font-size="4.752000000000001" text-anchor="start" fill="#666" stroke="#666" stroke-width="0.12">4</text>
<text x="17.85" y="342.06" font-size="7.2" text-anchor="start" fill="#262626" stroke="#262626" stroke-width="0.12">10</text>
<text x="26.06" y="338.31" font-size="4.752000000000001" text-anchor="start" fill="#666" stroke="#666" stroke-width="0.12">3</text>
<text x="17.85" y="357.86" font-size="7.2" text-anchor="start" fill="#262626" stroke="#262626" stroke-width="0.12">10</text>
<text x="26.06" y="354.11" font-size="4.752000000000001" text-anchor="start" fill="#666" stroke="#666" stroke-width="0.12">2</text>
<text x="17.85" y="373.66" font-size="7.2" text-anchor="start" fill="#262626" stroke="#262626" stroke-width="0.12">10</text>
<text x="26.06" y="369.91" font-size="4.752000000000001" text-anchor="start" fill="#666" stroke="#666" stroke-width="0.12">1</text>
<text x="32.60" y="408.51" font-size="8.2" text-anchor="start" fill="#262626" stroke="#262626" stroke-width="0.12" textLength="34.80" lengthAdjust="spacingAndGlyphs">mCherry</text>
<line x1="70.60" y1="405.30" x2="355.34" y2="405.30" stroke="#3e5072" stroke-width="1.1"/>
<path d="M358.10,405.30 L353.50,403.20 L354.65,405.30 L353.50,407.40 Z" fill="#3e5072"/>
<text x="12.00" y="382.69" font-size="9.0" text-anchor="middle" fill="#262626" stroke="#262626" stroke-width="0.12" textLength="15.80" lengthAdjust="spacingAndGlyphs" transform="rotate(-90 12.00 379.50)">GFP</text>
<line x1="12.30" y1="369.50" x2="12.30" y2="311.56" stroke="#3e5072" stroke-width="1.1"/>
<path d="M12.30,308.80 L10.20,313.40 L12.30,312.25 L14.40,313.40 Z" fill="#3e5072"/>
<line x1="365.20" y1="312.50" x2="375.70" y2="312.50" stroke="#3b4a66" stroke-width="3.0"/>
<path d="M383.70,312.50 L373.70,308.20 L375.70,312.50 L373.70,316.80 Z" fill="#3b4a66"/>
<rect x="416.60" y="364.73" width="21.30" height="34.77" fill="#fff" stroke="#999" stroke-width="0.7"/>
<rect x="449.00" y="321.54" width="20.80" height="77.96" fill="#8fa3d2" stroke="#444" stroke-width="0.7"/>
<rect x="481.00" y="352.29" width="20.50" height="47.21" fill="#78c69c" stroke="#444" stroke-width="0.7"/>
<rect x="513.10" y="354.12" width="20.50" height="45.38" fill="#f0928c" stroke="#444" stroke-width="0.7"/>
<line x1="405.50" y1="308.50" x2="405.50" y2="399.50" stroke="#444" stroke-width="0.7"/>
<line x1="405.50" y1="399.50" x2="535.90" y2="399.50" stroke="#444" stroke-width="0.7"/>
<line x1="403.10" y1="399.50" x2="405.50" y2="399.50" stroke="#444" stroke-width="0.6"/>
<text x="398.20" y="401.99" font-size="7.0" text-anchor="middle" fill="#262626" stroke="#262626" stroke-width="0.12">0</text>
<line x1="403.10" y1="362.90" x2="405.50" y2="362.90" stroke="#444" stroke-width="0.6"/>
<text x="398.20" y="365.38" font-size="7.0" text-anchor="middle" fill="#262626" stroke="#262626" stroke-width="0.12">1</text>
<line x1="403.10" y1="326.30" x2="405.50" y2="326.30" stroke="#444" stroke-width="0.6"/>
<text x="398.20" y="328.79" font-size="7.0" text-anchor="middle" fill="#262626" stroke="#262626" stroke-width="0.12">2</text>
<text x="385.50" y="357.25" font-size="8.3" text-anchor="middle" fill="#262626" stroke="#262626" stroke-width="0.12" textLength="60.00" lengthAdjust="spacingAndGlyphs" transform="rotate(-90 385.50 354.30)">Autophagy flux</text>
<line x1="420.00" y1="364.60" x2="434.00" y2="364.60" stroke="#444" stroke-width="0.6"/>
<circle cx="419.90" cy="365.40" r="2.0" fill="#111"/>
<circle cx="427.10" cy="363.10" r="2.0" fill="#111"/>
<circle cx="434.10" cy="365.00" r="2.0" fill="#111"/>
<line x1="459.40" y1="314.90" x2="459.40" y2="327.60" stroke="#222" stroke-width="0.7"/>
<line x1="454.90" y1="314.90" x2="463.90" y2="314.90" stroke="#222" stroke-width="0.7"/>
<line x1="454.40" y1="327.60" x2="464.40" y2="327.60" stroke="#222" stroke-width="0.7"/>
<circle cx="455.50" cy="314.20" r="2.0" fill="#111"/>
<circle cx="462.80" cy="315.30" r="2.0" fill="#111"/>
<circle cx="459.00" cy="334.30" r="2.0" fill="#111"/>
<line x1="491.20" y1="349.30" x2="491.20" y2="355.00" stroke="#222" stroke-width="0.7"/>
<line x1="486.70" y1="349.30" x2="495.70" y2="349.30" stroke="#222" stroke-width="0.7"/>
<line x1="486.20" y1="355.00" x2="496.20" y2="355.00" stroke="#222" stroke-width="0.7"/>
<circle cx="487.40" cy="348.90" r="2.0" fill="#111"/>
<circle cx="494.40" cy="349.50" r="2.0" fill="#111"/>
<circle cx="491.20" cy="357.80" r="2.0" fill="#111"/>
<line x1="523.30" y1="350.60" x2="523.30" y2="355.90" stroke="#222" stroke-width="0.7"/>
<line x1="518.80" y1="350.60" x2="527.80" y2="350.60" stroke="#222" stroke-width="0.7"/>
<line x1="518.30" y1="355.90" x2="528.30" y2="355.90" stroke="#222" stroke-width="0.7"/>
<circle cx="519.70" cy="350.40" r="2.0" fill="#111"/>
<circle cx="526.70" cy="352.10" r="2.0" fill="#111"/>
<circle cx="523.30" cy="358.80" r="2.0" fill="#111"/>
<line x1="427.10" y1="307.20" x2="458.20" y2="307.20" stroke="#c4c4c4" stroke-width="0.7"/>
<text x="442.40" y="305.24" font-size="8.0" text-anchor="middle" fill="#262626" stroke="#262626" stroke-width="0.12"><0.0001</text>
<line x1="427.10" y1="292.50" x2="491.50" y2="292.50" stroke="#c4c4c4" stroke-width="0.7"/>
<text x="459.00" y="291.44" font-size="8.0" text-anchor="middle" fill="#262626" stroke="#262626" stroke-width="0.12">ns</text>
<line x1="427.10" y1="276.10" x2="523.40" y2="276.10" stroke="#c4c4c4" stroke-width="0.7"/>
<text x="475.40" y="275.34" font-size="8.0" text-anchor="middle" fill="#262626" stroke="#262626" stroke-width="0.12">ns</text>
<text x="426.80" y="410.16" font-size="7.2" text-anchor="middle" fill="#262626" stroke="#262626" stroke-width="0.12">RPMI</text>
<text x="459.60" y="410.16" font-size="7.2" text-anchor="middle" fill="#6a6ab8" stroke="#6a6ab8" stroke-width="0.12">HBSS</text>
<text x="492.00" y="410.16" font-size="7.2" text-anchor="middle" fill="#2e8b57" stroke="#2e8b57" stroke-width="0.12">No</text>
<text x="492.00" y="419.26" font-size="7.2" text-anchor="middle" fill="#2e8b57" stroke="#2e8b57" stroke-width="0.12">glucose</text>
<text x="522.50" y="410.16" font-size="7.2" text-anchor="middle" fill="#e3262a" stroke="#e3262a" stroke-width="0.12">+ Rap</text>
<line x1="415.20" y1="423.70" x2="535.30" y2="423.70" stroke="#262626" stroke-width="0.7"/>
<text x="474.80" y="432.78" font-size="8.4" text-anchor="middle" fill="#262626" stroke="#262626" stroke-width="0.12">24 h</text>
<text x="557.60" y="291.70" font-size="13" text-anchor="start" fill="#000" stroke="#000" stroke-width="0.12" font-weight="bold">d</text>
<line x1="591.00" y1="309.30" x2="591.00" y2="399.40" stroke="#555" stroke-width="0.7"/>
<line x1="591.00" y1="399.40" x2="681.50" y2="399.40" stroke="#555" stroke-width="0.7"/>
<line x1="588.60" y1="399.40" x2="591.00" y2="399.40" stroke="#555" stroke-width="0.6"/>
<text x="583.60" y="401.88" font-size="7.0" text-anchor="end" fill="#262626" stroke="#262626" stroke-width="0.12">0.5</text>
<line x1="588.60" y1="369.36" x2="591.00" y2="369.36" stroke="#555" stroke-width="0.6"/>
<text x="583.60" y="371.85" font-size="7.0" text-anchor="end" fill="#262626" stroke="#262626" stroke-width="0.12">1.0</text>
<line x1="588.60" y1="339.33" x2="591.00" y2="339.33" stroke="#555" stroke-width="0.6"/>
<text x="583.60" y="341.81" font-size="7.0" text-anchor="end" fill="#262626" stroke="#262626" stroke-width="0.12">1.5</text>
<line x1="588.60" y1="309.29" x2="591.00" y2="309.29" stroke="#555" stroke-width="0.6"/>
<text x="583.60" y="311.78" font-size="7.0" text-anchor="end" fill="#262626" stroke="#262626" stroke-width="0.12">2.0</text>
<line x1="602.10" y1="399.40" x2="602.10" y2="401.80" stroke="#555" stroke-width="0.6"/>
<text x="602.10" y="412.69" font-size="7.0" text-anchor="middle" fill="#262626" stroke="#262626" stroke-width="0.12">0</text>
<line x1="619.10" y1="399.40" x2="619.10" y2="401.80" stroke="#555" stroke-width="0.6"/>
<text x="619.10" y="412.69" font-size="7.0" text-anchor="middle" fill="#262626" stroke="#262626" stroke-width="0.12">2</text>
<line x1="636.20" y1="399.40" x2="636.20" y2="401.80" stroke="#555" stroke-width="0.6"/>
<text x="636.20" y="412.69" font-size="7.0" text-anchor="middle" fill="#262626" stroke="#262626" stroke-width="0.12">4</text>
<line x1="653.40" y1="399.40" x2="653.40" y2="401.80" stroke="#555" stroke-width="0.6"/>
<text x="653.40" y="412.69" font-size="7.0" text-anchor="middle" fill="#262626" stroke="#262626" stroke-width="0.12">6</text>
<line x1="670.40" y1="399.40" x2="670.40" y2="401.80" stroke="#555" stroke-width="0.6"/>
<text x="670.40" y="412.69" font-size="7.0" text-anchor="middle" fill="#262626" stroke="#262626" stroke-width="0.12">8</text>
<text x="636.30" y="425.81" font-size="8.2" text-anchor="middle" fill="#262626" stroke="#262626" stroke-width="0.12">Time (h)</text>
<text x="563.40" y="356.95" font-size="8.3" text-anchor="middle" fill="#262626" stroke="#262626" stroke-width="0.12" textLength="60.00" lengthAdjust="spacingAndGlyphs" transform="rotate(-90 563.40 354.00)">Autophagy flux</text>
<line x1="591.00" y1="292.30" x2="600.00" y2="292.30" stroke="#3a5fae" stroke-width="1.5"/>
<text x="603.40" y="294.86" font-size="7.2" text-anchor="start" fill="#262626" stroke="#262626" stroke-width="0.12">HBSS</text>
<line x1="634.30" y1="292.30" x2="643.20" y2="292.30" stroke="#e84040" stroke-width="1.5"/>
<text x="646.40" y="294.86" font-size="7.2" text-anchor="start" fill="#262626" stroke="#262626" stroke-width="0.12">+ Rap</text>
<line x1="591.00" y1="302.60" x2="600.00" y2="302.60" stroke="#999" stroke-width="1.5"/>
<text x="603.40" y="305.16" font-size="7.2" text-anchor="start" fill="#262626" stroke="#262626" stroke-width="0.12">RPMI</text>
<line x1="634.30" y1="302.60" x2="643.20" y2="302.60" stroke="#1f9a4f" stroke-width="1.5"/>
<text x="646.40" y="305.16" font-size="7.2" text-anchor="start" fill="#262626" stroke="#262626" stroke-width="0.12">No glucose</text>
<path d="M602.10,369.36 L619.10,370.57 L636.20,368.76 L653.40,367.56 L670.40,369.36" fill="none" stroke="#9a9a9a" stroke-width="0.7"/>
<line x1="619.10" y1="371.17" x2="619.10" y2="369.97" stroke="#9a9a9a" stroke-width="0.6"/>
<line x1="617.50" y1="371.17" x2="620.70" y2="371.17" stroke="#9a9a9a" stroke-width="0.6"/>
<line x1="617.50" y1="369.97" x2="620.70" y2="369.97" stroke="#9a9a9a" stroke-width="0.6"/>
<line x1="636.20" y1="369.67" x2="636.20" y2="367.86" stroke="#9a9a9a" stroke-width="0.6"/>
<line x1="634.60" y1="369.67" x2="637.80" y2="369.67" stroke="#9a9a9a" stroke-width="0.6"/>
<line x1="634.60" y1="367.86" x2="637.80" y2="367.86" stroke="#9a9a9a" stroke-width="0.6"/>
<line x1="653.40" y1="368.46" x2="653.40" y2="366.66" stroke="#9a9a9a" stroke-width="0.6"/>
<line x1="651.80" y1="368.46" x2="655.00" y2="368.46" stroke="#9a9a9a" stroke-width="0.6"/>
<line x1="651.80" y1="366.66" x2="655.00" y2="366.66" stroke="#9a9a9a" stroke-width="0.6"/>
<line x1="670.40" y1="369.97" x2="670.40" y2="368.76" stroke="#9a9a9a" stroke-width="0.6"/>
<line x1="668.80" y1="369.97" x2="672.00" y2="369.97" stroke="#9a9a9a" stroke-width="0.6"/>
<line x1="668.80" y1="368.76" x2="672.00" y2="368.76" stroke="#9a9a9a" stroke-width="0.6"/>
<circle cx="602.10" cy="369.36" r="1.7" fill="#9a9a9a"/>
<circle cx="619.10" cy="370.57" r="1.7" fill="#9a9a9a"/>
<circle cx="636.20" cy="368.76" r="1.7" fill="#9a9a9a"/>
<circle cx="653.40" cy="367.56" r="1.7" fill="#9a9a9a"/>
<circle cx="670.40" cy="369.36" r="1.7" fill="#9a9a9a"/>
<path d="M602.10,369.36 L619.10,369.36 L636.20,366.96 L653.40,365.76 L670.40,366.96" fill="none" stroke="#e84040" stroke-width="0.7"/>
<line x1="619.10" y1="369.97" x2="619.10" y2="368.76" stroke="#e84040" stroke-width="0.6"/>
<line x1="617.50" y1="369.97" x2="620.70" y2="369.97" stroke="#e84040" stroke-width="0.6"/>
<line x1="617.50" y1="368.76" x2="620.70" y2="368.76" stroke="#e84040" stroke-width="0.6"/>
<line x1="636.20" y1="367.56" x2="636.20" y2="366.36" stroke="#e84040" stroke-width="0.6"/>
<line x1="634.60" y1="367.56" x2="637.80" y2="367.56" stroke="#e84040" stroke-width="0.6"/>
<line x1="634.60" y1="366.36" x2="637.80" y2="366.36" stroke="#e84040" stroke-width="0.6"/>
<line x1="653.40" y1="368.16" x2="653.40" y2="363.36" stroke="#e84040" stroke-width="0.6"/>
<line x1="651.80" y1="368.16" x2="655.00" y2="368.16" stroke="#e84040" stroke-width="0.6"/>
<line x1="651.80" y1="363.36" x2="655.00" y2="363.36" stroke="#e84040" stroke-width="0.6"/>
<line x1="670.40" y1="368.16" x2="670.40" y2="365.76" stroke="#e84040" stroke-width="0.6"/>
<line x1="668.80" y1="368.16" x2="672.00" y2="368.16" stroke="#e84040" stroke-width="0.6"/>
<line x1="668.80" y1="365.76" x2="672.00" y2="365.76" stroke="#e84040" stroke-width="0.6"/>
<circle cx="602.10" cy="369.36" r="1.7" fill="#e84040"/>
<circle cx="619.10" cy="369.36" r="1.7" fill="#e84040"/>
<circle cx="636.20" cy="366.96" r="1.7" fill="#e84040"/>
<circle cx="653.40" cy="365.76" r="1.7" fill="#e84040"/>
<circle cx="670.40" cy="366.96" r="1.7" fill="#e84040"/>
<path d="M602.10,369.36 L619.10,368.76 L636.20,366.36 L653.40,365.76 L670.40,363.96" fill="none" stroke="#1f9a4f" stroke-width="0.7"/>
<line x1="619.10" y1="369.36" x2="619.10" y2="368.16" stroke="#1f9a4f" stroke-width="0.6"/>
<line x1="617.50" y1="369.36" x2="620.70" y2="369.36" stroke="#1f9a4f" stroke-width="0.6"/>
<line x1="617.50" y1="368.16" x2="620.70" y2="368.16" stroke="#1f9a4f" stroke-width="0.6"/>
<line x1="636.20" y1="367.26" x2="636.20" y2="365.46" stroke="#1f9a4f" stroke-width="0.6"/>
<line x1="634.60" y1="367.26" x2="637.80" y2="367.26" stroke="#1f9a4f" stroke-width="0.6"/>
<line x1="634.60" y1="365.46" x2="637.80" y2="365.46" stroke="#1f9a4f" stroke-width="0.6"/>
<line x1="653.40" y1="366.66" x2="653.40" y2="364.86" stroke="#1f9a4f" stroke-width="0.6"/>
<line x1="651.80" y1="366.66" x2="655.00" y2="366.66" stroke="#1f9a4f" stroke-width="0.6"/>
<line x1="651.80" y1="364.86" x2="655.00" y2="364.86" stroke="#1f9a4f" stroke-width="0.6"/>
<line x1="670.40" y1="365.16" x2="670.40" y2="362.76" stroke="#1f9a4f" stroke-width="0.6"/>
<line x1="668.80" y1="365.16" x2="672.00" y2="365.16" stroke="#1f9a4f" stroke-width="0.6"/>
<line x1="668.80" y1="362.76" x2="672.00" y2="362.76" stroke="#1f9a4f" stroke-width="0.6"/>
<circle cx="602.10" cy="369.36" r="1.7" fill="#1f9a4f"/>
<circle cx="619.10" cy="368.76" r="1.7" fill="#1f9a4f"/>
<circle cx="636.20" cy="366.36" r="1.7" fill="#1f9a4f"/>
<circle cx="653.40" cy="365.76" r="1.7" fill="#1f9a4f"/>
<circle cx="670.40" cy="363.96" r="1.7" fill="#1f9a4f"/>
<path d="M602.10,369.36 L619.10,360.96 L636.20,352.55 L653.40,341.43 L670.40,336.33" fill="none" stroke="#3552a6" stroke-width="0.7"/>
<line x1="619.10" y1="365.16" x2="619.10" y2="356.75" stroke="#7b93cf" stroke-width="0.6"/>
<line x1="617.50" y1="365.16" x2="620.70" y2="365.16" stroke="#7b93cf" stroke-width="0.6"/>
<line x1="617.50" y1="356.75" x2="620.70" y2="356.75" stroke="#7b93cf" stroke-width="0.6"/>
<line x1="636.20" y1="357.35" x2="636.20" y2="347.74" stroke="#7b93cf" stroke-width="0.6"/>
<line x1="634.60" y1="357.35" x2="637.80" y2="357.35" stroke="#7b93cf" stroke-width="0.6"/>
<line x1="634.60" y1="347.74" x2="637.80" y2="347.74" stroke="#7b93cf" stroke-width="0.6"/>
<line x1="653.40" y1="348.34" x2="653.40" y2="334.52" stroke="#7b93cf" stroke-width="0.6"/>
<line x1="651.80" y1="348.34" x2="655.00" y2="348.34" stroke="#7b93cf" stroke-width="0.6"/>
<line x1="651.80" y1="334.52" x2="655.00" y2="334.52" stroke="#7b93cf" stroke-width="0.6"/>
<line x1="670.40" y1="343.23" x2="670.40" y2="329.42" stroke="#7b93cf" stroke-width="0.6"/>
<line x1="668.80" y1="343.23" x2="672.00" y2="343.23" stroke="#7b93cf" stroke-width="0.6"/>
<line x1="668.80" y1="329.42" x2="672.00" y2="329.42" stroke="#7b93cf" stroke-width="0.6"/>
<circle cx="602.10" cy="369.36" r="1.95" fill="#3552a6"/>
<circle cx="619.10" cy="360.96" r="1.95" fill="#3552a6"/>
<circle cx="636.20" cy="352.55" r="1.95" fill="#3552a6"/>
<circle cx="653.40" cy="341.43" r="1.95" fill="#3552a6"/>
<circle cx="670.40" cy="336.33" r="1.95" fill="#3552a6"/>
<text x="636.20" y="346.34" font-size="8.0" text-anchor="middle" fill="#262626" stroke="#262626" stroke-width="0.12">0.05</text>
<text x="652.20" y="332.44" font-size="8.0" text-anchor="middle" fill="#262626" stroke="#262626" stroke-width="0.12">0.03</text>
<text x="670.20" y="324.84" font-size="8.0" text-anchor="middle" fill="#262626" stroke="#262626" stroke-width="0.12">0.009</text>
<text x="-0.30" y="444.00" font-size="13" text-anchor="start" fill="#000" stroke="#000" stroke-width="0.12" font-weight="bold">e</text>
<text x="43.80" y="445.00" font-size="8.6" text-anchor="start" fill="#262626" stroke="#262626" stroke-width="0.12">CTL</text>
<text x="129.10" y="445.00" font-size="8.6" text-anchor="start" fill="#262626" stroke="#262626" stroke-width="0.12" textLength="55.00" lengthAdjust="spacingAndGlyphs">AMPK KO CTL</text>
<path d="M72.00,527.00 L73.09,526.94 L74.63,526.72 L76.00,525.50 L76.96,523.20 L77.76,519.91 L78.50,515.00 L79.22,507.48 L79.89,498.35 L80.50,490.00 L81.06,482.93 L81.56,476.63 L82.00,472.00 L82.35,469.52 L82.65,468.70 L83.00,469.00 L83.44,470.19 L83.94,472.48 L84.50,476.00 L85.11,481.26 L85.78,487.74 L86.50,494.00 L87.28,499.74 L88.11,505.26 L89.00,510.00 L89.93,513.67 L90.91,516.56 L92.00,519.00 L93.19,521.06 L94.48,522.67 L96.00,524.00 L97.85,525.09 L99.93,525.91 L102.00,526.50 L104.22,526.83 L106.44,526.94 L108.00,527.00 Z" fill="#e4e4e4" stroke="#cfcfcf" stroke-width="0.5"/>
<path d="M45.30,526.80 L52.47,526.85 L62.39,526.90 L70.00,526.80 L72.94,526.64 L73.57,526.33 L74.00,525.50 L74.85,524.35 L75.49,522.67 L76.10,519.50 L76.74,514.20 L77.37,507.41 L78.00,500.00 L78.68,491.61 L79.37,482.62 L80.00,475.00 L80.55,469.13 L81.04,464.64 L81.50,462.40 L81.89,462.81 L82.24,465.46 L82.70,470.00 L83.33,477.43 L84.06,486.75 L84.80,494.60 L85.53,499.49 L86.26,502.90 L87.00,506.00 L87.71,509.16 L88.42,512.00 L89.20,514.50 L90.11,516.62 L91.10,518.40 L92.00,520.00 L92.69,521.47 L93.29,522.74 L94.10,523.80 L95.15,524.58 L96.40,525.14 L98.00,525.60 L99.67,525.99 L101.68,526.28 L105.00,526.50 L111.09,526.66 L118.49,526.74 L123.80,526.80" fill="none" stroke="#2e9a5a" stroke-width="0.8"/>
<path d="M45.30,526.90 L74.00,526.90 L76.70,526.20 L78.50,518.00 L80.50,494.60 L82.00,484.00 L83.20,478.50 L84.20,476.60 L85.50,475.50 L86.50,473.00 L87.30,472.30 L88.30,474.50 L89.20,472.20 L89.80,472.00 L90.70,477.00 L91.60,484.70 L93.00,489.00 L94.20,491.50 L95.40,492.80 L96.00,490.00 L96.60,494.00 L98.00,501.00 L100.30,510.80 L102.00,514.00 L104.00,517.00 L106.50,518.80 L109.00,521.90 L112.00,523.60 L116.50,525.40 L119.50,525.70 L122.00,524.80 L123.30,524.40" fill="none" stroke="#4d63b8" stroke-width="0.6"/>
<rect x="45.10" y="448.50" width="78.80" height="78.50" fill="none" stroke="#555" stroke-width="0.7"/>
<path d="M45.10,527.00 v1.4 M48.13,527.00 v0.8 M51.16,527.00 v0.8 M54.19,527.00 v0.8 M57.22,527.00 v1.4 M60.25,527.00 v0.8 M63.28,527.00 v0.8 M66.32,527.00 v0.8 M69.35,527.00 v1.4 M72.38,527.00 v0.8 M75.41,527.00 v0.8 M78.44,527.00 v0.8 M81.47,527.00 v1.4 M84.50,527.00 v0.8 M87.53,527.00 v0.8 M90.56,527.00 v0.8 M93.59,527.00 v1.4 M96.62,527.00 v0.8 M99.65,527.00 v0.8 M102.68,527.00 v0.8 M105.72,527.00 v1.4 M108.75,527.00 v0.8 M111.78,527.00 v0.8 M114.81,527.00 v0.8 M117.84,527.00 v1.4 M120.87,527.00 v0.8 M123.90,527.00 v0.8" stroke="#777" stroke-width="0.4"/>
<path d="M150.00,526.90 L151.07,526.92 L152.59,526.87 L154.00,526.30 L155.05,525.20 L155.99,523.59 L157.00,521.00 L158.23,517.74 L159.53,513.52 L160.70,507.00 L161.63,495.91 L162.43,482.52 L163.20,472.30 L163.97,467.16 L164.71,465.18 L165.50,466.10 L166.39,471.02 L167.31,478.84 L168.20,486.00 L168.98,491.22 L169.72,495.79 L170.50,500.00 L171.37,504.08 L172.28,507.81 L173.20,510.80 L174.10,512.75 L175.02,513.96 L176.00,515.00 L177.12,515.99 L178.30,516.81 L179.40,517.60 L180.29,518.34 L181.09,519.06 L182.00,520.00 L183.13,521.40 L184.38,523.03 L185.60,524.40 L186.65,525.33 L187.68,526.01 L189.00,526.50 L191.03,526.77 L193.35,526.86 L195.00,526.90 Z" fill="#e4e4e4" stroke="#cfcfcf" stroke-width="0.5"/>
<path d="M128.70,526.80 L135.35,526.85 L144.59,526.90 L152.00,526.80 L155.71,526.66 L157.60,526.37 L158.90,525.50 L159.81,523.83 L160.13,521.58 L160.50,519.00 L161.17,516.72 L161.90,514.11 L162.60,509.50 L163.25,501.08 L163.88,490.66 L164.50,482.00 L165.08,476.09 L165.65,471.94 L166.30,470.40 L167.11,472.64 L168.00,477.47 L168.80,482.20 L169.41,485.84 L169.94,489.38 L170.50,493.00 L171.14,496.93 L171.82,500.94 L172.50,504.60 L173.15,507.66 L173.80,510.37 L174.50,513.00 L175.22,515.79 L175.99,518.50 L176.90,520.70 L178.05,522.15 L179.34,523.09 L180.60,523.80 L181.73,524.26 L182.83,524.49 L184.00,524.80 L184.73,525.37 L185.53,526.01 L188.00,526.50 L193.93,526.71 L201.52,526.77 L207.00,526.80" fill="none" stroke="#2e9a5a" stroke-width="0.8"/>
<path d="M128.70,526.90 L157.00,526.90 L159.50,526.30 L162.00,520.00 L164.50,507.00 L166.00,494.00 L167.60,482.20 L168.60,472.00 L169.40,466.10 L170.40,464.90 L171.30,468.00 L172.50,482.20 L173.20,477.00 L173.80,474.20 L174.60,478.00 L175.60,484.70 L177.50,490.00 L179.40,494.60 L181.00,500.00 L183.10,509.50 L185.50,515.00 L188.00,520.10 L190.00,519.50 L192.00,521.60 L195.50,523.20 L198.00,522.40 L200.50,525.70 L203.00,525.20 L205.00,523.50 L206.00,522.60 L207.10,523.00" fill="none" stroke="#4d63b8" stroke-width="0.6"/>
<rect x="128.50" y="448.50" width="78.80" height="78.50" fill="none" stroke="#555" stroke-width="0.7"/>
<path d="M128.50,527.00 v1.4 M131.53,527.00 v0.8 M134.56,527.00 v0.8 M137.59,527.00 v0.8 M140.62,527.00 v1.4 M143.65,527.00 v0.8 M146.68,527.00 v0.8 M149.72,527.00 v0.8 M152.75,527.00 v1.4 M155.78,527.00 v0.8 M158.81,527.00 v0.8 M161.84,527.00 v0.8 M164.87,527.00 v1.4 M167.90,527.00 v0.8 M170.93,527.00 v0.8 M173.96,527.00 v0.8 M176.99,527.00 v1.4 M180.02,527.00 v0.8 M183.05,527.00 v0.8 M186.08,527.00 v0.8 M189.12,527.00 v1.4 M192.15,527.00 v0.8 M195.18,527.00 v0.8 M198.21,527.00 v0.8 M201.24,527.00 v1.4 M204.27,527.00 v0.8 M207.30,527.00 v0.8" stroke="#777" stroke-width="0.4"/>
<line x1="42.60" y1="526.50" x2="45.10" y2="526.50" stroke="#555" stroke-width="0.5"/>
<text x="39.20" y="528.99" font-size="7.0" text-anchor="end" fill="#262626" stroke="#262626" stroke-width="0.12">0</text>
<line x1="42.60" y1="511.65" x2="45.10" y2="511.65" stroke="#555" stroke-width="0.5"/>
<text x="39.20" y="514.14" font-size="7.0" text-anchor="end" fill="#262626" stroke="#262626" stroke-width="0.12">20</text>
<line x1="42.60" y1="496.81" x2="45.10" y2="496.81" stroke="#555" stroke-width="0.5"/>
<text x="39.20" y="499.29" font-size="7.0" text-anchor="end" fill="#262626" stroke="#262626" stroke-width="0.12">40</text>
<line x1="42.60" y1="481.96" x2="45.10" y2="481.96" stroke="#555" stroke-width="0.5"/>
<text x="39.20" y="484.45" font-size="7.0" text-anchor="end" fill="#262626" stroke="#262626" stroke-width="0.12">60</text>
<line x1="42.60" y1="467.12" x2="45.10" y2="467.12" stroke="#555" stroke-width="0.5"/>
<text x="39.20" y="469.60" font-size="7.0" text-anchor="end" fill="#262626" stroke="#262626" stroke-width="0.12">80</text>
<line x1="42.60" y1="452.27" x2="45.10" y2="452.27" stroke="#555" stroke-width="0.5"/>
<text x="39.20" y="454.75" font-size="7.0" text-anchor="end" fill="#262626" stroke="#262626" stroke-width="0.12">100</text>
<path d="M45.1,526.50 h-1 M45.1,522.79 h-1 M45.1,519.08 h-1 M45.1,515.37 h-1 M45.1,511.66 h-1 M45.1,507.95 h-1 M45.1,504.24 h-1 M45.1,500.53 h-1 M45.1,496.82 h-1 M45.1,493.11 h-1 M45.1,489.40 h-1 M45.1,485.69 h-1 M45.1,481.98 h-1 M45.1,478.27 h-1 M45.1,474.56 h-1 M45.1,470.85 h-1 M45.1,467.14 h-1 M45.1,463.43 h-1 M45.1,459.72 h-1 M45.1,456.01 h-1 M45.1,452.30 h-1" stroke="#777" stroke-width="0.4"/>
<path d="M128.5,526.50 h-1 M128.5,522.79 h-1 M128.5,519.08 h-1 M128.5,515.37 h-1 M128.5,511.66 h-1 M128.5,507.95 h-1 M128.5,504.24 h-1 M128.5,500.53 h-1 M128.5,496.82 h-1 M128.5,493.11 h-1 M128.5,489.40 h-1 M128.5,485.69 h-1 M128.5,481.98 h-1 M128.5,478.27 h-1 M128.5,474.56 h-1 M128.5,470.85 h-1 M128.5,467.14 h-1 M128.5,463.43 h-1 M128.5,459.72 h-1 M128.5,456.01 h-1 M128.5,452.30 h-1" stroke="#777" stroke-width="0.4"/>
<text x="60.18" y="539.36" font-size="7.2" text-anchor="start" fill="#262626" stroke="#262626" stroke-width="0.12">10</text>
<text x="68.38" y="535.61" font-size="4.752000000000001" text-anchor="start" fill="#666" stroke="#666" stroke-width="0.12">0</text>
<text x="92.38" y="539.36" font-size="7.2" text-anchor="start" fill="#262626" stroke="#262626" stroke-width="0.12">10</text>
<text x="100.58" y="535.61" font-size="4.752000000000001" text-anchor="start" fill="#666" stroke="#666" stroke-width="0.12">1</text>
<text x="108.58" y="539.36" font-size="7.2" text-anchor="start" fill="#262626" stroke="#262626" stroke-width="0.12">10</text>
<text x="116.78" y="535.61" font-size="4.752000000000001" text-anchor="start" fill="#666" stroke="#666" stroke-width="0.12">2</text>
<text x="141.88" y="539.36" font-size="7.2" text-anchor="start" fill="#262626" stroke="#262626" stroke-width="0.12">10</text>
<text x="150.08" y="535.61" font-size="4.752000000000001" text-anchor="start" fill="#666" stroke="#666" stroke-width="0.12">0</text>
<text x="175.38" y="539.36" font-size="7.2" text-anchor="start" fill="#262626" stroke="#262626" stroke-width="0.12">10</text>
<text x="183.58" y="535.61" font-size="4.752000000000001" text-anchor="start" fill="#666" stroke="#666" stroke-width="0.12">1</text>
<text x="191.58" y="539.36" font-size="7.2" text-anchor="start" fill="#262626" stroke="#262626" stroke-width="0.12">10</text>
<text x="199.78" y="535.61" font-size="4.752000000000001" text-anchor="start" fill="#666" stroke="#666" stroke-width="0.12">2</text>
<text x="44.60" y="547.75" font-size="8.3" text-anchor="start" fill="#262626" stroke="#262626" stroke-width="0.12" textLength="60.70" lengthAdjust="spacingAndGlyphs">Autophagy flux</text>
<line x1="110.00" y1="546.20" x2="203.24" y2="546.20" stroke="#3e5072" stroke-width="1.1"/>
<path d="M206.00,546.20 L201.40,544.10 L202.55,546.20 L201.40,548.30 Z" fill="#3e5072"/>
<text x="10.80" y="508.89" font-size="9.0" text-anchor="middle" fill="#262626" stroke="#262626" stroke-width="0.12" textLength="45.60" lengthAdjust="spacingAndGlyphs" transform="rotate(-90 10.80 505.70)">Normalized</text>
<text x="21.10" y="515.10" font-size="9.0" text-anchor="middle" fill="#262626" stroke="#262626" stroke-width="0.12" textLength="33.20" lengthAdjust="spacingAndGlyphs" transform="rotate(-90 21.10 511.90)">to mode</text>
<line x1="21.40" y1="490.30" x2="21.40" y2="450.76" stroke="#3e5072" stroke-width="1.1"/>
<path d="M21.40,448.00 L19.30,452.60 L21.40,451.45 L23.50,452.60 Z" fill="#3e5072"/>
<line x1="210.50" y1="453.10" x2="219.20" y2="453.10" stroke="#999" stroke-width="1.5"/>
<text x="222.90" y="455.66" font-size="7.2" text-anchor="start" fill="#262626" stroke="#262626" stroke-width="0.12">RPMI</text>
<line x1="210.50" y1="462.90" x2="219.20" y2="462.90" stroke="#4d63b8" stroke-width="1.5"/>
<text x="222.90" y="465.46" font-size="7.2" text-anchor="start" fill="#262626" stroke="#262626" stroke-width="0.12">HBSS</text>
<line x1="210.50" y1="472.70" x2="219.20" y2="472.70" stroke="#2e9a5a" stroke-width="1.5"/>
<text x="222.90" y="475.26" font-size="7.2" text-anchor="start" fill="#262626" stroke="#262626" stroke-width="0.12">No glucose</text>
<line x1="232.90" y1="497.10" x2="270.10" y2="497.10" stroke="#3b4a66" stroke-width="3.0"/>
<path d="M278.50,497.10 L268.00,492.80 L270.10,497.10 L268.00,501.40 Z" fill="#3b4a66"/>
<line x1="312.30" y1="446.70" x2="312.30" y2="534.90" stroke="#555" stroke-width="0.7"/>
<line x1="312.30" y1="534.90" x2="400.90" y2="534.90" stroke="#555" stroke-width="0.7"/>
<line x1="309.90" y1="534.90" x2="312.30" y2="534.90" stroke="#555" stroke-width="0.6"/>
<text x="302.80" y="537.38" font-size="7.0" text-anchor="middle" fill="#262626" stroke="#262626" stroke-width="0.12">0</text>
<line x1="309.90" y1="517.24" x2="312.30" y2="517.24" stroke="#555" stroke-width="0.6"/>
<text x="302.80" y="519.73" font-size="7.0" text-anchor="middle" fill="#262626" stroke="#262626" stroke-width="0.12">1</text>
<line x1="309.90" y1="499.58" x2="312.30" y2="499.58" stroke="#555" stroke-width="0.6"/>
<text x="302.80" y="502.06" font-size="7.0" text-anchor="middle" fill="#262626" stroke="#262626" stroke-width="0.12">2</text>
<line x1="309.90" y1="481.92" x2="312.30" y2="481.92" stroke="#555" stroke-width="0.6"/>
<text x="302.80" y="484.40" font-size="7.0" text-anchor="middle" fill="#262626" stroke="#262626" stroke-width="0.12">3</text>
<line x1="309.90" y1="464.26" x2="312.30" y2="464.26" stroke="#555" stroke-width="0.6"/>
<text x="302.80" y="466.75" font-size="7.0" text-anchor="middle" fill="#262626" stroke="#262626" stroke-width="0.12">4</text>
<line x1="309.90" y1="446.60" x2="312.30" y2="446.60" stroke="#555" stroke-width="0.6"/>
<text x="302.80" y="449.08" font-size="7.0" text-anchor="middle" fill="#262626" stroke="#262626" stroke-width="0.12">5</text>
<line x1="355.80" y1="534.90" x2="355.80" y2="537.30" stroke="#555" stroke-width="0.6"/>
<text x="290.30" y="495.05" font-size="8.3" text-anchor="middle" fill="#262626" stroke="#262626" stroke-width="0.12" textLength="60.50" lengthAdjust="spacingAndGlyphs" transform="rotate(-90 290.30 492.10)">Autophagy flux</text>
<text x="332.80" y="547.36" font-size="7.2" text-anchor="middle" fill="#262626" stroke="#262626" stroke-width="0.12">WT</text>
<text x="379.40" y="547.36" font-size="7.2" text-anchor="middle" fill="#262626" stroke="#262626" stroke-width="0.12" textLength="30.00" lengthAdjust="spacingAndGlyphs">AMPK KO</text>
<path d="M316.80,500.99 L316.80,502.03 L316.80,520.62 L317.18,521.65 L324.02,521.65 L324.40,520.62 L324.40,502.03 L324.40,500.99 Z" fill="#d9d9d9" stroke="#555" stroke-width="0.6"/>
<circle cx="320.60" cy="500.99" r="1.4" fill="#fff" stroke="#333" stroke-width="0.6"/>
<path d="M319.40,520.45 l2.4,2.4 M321.80,520.45 l-2.4,2.4" stroke="#333" stroke-width="0.6"/>
<circle cx="320.60" cy="511.94" r="2.2" fill="#000"/>
<path d="M330.28,461.61 L328.60,463.69 L328.81,482.36 L329.44,501.04 L330.28,503.11 L335.32,503.11 L336.16,501.04 L336.79,482.36 L337.00,463.69 L335.32,461.61 Z" fill="#8a9bd0" stroke="#5566aa" stroke-width="0.6"/>
<circle cx="332.80" cy="461.61" r="1.4" fill="#fff" stroke="#333" stroke-width="0.6"/>
<path d="M331.60,501.91 l2.4,2.4 M334.00,501.91 l-2.4,2.4" stroke="#333" stroke-width="0.6"/>
<circle cx="332.80" cy="479.27" r="2.2" fill="#000"/>
<path d="M342.28,496.05 L341.90,497.02 L341.90,503.82 L343.42,509.65 L344.56,515.47 L346.84,515.47 L347.98,509.65 L349.50,503.82 L349.50,497.02 L349.12,496.05 Z" fill="#6cc797" stroke="#3a9a66" stroke-width="0.6"/>
<circle cx="345.70" cy="496.05" r="2.2" fill="#000"/>
<circle cx="345.70" cy="503.47" r="1.4" fill="#fff" stroke="#333" stroke-width="0.6"/>
<path d="M344.50,514.27 l2.4,2.4 M346.90,514.27 l-2.4,2.4" stroke="#333" stroke-width="0.6"/>
<path d="M365.04,494.64 L364.68,495.99 L365.94,502.74 L366.48,509.50 L365.04,514.90 L363.60,518.95 L363.96,521.65 L370.44,521.65 L370.80,518.95 L369.36,514.90 L367.92,509.50 L368.46,502.74 L369.72,495.99 L369.36,494.64 Z" fill="#d9d9d9" stroke="#555" stroke-width="0.6"/>
<circle cx="367.20" cy="494.64" r="1.4" fill="#fff" stroke="#333" stroke-width="0.6"/>
<path d="M366.00,520.45 l2.4,2.4 M368.40,520.45 l-2.4,2.4" stroke="#333" stroke-width="0.6"/>
<circle cx="367.20" cy="518.12" r="2.2" fill="#000"/>
<path d="M376.04,453.66 L375.20,455.15 L375.20,478.39 L375.20,500.64 L377.30,503.11 L381.50,503.11 L383.60,500.64 L383.60,478.39 L383.60,455.15 L382.76,453.66 Z" fill="#8a9bd0" stroke="#5566aa" stroke-width="0.6"/>
<circle cx="379.40" cy="453.66" r="1.4" fill="#fff" stroke="#333" stroke-width="0.6"/>
<path d="M378.20,501.91 l2.4,2.4 M380.60,501.91 l-2.4,2.4" stroke="#333" stroke-width="0.6"/>
<circle cx="379.40" cy="479.27" r="2.2" fill="#000"/>
<path d="M389.18,494.28 L388.80,495.34 L388.80,502.76 L389.94,509.12 L391.46,515.47 L393.74,515.47 L395.26,509.12 L396.40,502.76 L396.40,495.34 L396.02,494.28 Z" fill="#6cc797" stroke="#3a9a66" stroke-width="0.6"/>
<circle cx="392.60" cy="494.28" r="1.4" fill="#fff" stroke="#333" stroke-width="0.6"/>
<circle cx="392.60" cy="500.46" r="2.2" fill="#000"/>
<path d="M391.40,514.27 l2.4,2.4 M393.80,514.27 l-2.4,2.4" stroke="#333" stroke-width="0.6"/>
<line x1="318.40" y1="455.30" x2="333.80" y2="455.30" stroke="#c4c4c4" stroke-width="0.7"/>
<text x="325.80" y="453.54" font-size="8.0" text-anchor="middle" fill="#262626" stroke="#262626" stroke-width="0.12">0.02</text>
<line x1="318.40" y1="445.40" x2="345.10" y2="445.40" stroke="#c4c4c4" stroke-width="0.7"/>
<text x="332.20" y="444.34" font-size="8.0" text-anchor="middle" fill="#262626" stroke="#262626" stroke-width="0.12">ns</text>
<line x1="331.30" y1="433.80" x2="378.80" y2="433.80" stroke="#c4c4c4" stroke-width="0.7"/>
<text x="354.90" y="432.94" font-size="8.0" text-anchor="middle" fill="#262626" stroke="#262626" stroke-width="0.12">ns</text>
<line x1="364.40" y1="451.30" x2="379.40" y2="451.30" stroke="#c4c4c4" stroke-width="0.7"/>
<text x="372.10" y="449.84" font-size="8.0" text-anchor="middle" fill="#262626" stroke="#262626" stroke-width="0.12">0.04</text>
<line x1="364.40" y1="442.40" x2="392.60" y2="442.40" stroke="#c4c4c4" stroke-width="0.7"/>
<text x="378.80" y="441.24" font-size="8.0" text-anchor="middle" fill="#262626" stroke="#262626" stroke-width="0.12">ns</text>
<rect x="409.50" y="449.20" width="7.00" height="7.20" fill="#d9d9d9" stroke="#555" stroke-width="0.6"/>
<text x="420.40" y="455.36" font-size="7.2" text-anchor="start" fill="#262626" stroke="#262626" stroke-width="0.12">RPMI</text>
<rect x="409.50" y="461.20" width="7.00" height="7.20" fill="#8a9bd0" stroke="#5566aa" stroke-width="0.6"/>
<text x="420.40" y="467.36" font-size="7.2" text-anchor="start" fill="#262626" stroke="#262626" stroke-width="0.12">HBSS</text>
<rect x="409.50" y="473.20" width="7.00" height="7.20" fill="#6cc797" stroke="#3a9a66" stroke-width="0.6"/>
<text x="420.40" y="479.36" font-size="7.2" text-anchor="start" fill="#262626" stroke="#262626" stroke-width="0.12">No glucose</text>
<text x="-0.30" y="571.50" font-size="13" text-anchor="start" fill="#000" stroke="#000" stroke-width="0.12" font-weight="bold">f</text>
<rect x="41.40" y="644.88" width="18.20" height="35.42" fill="#fff" stroke="#aaa" stroke-width="0.7"/>
<rect x="68.90" y="602.15" width="17.50" height="78.15" fill="#8fa2d3" stroke="#333" stroke-width="0.7"/>
<rect x="96.60" y="614.93" width="17.50" height="65.37" fill="#f8c57f" stroke="#333" stroke-width="0.7"/>
<line x1="32.00" y1="589.00" x2="32.00" y2="680.30" stroke="#444" stroke-width="0.7"/>
<line x1="32.00" y1="680.30" x2="123.70" y2="680.30" stroke="#444" stroke-width="0.7"/>
<line x1="29.60" y1="680.30" x2="32.00" y2="680.30" stroke="#444" stroke-width="0.6"/>
<text x="27.00" y="682.78" font-size="7.0" text-anchor="end" fill="#262626" stroke="#262626" stroke-width="0.12">0</text>
<line x1="29.60" y1="662.04" x2="32.00" y2="662.04" stroke="#444" stroke-width="0.6"/>
<text x="27.00" y="664.52" font-size="7.0" text-anchor="end" fill="#262626" stroke="#262626" stroke-width="0.12">0.5</text>
<line x1="29.60" y1="643.78" x2="32.00" y2="643.78" stroke="#444" stroke-width="0.6"/>
<text x="27.00" y="646.26" font-size="7.0" text-anchor="end" fill="#262626" stroke="#262626" stroke-width="0.12">1.0</text>
<line x1="29.60" y1="625.52" x2="32.00" y2="625.52" stroke="#444" stroke-width="0.6"/>
<text x="27.00" y="628.00" font-size="7.0" text-anchor="end" fill="#262626" stroke="#262626" stroke-width="0.12">1.5</text>
<line x1="29.60" y1="607.26" x2="32.00" y2="607.26" stroke="#444" stroke-width="0.6"/>
<text x="27.00" y="609.75" font-size="7.0" text-anchor="end" fill="#262626" stroke="#262626" stroke-width="0.12">2.0</text>
<line x1="29.60" y1="589.00" x2="32.00" y2="589.00" stroke="#444" stroke-width="0.6"/>
<text x="27.00" y="591.49" font-size="7.0" text-anchor="end" fill="#262626" stroke="#262626" stroke-width="0.12">2.5</text>
<text x="4.80" y="637.55" font-size="8.3" text-anchor="middle" fill="#262626" stroke="#262626" stroke-width="0.12" textLength="84.00" lengthAdjust="spacingAndGlyphs" transform="rotate(-90 4.80 634.60)">Autophagy flux (CTL)</text>
<line x1="43.50" y1="645.00" x2="58.00" y2="645.00" stroke="#444" stroke-width="0.7"/>
<circle cx="43.30" cy="645.90" r="2.0" fill="#111"/>
<circle cx="50.70" cy="643.60" r="2.0" fill="#111"/>
<circle cx="58.10" cy="645.50" r="2.0" fill="#111"/>
<line x1="78.00" y1="596.00" x2="78.00" y2="608.50" stroke="#222" stroke-width="0.7"/>
<line x1="73.50" y1="596.00" x2="82.50" y2="596.00" stroke="#222" stroke-width="0.7"/>
<line x1="73.50" y1="608.50" x2="82.50" y2="608.50" stroke="#222" stroke-width="0.7"/>
<circle cx="74.40" cy="595.70" r="2.0" fill="#111"/>
<circle cx="81.40" cy="596.30" r="2.0" fill="#111"/>
<circle cx="78.10" cy="615.30" r="2.0" fill="#111"/>
<line x1="105.30" y1="610.50" x2="105.30" y2="619.50" stroke="#222" stroke-width="0.7"/>
<line x1="100.90" y1="610.50" x2="109.70" y2="610.50" stroke="#222" stroke-width="0.7"/>
<circle cx="105.40" cy="606.60" r="2.0" fill="#111"/>
<circle cx="101.90" cy="619.20" r="2.0" fill="#111"/>
<circle cx="108.80" cy="618.50" r="2.0" fill="#111"/>
<line x1="50.20" y1="572.00" x2="105.00" y2="572.00" stroke="#c4c4c4" stroke-width="0.7"/>
<text x="76.90" y="570.54" font-size="8.0" text-anchor="middle" fill="#262626" stroke="#262626" stroke-width="0.12">0.01</text>
<line x1="50.20" y1="588.30" x2="78.20" y2="588.30" stroke="#c4c4c4" stroke-width="0.7"/>
<text x="64.50" y="587.04" font-size="8.0" text-anchor="middle" fill="#262626" stroke="#262626" stroke-width="0.12">0.003</text>
<text x="50.70" y="690.76" font-size="7.2" text-anchor="middle" fill="#262626" stroke="#262626" stroke-width="0.12">RPMI</text>
<text x="78.00" y="690.76" font-size="7.2" text-anchor="middle" fill="#6a6ab8" stroke="#6a6ab8" stroke-width="0.12">HBSS</text>
<text x="104.80" y="690.76" font-size="7.2" text-anchor="middle" fill="#f07f50" stroke="#f07f50" stroke-width="0.12">HF</text>
<line x1="64.10" y1="695.40" x2="123.70" y2="695.40" stroke="#262626" stroke-width="0.7"/>
<text x="94.10" y="705.38" font-size="8.4" text-anchor="middle" fill="#262626" stroke="#262626" stroke-width="0.12">24 h</text>
<line x1="185.60" y1="588.50" x2="185.60" y2="680.40" stroke="#555" stroke-width="0.7"/>
<line x1="185.60" y1="680.40" x2="278.20" y2="680.40" stroke="#555" stroke-width="0.7"/>
<line x1="183.20" y1="661.80" x2="185.60" y2="661.80" stroke="#555" stroke-width="0.6"/>
<text x="179.60" y="664.28" font-size="7.0" text-anchor="end" fill="#262626" stroke="#262626" stroke-width="0.12">1.0</text>
<line x1="183.20" y1="625.10" x2="185.60" y2="625.10" stroke="#555" stroke-width="0.6"/>
<text x="179.60" y="627.58" font-size="7.0" text-anchor="end" fill="#262626" stroke="#262626" stroke-width="0.12">1.2</text>
<line x1="183.20" y1="588.40" x2="185.60" y2="588.40" stroke="#555" stroke-width="0.6"/>
<text x="179.60" y="590.88" font-size="7.0" text-anchor="end" fill="#262626" stroke="#262626" stroke-width="0.12">1.4</text>
<line x1="185.60" y1="680.40" x2="185.60" y2="682.80" stroke="#555" stroke-width="0.6"/>
<text x="185.60" y="692.09" font-size="7.0" text-anchor="middle" fill="#262626" stroke="#262626" stroke-width="0.12">0</text>
<line x1="208.70" y1="680.40" x2="208.70" y2="682.80" stroke="#555" stroke-width="0.6"/>
<text x="208.70" y="692.09" font-size="7.0" text-anchor="middle" fill="#262626" stroke="#262626" stroke-width="0.12">2</text>
<line x1="231.30" y1="680.40" x2="231.30" y2="682.80" stroke="#555" stroke-width="0.6"/>
<text x="231.30" y="692.09" font-size="7.0" text-anchor="middle" fill="#262626" stroke="#262626" stroke-width="0.12">4</text>
<line x1="254.10" y1="680.40" x2="254.10" y2="682.80" stroke="#555" stroke-width="0.6"/>
<text x="254.10" y="692.09" font-size="7.0" text-anchor="middle" fill="#262626" stroke="#262626" stroke-width="0.12">6</text>
<line x1="277.20" y1="680.40" x2="277.20" y2="682.80" stroke="#555" stroke-width="0.6"/>
<text x="277.20" y="692.09" font-size="7.0" text-anchor="middle" fill="#262626" stroke="#262626" stroke-width="0.12">8</text>
<text x="231.30" y="704.71" font-size="8.2" text-anchor="middle" fill="#262626" stroke="#262626" stroke-width="0.12">Time (h)</text>
<text x="159.80" y="637.45" font-size="8.3" text-anchor="middle" fill="#262626" stroke="#262626" stroke-width="0.12" textLength="84.00" lengthAdjust="spacingAndGlyphs" transform="rotate(-90 159.80 634.50)">Autophagy flux (CTL)</text>
<line x1="192.00" y1="570.40" x2="200.70" y2="570.40" stroke="#3a5fae" stroke-width="1.5"/>
<text x="203.70" y="572.96" font-size="7.2" text-anchor="start" fill="#262626" stroke="#262626" stroke-width="0.12">HBSS</text>
<line x1="192.00" y1="581.10" x2="200.70" y2="581.10" stroke="#aaa" stroke-width="1.5"/>
<text x="203.70" y="583.66" font-size="7.2" text-anchor="start" fill="#262626" stroke="#262626" stroke-width="0.12">RPMI</text>
<line x1="234.20" y1="581.10" x2="243.00" y2="581.10" stroke="#f0821e" stroke-width="1.5"/>
<text x="246.20" y="583.66" font-size="7.2" text-anchor="start" fill="#262626" stroke="#262626" stroke-width="0.12">+HF</text>
<path d="M185.60,661.80 L208.70,666.39 L231.30,660.88 L254.10,657.21 L277.20,661.80" fill="none" stroke="#b5b5b5" stroke-width="0.7"/>
<line x1="208.70" y1="667.30" x2="208.70" y2="665.47" stroke="#ccc" stroke-width="0.6"/>
<line x1="206.90" y1="667.30" x2="210.50" y2="667.30" stroke="#ccc" stroke-width="0.6"/>
<line x1="206.90" y1="665.47" x2="210.50" y2="665.47" stroke="#ccc" stroke-width="0.6"/>
<line x1="231.30" y1="664.55" x2="231.30" y2="657.21" stroke="#ccc" stroke-width="0.6"/>
<line x1="229.50" y1="664.55" x2="233.10" y2="664.55" stroke="#ccc" stroke-width="0.6"/>
<line x1="229.50" y1="657.21" x2="233.10" y2="657.21" stroke="#ccc" stroke-width="0.6"/>
<line x1="254.10" y1="660.52" x2="254.10" y2="653.91" stroke="#ccc" stroke-width="0.6"/>
<line x1="252.30" y1="660.52" x2="255.90" y2="660.52" stroke="#ccc" stroke-width="0.6"/>
<line x1="252.30" y1="653.91" x2="255.90" y2="653.91" stroke="#ccc" stroke-width="0.6"/>
<line x1="277.20" y1="663.27" x2="277.20" y2="660.33" stroke="#ccc" stroke-width="0.6"/>
<line x1="275.40" y1="663.27" x2="279.00" y2="663.27" stroke="#ccc" stroke-width="0.6"/>
<line x1="275.40" y1="660.33" x2="279.00" y2="660.33" stroke="#ccc" stroke-width="0.6"/>
<circle cx="185.60" cy="661.80" r="2.2" fill="#b5b5b5"/>
<circle cx="208.70" cy="666.39" r="2.2" fill="#b5b5b5"/>
<circle cx="231.30" cy="660.88" r="2.2" fill="#b5b5b5"/>
<circle cx="254.10" cy="657.21" r="2.2" fill="#b5b5b5"/>
<circle cx="277.20" cy="661.80" r="2.2" fill="#b5b5b5"/>
<path d="M185.60,661.80 L208.70,661.80 L231.30,645.28 L254.10,638.86 L277.20,632.44" fill="none" stroke="#f39a2b" stroke-width="0.7"/>
<line x1="208.70" y1="662.72" x2="208.70" y2="660.88" stroke="#f5b060" stroke-width="0.6"/>
<line x1="206.90" y1="662.72" x2="210.50" y2="662.72" stroke="#f5b060" stroke-width="0.6"/>
<line x1="206.90" y1="660.88" x2="210.50" y2="660.88" stroke="#f5b060" stroke-width="0.6"/>
<line x1="231.30" y1="648.95" x2="231.30" y2="641.61" stroke="#f5b060" stroke-width="0.6"/>
<line x1="229.50" y1="648.95" x2="233.10" y2="648.95" stroke="#f5b060" stroke-width="0.6"/>
<line x1="229.50" y1="641.61" x2="233.10" y2="641.61" stroke="#f5b060" stroke-width="0.6"/>
<line x1="254.10" y1="644.37" x2="254.10" y2="633.36" stroke="#f5b060" stroke-width="0.6"/>
<line x1="252.30" y1="644.37" x2="255.90" y2="644.37" stroke="#f5b060" stroke-width="0.6"/>
<line x1="252.30" y1="633.36" x2="255.90" y2="633.36" stroke="#f5b060" stroke-width="0.6"/>
<line x1="277.20" y1="637.58" x2="277.20" y2="627.30" stroke="#f5b060" stroke-width="0.6"/>
<line x1="275.40" y1="637.58" x2="279.00" y2="637.58" stroke="#f5b060" stroke-width="0.6"/>
<line x1="275.40" y1="627.30" x2="279.00" y2="627.30" stroke="#f5b060" stroke-width="0.6"/>
<circle cx="185.60" cy="661.80" r="2.3" fill="#f39a2b"/>
<circle cx="208.70" cy="661.80" r="2.3" fill="#f39a2b"/>
<circle cx="231.30" cy="645.28" r="2.3" fill="#f39a2b"/>
<circle cx="254.10" cy="638.86" r="2.3" fill="#f39a2b"/>
<circle cx="277.20" cy="632.44" r="2.3" fill="#f39a2b"/>
<path d="M185.60,661.80 L208.70,659.41 L231.30,637.03 L254.10,624.55 L277.20,605.83" fill="none" stroke="#3552a6" stroke-width="0.7"/>
<line x1="208.70" y1="660.33" x2="208.70" y2="658.50" stroke="#7b93cf" stroke-width="0.6"/>
<line x1="206.90" y1="660.33" x2="210.50" y2="660.33" stroke="#7b93cf" stroke-width="0.6"/>
<line x1="206.90" y1="658.50" x2="210.50" y2="658.50" stroke="#7b93cf" stroke-width="0.6"/>
<line x1="231.30" y1="638.50" x2="231.30" y2="635.56" stroke="#7b93cf" stroke-width="0.6"/>
<line x1="229.50" y1="638.50" x2="233.10" y2="638.50" stroke="#7b93cf" stroke-width="0.6"/>
<line x1="229.50" y1="635.56" x2="233.10" y2="635.56" stroke="#7b93cf" stroke-width="0.6"/>
<line x1="254.10" y1="630.05" x2="254.10" y2="619.04" stroke="#7b93cf" stroke-width="0.6"/>
<line x1="252.30" y1="630.05" x2="255.90" y2="630.05" stroke="#7b93cf" stroke-width="0.6"/>
<line x1="252.30" y1="619.04" x2="255.90" y2="619.04" stroke="#7b93cf" stroke-width="0.6"/>
<line x1="277.20" y1="613.17" x2="277.20" y2="598.49" stroke="#7b93cf" stroke-width="0.6"/>
<line x1="275.40" y1="613.17" x2="279.00" y2="613.17" stroke="#7b93cf" stroke-width="0.6"/>
<line x1="275.40" y1="598.49" x2="279.00" y2="598.49" stroke="#7b93cf" stroke-width="0.6"/>
<circle cx="185.60" cy="661.80" r="2.3" fill="#3552a6"/>
<circle cx="208.70" cy="659.41" r="2.3" fill="#3552a6"/>
<circle cx="231.30" cy="637.03" r="2.3" fill="#3552a6"/>
<circle cx="254.10" cy="624.55" r="2.3" fill="#3552a6"/>
<circle cx="277.20" cy="605.83" r="2.3" fill="#3552a6"/>
<text x="231.30" y="631.14" font-size="8.0" text-anchor="middle" fill="#262626" stroke="#262626" stroke-width="0.12">0.03</text>
<text x="254.10" y="616.24" font-size="8.0" text-anchor="middle" fill="#262626" stroke="#262626" stroke-width="0.12">0.03</text>
<text x="277.20" y="596.34" font-size="8.0" text-anchor="middle" fill="#262626" stroke="#262626" stroke-width="0.12">0.02</text>
<text x="277.20" y="624.84" font-size="8.0" text-anchor="middle" fill="#262626" stroke="#262626" stroke-width="0.12">0.03</text></svg></body></html>
